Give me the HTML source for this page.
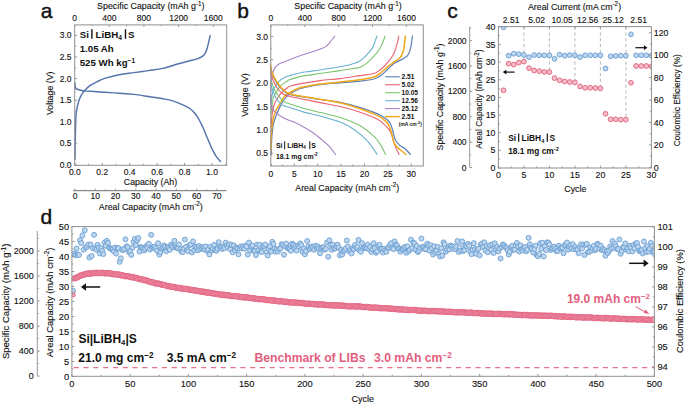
<!DOCTYPE html>
<html><head><meta charset="utf-8"><style>
html,body{margin:0;padding:0;background:#fff;width:685px;height:404px;overflow:hidden;}
svg{display:block;font-family:"Liberation Sans", sans-serif;}
</style></head><body>
<svg width="685" height="404" viewBox="0 0 685 404" font-family='"Liberation Sans", sans-serif'><text x="46.5" y="17.8" font-size="21" text-anchor="middle" fill="#111" stroke="#111" stroke-width="0.4">a</text>
<path d="M75,159.3 C75.02,157.28 75.02,152.12 75.1,147.2 C75.18,142.28 75.38,134.73 75.5,129.8 C75.62,124.87 75.57,121.08 75.8,117.6 C76.03,114.12 76.37,111.8 76.9,108.9 C77.43,106 78.2,102.6 79,100.2 C79.8,97.8 80.77,96.13 81.7,94.5 C82.63,92.87 83.12,91.95 84.6,90.4 C86.08,88.85 88.62,86.62 90.6,85.2 C92.58,83.78 94.17,83.03 96.5,81.9 C98.83,80.77 100.82,79.6 104.6,78.4 C108.38,77.2 114.33,75.67 119.2,74.7 C124.07,73.73 128.93,73.28 133.8,72.6 C138.67,71.92 143.53,71.3 148.4,70.6 C153.27,69.9 158.13,69.5 163,68.4 C167.87,67.3 173.88,65.07 177.6,64 C181.32,62.93 183.23,62.53 185.3,62 C187.37,61.47 187.92,61.37 190,60.8 C192.08,60.23 195.75,59.33 197.8,58.6 C199.85,57.87 201.08,57.28 202.3,56.4 C203.52,55.52 204.35,54.45 205.1,53.3 C205.85,52.15 206.25,51.15 206.8,49.5 C207.35,47.85 207.85,45.72 208.4,43.4 C208.95,41.08 209.82,36.9 210.1,35.6" fill="none" stroke="#5474ab" stroke-width="1.45" stroke-linecap="round" stroke-linejoin="round" />
<path d="M75,83 C75.03,83.58 75,85.57 75.2,86.5 C75.4,87.43 75.75,88.1 76.2,88.6 C76.65,89.1 76.75,89.13 77.9,89.5 C79.05,89.87 80.98,90.5 83.1,90.8 C85.22,91.1 87.02,91.07 90.6,91.3 C94.18,91.53 99.83,91.88 104.6,92.2 C109.37,92.52 114.33,92.83 119.2,93.2 C124.07,93.57 128.93,93.85 133.8,94.4 C138.67,94.95 143.53,95.77 148.4,96.5 C153.27,97.23 159.07,98.12 163,98.8 C166.93,99.48 169.17,99.8 172,100.6 C174.83,101.4 177.27,102.43 180,103.6 C182.73,104.77 186.23,106.33 188.4,107.6 C190.57,108.87 191.6,109.8 193,111.2 C194.4,112.6 195.72,114.45 196.8,116 C197.88,117.55 198.65,118.95 199.5,120.5 C200.35,122.05 201.07,123.55 201.9,125.3 C202.73,127.05 203.67,129.05 204.5,131 C205.33,132.95 206.07,135 206.9,137 C207.73,139 208.65,141.03 209.5,143 C210.35,144.97 210.88,146.57 212,148.8 C213.12,151.03 214.8,154.3 216.2,156.4 C217.6,158.5 219.7,160.57 220.4,161.4" fill="none" stroke="#5474ab" stroke-width="1.45" stroke-linecap="round" stroke-linejoin="round" />
<rect x="74.7" y="24.9" width="152" height="140.4" fill="none" stroke="#8f8f8f" stroke-width="1.0"/>
<line x1="74.7" y1="165" x2="77.2" y2="165" stroke="#8f8f8f" stroke-width="0.9" />
<text x="71.6" y="168" font-size="8.5" text-anchor="end" fill="#111" stroke="#111" stroke-width="0.12">0.0</text>
<line x1="74.7" y1="154.2" x2="76.2" y2="154.2" stroke="#8f8f8f" stroke-width="0.9" />
<line x1="74.7" y1="143.4" x2="77.2" y2="143.4" stroke="#8f8f8f" stroke-width="0.9" />
<text x="71.6" y="146.4" font-size="8.5" text-anchor="end" fill="#111" stroke="#111" stroke-width="0.12">0.5</text>
<line x1="74.7" y1="132.6" x2="76.2" y2="132.6" stroke="#8f8f8f" stroke-width="0.9" />
<line x1="74.7" y1="121.8" x2="77.2" y2="121.8" stroke="#8f8f8f" stroke-width="0.9" />
<text x="71.6" y="124.8" font-size="8.5" text-anchor="end" fill="#111" stroke="#111" stroke-width="0.12">1.0</text>
<line x1="74.7" y1="111" x2="76.2" y2="111" stroke="#8f8f8f" stroke-width="0.9" />
<line x1="74.7" y1="100.2" x2="77.2" y2="100.2" stroke="#8f8f8f" stroke-width="0.9" />
<text x="71.6" y="103.2" font-size="8.5" text-anchor="end" fill="#111" stroke="#111" stroke-width="0.12">1.5</text>
<line x1="74.7" y1="89.4" x2="76.2" y2="89.4" stroke="#8f8f8f" stroke-width="0.9" />
<line x1="74.7" y1="78.6" x2="77.2" y2="78.6" stroke="#8f8f8f" stroke-width="0.9" />
<text x="71.6" y="81.6" font-size="8.5" text-anchor="end" fill="#111" stroke="#111" stroke-width="0.12">2.0</text>
<line x1="74.7" y1="67.8" x2="76.2" y2="67.8" stroke="#8f8f8f" stroke-width="0.9" />
<line x1="74.7" y1="57" x2="77.2" y2="57" stroke="#8f8f8f" stroke-width="0.9" />
<text x="71.6" y="60" font-size="8.5" text-anchor="end" fill="#111" stroke="#111" stroke-width="0.12">2.5</text>
<line x1="74.7" y1="46.2" x2="76.2" y2="46.2" stroke="#8f8f8f" stroke-width="0.9" />
<line x1="74.7" y1="35.4" x2="77.2" y2="35.4" stroke="#8f8f8f" stroke-width="0.9" />
<text x="71.6" y="38.4" font-size="8.5" text-anchor="end" fill="#111" stroke="#111" stroke-width="0.12">3.0</text>
<line x1="74.8" y1="165.3" x2="74.8" y2="162.8" stroke="#8f8f8f" stroke-width="0.9" />
<text x="74.8" y="175" font-size="8.5" text-anchor="middle" fill="#111" stroke="#111" stroke-width="0.12">0.0</text>
<line x1="88.52" y1="165.3" x2="88.52" y2="163.8" stroke="#8f8f8f" stroke-width="0.9" />
<line x1="102.24" y1="165.3" x2="102.24" y2="162.8" stroke="#8f8f8f" stroke-width="0.9" />
<text x="102.24" y="175" font-size="8.5" text-anchor="middle" fill="#111" stroke="#111" stroke-width="0.12">0.2</text>
<line x1="115.96" y1="165.3" x2="115.96" y2="163.8" stroke="#8f8f8f" stroke-width="0.9" />
<line x1="129.68" y1="165.3" x2="129.68" y2="162.8" stroke="#8f8f8f" stroke-width="0.9" />
<text x="129.68" y="175" font-size="8.5" text-anchor="middle" fill="#111" stroke="#111" stroke-width="0.12">0.4</text>
<line x1="143.4" y1="165.3" x2="143.4" y2="163.8" stroke="#8f8f8f" stroke-width="0.9" />
<line x1="157.12" y1="165.3" x2="157.12" y2="162.8" stroke="#8f8f8f" stroke-width="0.9" />
<text x="157.12" y="175" font-size="8.5" text-anchor="middle" fill="#111" stroke="#111" stroke-width="0.12">0.6</text>
<line x1="170.84" y1="165.3" x2="170.84" y2="163.8" stroke="#8f8f8f" stroke-width="0.9" />
<line x1="184.56" y1="165.3" x2="184.56" y2="162.8" stroke="#8f8f8f" stroke-width="0.9" />
<text x="184.56" y="175" font-size="8.5" text-anchor="middle" fill="#111" stroke="#111" stroke-width="0.12">0.8</text>
<line x1="198.28" y1="165.3" x2="198.28" y2="163.8" stroke="#8f8f8f" stroke-width="0.9" />
<line x1="212" y1="165.3" x2="212" y2="162.8" stroke="#8f8f8f" stroke-width="0.9" />
<text x="212" y="175" font-size="8.5" text-anchor="middle" fill="#111" stroke="#111" stroke-width="0.12">1.0</text>
<line x1="225.72" y1="165.3" x2="225.72" y2="163.8" stroke="#8f8f8f" stroke-width="0.9" />
<text x="150.5" y="184.8" font-size="8.8" text-anchor="middle" fill="#111" stroke="#111" stroke-width="0.12">Capacity (Ah)</text>
<line x1="74.6" y1="24.9" x2="74.6" y2="27.1" stroke="#8f8f8f" stroke-width="0.9" />
<text x="74.6" y="20.6" font-size="8.5" text-anchor="middle" fill="#111" stroke="#111" stroke-width="0.12">0</text>
<line x1="91.94" y1="24.9" x2="91.94" y2="26.2" stroke="#8f8f8f" stroke-width="0.9" />
<line x1="109.28" y1="24.9" x2="109.28" y2="27.1" stroke="#8f8f8f" stroke-width="0.9" />
<text x="109.28" y="20.6" font-size="8.5" text-anchor="middle" fill="#111" stroke="#111" stroke-width="0.12">400</text>
<line x1="126.62" y1="24.9" x2="126.62" y2="26.2" stroke="#8f8f8f" stroke-width="0.9" />
<line x1="143.96" y1="24.9" x2="143.96" y2="27.1" stroke="#8f8f8f" stroke-width="0.9" />
<text x="143.96" y="20.6" font-size="8.5" text-anchor="middle" fill="#111" stroke="#111" stroke-width="0.12">800</text>
<line x1="161.3" y1="24.9" x2="161.3" y2="26.2" stroke="#8f8f8f" stroke-width="0.9" />
<line x1="178.64" y1="24.9" x2="178.64" y2="27.1" stroke="#8f8f8f" stroke-width="0.9" />
<text x="178.64" y="20.6" font-size="8.5" text-anchor="middle" fill="#111" stroke="#111" stroke-width="0.12">1200</text>
<line x1="195.98" y1="24.9" x2="195.98" y2="26.2" stroke="#8f8f8f" stroke-width="0.9" />
<line x1="213.32" y1="24.9" x2="213.32" y2="27.1" stroke="#8f8f8f" stroke-width="0.9" />
<text x="213.32" y="20.6" font-size="8.5" text-anchor="middle" fill="#111" stroke="#111" stroke-width="0.12">1600</text>
<text x="150.8" y="9.1" font-size="8.85" text-anchor="middle" fill="#111" stroke="#111" stroke-width="0.12">Specific Capacity (mAh g<tspan dy="-3.6" font-size="6.3">-1</tspan><tspan dy="3.6">)</tspan></text>
<line x1="73.1" y1="190.6" x2="226.4" y2="190.6" stroke="#8a8a8a" stroke-width="1.1" />
<line x1="75" y1="190.6" x2="75" y2="188.6" stroke="#8f8f8f" stroke-width="0.9" />
<text x="75" y="198.6" font-size="8.5" text-anchor="middle" fill="#111" stroke="#111" stroke-width="0.12">0</text>
<line x1="85.14" y1="190.6" x2="85.14" y2="189.4" stroke="#8f8f8f" stroke-width="0.9" />
<line x1="95.27" y1="190.6" x2="95.27" y2="188.6" stroke="#8f8f8f" stroke-width="0.9" />
<text x="95.27" y="198.6" font-size="8.5" text-anchor="middle" fill="#111" stroke="#111" stroke-width="0.12">10</text>
<line x1="105.41" y1="190.6" x2="105.41" y2="189.4" stroke="#8f8f8f" stroke-width="0.9" />
<line x1="115.54" y1="190.6" x2="115.54" y2="188.6" stroke="#8f8f8f" stroke-width="0.9" />
<text x="115.54" y="198.6" font-size="8.5" text-anchor="middle" fill="#111" stroke="#111" stroke-width="0.12">20</text>
<line x1="125.68" y1="190.6" x2="125.68" y2="189.4" stroke="#8f8f8f" stroke-width="0.9" />
<line x1="135.81" y1="190.6" x2="135.81" y2="188.6" stroke="#8f8f8f" stroke-width="0.9" />
<text x="135.81" y="198.6" font-size="8.5" text-anchor="middle" fill="#111" stroke="#111" stroke-width="0.12">30</text>
<line x1="145.94" y1="190.6" x2="145.94" y2="189.4" stroke="#8f8f8f" stroke-width="0.9" />
<line x1="156.08" y1="190.6" x2="156.08" y2="188.6" stroke="#8f8f8f" stroke-width="0.9" />
<text x="156.08" y="198.6" font-size="8.5" text-anchor="middle" fill="#111" stroke="#111" stroke-width="0.12">40</text>
<line x1="166.22" y1="190.6" x2="166.22" y2="189.4" stroke="#8f8f8f" stroke-width="0.9" />
<line x1="176.35" y1="190.6" x2="176.35" y2="188.6" stroke="#8f8f8f" stroke-width="0.9" />
<text x="176.35" y="198.6" font-size="8.5" text-anchor="middle" fill="#111" stroke="#111" stroke-width="0.12">50</text>
<line x1="186.49" y1="190.6" x2="186.49" y2="189.4" stroke="#8f8f8f" stroke-width="0.9" />
<line x1="196.62" y1="190.6" x2="196.62" y2="188.6" stroke="#8f8f8f" stroke-width="0.9" />
<text x="196.62" y="198.6" font-size="8.5" text-anchor="middle" fill="#111" stroke="#111" stroke-width="0.12">60</text>
<line x1="206.75" y1="190.6" x2="206.75" y2="189.4" stroke="#8f8f8f" stroke-width="0.9" />
<line x1="216.89" y1="190.6" x2="216.89" y2="188.6" stroke="#8f8f8f" stroke-width="0.9" />
<text x="216.89" y="198.6" font-size="8.5" text-anchor="middle" fill="#111" stroke="#111" stroke-width="0.12">70</text>
<text x="150.8" y="210" font-size="8.85" text-anchor="middle" fill="#111" stroke="#111" stroke-width="0.12">Areal Capacity (mAh cm<tspan dy="-3.6" font-size="6.3">-2</tspan><tspan dy="3.6">)</tspan></text>
<text x="52.8" y="93.3" font-size="8.8" text-anchor="middle" fill="#111" stroke="#111" stroke-width="0.12" transform="rotate(-90 52.8 93.3)">Voltage (V)</text>
<text x="79.7" y="38.2" font-size="9.7" text-anchor="start" font-weight="bold" fill="#111">Si</text>
<line x1="91.9" y1="29.3" x2="91.9" y2="38.8" stroke="#111" stroke-width="1.4" />
<text x="95.6" y="38.2" font-size="9.7" text-anchor="start" font-weight="bold" fill="#111">LiBH<tspan dy="2.2" font-size="6.6">4</tspan></text>
<line x1="125.5" y1="29.3" x2="125.5" y2="38.8" stroke="#111" stroke-width="1.4" />
<text x="127.9" y="38.2" font-size="9.7" text-anchor="start" font-weight="bold" fill="#111">S</text>
<text x="79.7" y="52.2" font-size="9.7" text-anchor="start" font-weight="bold" fill="#111">1.05 Ah</text>
<text x="79.7" y="65.9" font-size="9.7" text-anchor="start" font-weight="bold" fill="#111">525 Wh kg<tspan dy="-3.4" font-size="6.6">−1</tspan></text>
<text x="243" y="17.7" font-size="21" text-anchor="middle" fill="#111" stroke="#111" stroke-width="0.4">b</text>
<path d="M271,92 C271.05,90.33 271.13,84.67 271.3,82 C271.47,79.33 271.73,77.57 272,76 C272.27,74.43 272.42,73.95 272.9,72.6 C273.38,71.25 273.9,69.33 274.9,67.9 C275.9,66.47 277.08,65.1 278.9,64 C280.72,62.9 283.5,62.22 285.8,61.3 C288.1,60.38 289.48,59.7 292.7,58.5 C295.92,57.3 300.97,55.52 305.1,54.1 C309.23,52.68 314.52,51.02 317.5,50 C320.48,48.98 321.57,48.6 323,48 C324.43,47.4 325.22,47 326.1,46.4 C326.98,45.8 327.62,45.17 328.3,44.4 C328.98,43.63 329.5,42.7 330.2,41.8 C330.9,40.9 331.73,39.93 332.5,39 C333.27,38.07 334.42,36.67 334.8,36.2" fill="none" stroke="#a784c4" stroke-width="1.1" stroke-linecap="round" stroke-linejoin="round" />
<path d="M271,104 C271.22,102.33 271.82,96.5 272.3,94 C272.78,91.5 273.3,90.42 273.9,89 C274.5,87.58 274.73,87.07 275.9,85.5 C277.07,83.93 279.25,81.05 280.9,79.6 C282.55,78.15 284.3,77.5 285.8,76.8 C287.3,76.1 287.57,76.03 289.9,75.4 C292.23,74.77 297.02,73.6 299.8,73 C302.58,72.4 303.23,72.3 306.6,71.8 C309.97,71.3 314.43,70.83 320,70 C325.57,69.17 335,67.68 340,66.8 C345,65.92 347.33,65.37 350,64.7 C352.67,64.03 354.33,63.42 356,62.8 C357.67,62.18 358.75,61.82 360,61 C361.25,60.18 362.35,58.93 363.5,57.9 C364.65,56.87 365.4,56.47 366.9,54.8 C368.4,53.13 371.12,50.22 372.5,47.9 C373.88,45.58 374.47,42.87 375.2,40.9 C375.93,38.93 376.62,36.9 376.9,36.1" fill="none" stroke="#6ab3d0" stroke-width="1.1" stroke-linecap="round" stroke-linejoin="round" />
<path d="M271,114 C271.33,111.5 272.25,102.42 273,99 C273.75,95.58 274.68,95.07 275.5,93.5 C276.32,91.93 277.15,90.82 277.9,89.6 C278.65,88.38 278.68,87.47 280,86.2 C281.32,84.93 284.15,83.1 285.8,82 C287.45,80.9 287.57,80.5 289.9,79.6 C292.23,78.7 294.78,77.62 299.8,76.6 C304.82,75.58 313.3,74.5 320,73.5 C326.7,72.5 334.67,71.38 340,70.6 C345.33,69.82 348.67,69.37 352,68.8 C355.33,68.23 357.52,68.15 360,67.2 C362.48,66.25 364.58,64.93 366.9,63.1 C369.22,61.27 371.82,58.52 373.9,56.2 C375.98,53.88 377.9,51.52 379.4,49.2 C380.9,46.88 381.98,44.48 382.9,42.3 C383.82,40.12 384.57,37.13 384.9,36.1" fill="none" stroke="#7cc46f" stroke-width="1.1" stroke-linecap="round" stroke-linejoin="round" />
<path d="M271,128 C271.22,125.5 271.67,117.17 272.3,113 C272.93,108.83 273.77,105.75 274.8,103 C275.83,100.25 277.13,98.45 278.5,96.5 C279.87,94.55 281.45,92.8 283,91.3 C284.55,89.8 286.65,88.33 287.8,87.5 C288.95,86.67 287.9,86.9 289.9,86.3 C291.9,85.7 294.78,84.85 299.8,83.9 C304.82,82.95 313.3,81.48 320,80.6 C326.7,79.72 333.33,79.43 340,78.6 C346.67,77.77 354.35,76.45 360,75.6 C365.65,74.75 370.43,74.55 373.9,73.5 C377.37,72.45 378.5,71.15 380.8,69.3 C383.1,67.45 385.62,64.82 387.7,62.4 C389.78,59.98 391.8,57.68 393.3,54.8 C394.8,51.92 395.78,48.22 396.7,45.1 C397.62,41.98 398.45,37.6 398.8,36.1" fill="none" stroke="#e8636f" stroke-width="1.1" stroke-linecap="round" stroke-linejoin="round" />
<path d="M271.2,155 C271.27,152.5 271.22,145.17 271.6,140 C271.98,134.83 272.6,128.42 273.5,124 C274.4,119.58 275.92,116.4 277,113.5 C278.08,110.6 278.67,109.1 280,106.6 C281.33,104.1 283.35,100.63 285,98.5 C286.65,96.37 287.43,95.42 289.9,93.8 C292.37,92.18 296.5,90.02 299.8,88.8 C303.1,87.58 306.33,87.2 309.7,86.5 C313.07,85.8 314.95,85.2 320,84.6 C325.05,84 333.33,83.48 340,82.9 C346.67,82.32 354.35,81.75 360,81.1 C365.65,80.45 370.43,79.92 373.9,79 C377.37,78.08 378.5,77.22 380.8,75.6 C383.1,73.98 385.4,71.38 387.7,69.3 C390,67.22 392.28,64.72 394.6,63.1 C396.92,61.48 399.52,60.75 401.6,59.6 C403.68,58.45 405.72,57.7 407.1,56.2 C408.48,54.7 409.18,52.63 409.9,50.6 C410.62,48.57 410.98,46.42 411.4,44 C411.82,41.58 412.23,37.42 412.4,36.1" fill="none" stroke="#5a7db5" stroke-width="1.2" stroke-linecap="round" stroke-linejoin="round" />
<path d="M271,150 C271.05,147.53 270.97,140.3 271.3,135.2 C271.63,130.1 272.22,123.52 273,119.4 C273.78,115.28 274.83,113.12 276,110.5 C277.17,107.88 278.5,106.17 280,103.7 C281.5,101.23 283.35,97.6 285,95.7 C286.65,93.8 287.43,93.62 289.9,92.3 C292.37,90.98 296.5,88.88 299.8,87.8 C303.1,86.72 306.33,86.43 309.7,85.8 C313.07,85.17 314.95,84.63 320,84 C325.05,83.37 333.33,82.72 340,82 C346.67,81.28 354.35,80.53 360,79.7 C365.65,78.87 370.43,78.15 373.9,77 C377.37,75.85 378.5,74.53 380.8,72.8 C383.1,71.07 385.4,68.45 387.7,66.6 C390,64.75 392.52,63.2 394.6,61.7 C396.68,60.2 398.8,59.22 400.2,57.6 C401.6,55.98 402.32,54.08 403,52 C403.68,49.92 403.9,47.75 404.3,45.1 C404.7,42.45 405.22,37.6 405.4,36.1" fill="none" stroke="#f0a81c" stroke-width="1.5" stroke-linecap="round" stroke-linejoin="round" />
<path d="M270.7,95 C270.73,96.25 270.68,100.42 270.9,102.5 C271.12,104.58 271.45,106.05 272,107.5 C272.55,108.95 272.98,109.9 274.2,111.2 C275.42,112.5 277.57,114.1 279.3,115.3 C281.03,116.5 282.18,117.27 284.6,118.4 C287.02,119.53 290.72,120.72 293.8,122.1 C296.88,123.48 300,125 303.1,126.7 C306.2,128.4 309.3,130.13 312.4,132.3 C315.5,134.47 318.92,137.38 321.7,139.7 C324.48,142.02 326.78,143.72 329.1,146.2 C331.42,148.68 334.52,153.2 335.6,154.6" fill="none" stroke="#a784c4" stroke-width="1.1" stroke-linecap="round" stroke-linejoin="round" />
<path d="M271,85.5 C271.48,86.83 272.92,91.2 273.9,93.5 C274.88,95.8 275.8,97.62 276.9,99.3 C278,100.98 279.22,102.48 280.5,103.6 C281.78,104.72 283.03,105.33 284.6,106 C286.17,106.67 286.82,106.62 289.9,107.6 C292.98,108.58 297.8,110.42 303.1,111.9 C308.4,113.38 315.55,114.8 321.7,116.5 C327.85,118.2 334.48,119.85 340,122.1 C345.52,124.35 350.17,126.78 354.8,130 C359.43,133.22 364.08,137.33 367.8,141.4 C371.52,145.47 375.55,152.23 377.1,154.4" fill="none" stroke="#6ab3d0" stroke-width="1.1" stroke-linecap="round" stroke-linejoin="round" />
<path d="M270.8,80.5 C271.32,81.83 272.72,86.08 273.9,88.5 C275.08,90.92 276.63,93.18 277.9,95 C279.17,96.82 280.38,98.23 281.5,99.4 C282.62,100.57 283.2,101.23 284.6,102 C286,102.77 286.82,102.97 289.9,104 C292.98,105.03 297.8,106.73 303.1,108.2 C308.4,109.67 315.55,111.27 321.7,112.8 C327.85,114.33 333.85,115.42 340,117.4 C346.15,119.38 353.03,121.63 358.6,124.7 C364.17,127.77 369.7,132.4 373.4,135.8 C377.1,139.2 378.78,142 380.8,145.1 C382.82,148.2 384.72,152.85 385.5,154.4" fill="none" stroke="#7cc46f" stroke-width="1.1" stroke-linecap="round" stroke-linejoin="round" />
<path d="M270.6,72.5 C270.98,73.72 271.85,77.3 272.9,79.8 C273.95,82.3 275.55,85.42 276.9,87.5 C278.25,89.58 279.65,91.07 281,92.3 C282.35,93.53 283.52,94.2 285,94.9 C286.48,95.6 287.43,95.9 289.9,96.5 C292.37,97.1 294.78,97.48 299.8,98.5 C304.82,99.52 313.3,101.27 320,102.6 C326.7,103.93 333.57,104.98 340,106.5 C346.43,108.02 352.42,109.6 358.6,111.7 C364.78,113.8 372.47,116.62 377.1,119.1 C381.73,121.58 384.17,124.45 386.4,126.6 C388.63,128.75 389.48,130.18 390.5,132 C391.52,133.82 391.78,135.32 392.5,137.5 C393.22,139.68 393.72,142.28 394.8,145.1 C395.88,147.92 398.3,152.85 399,154.4" fill="none" stroke="#e8636f" stroke-width="1.1" stroke-linecap="round" stroke-linejoin="round" />
<path d="M270.8,66.8 C270.87,67.3 270.95,68.63 271.2,69.8 C271.45,70.97 271.78,72.33 272.3,73.8 C272.82,75.27 273.47,76.97 274.3,78.6 C275.13,80.23 276.28,82.1 277.3,83.6 C278.32,85.1 279.08,86.2 280.4,87.6 C281.72,89 283.6,90.82 285.2,92 C286.8,93.18 287.57,93.97 290,94.7 C292.43,95.43 296.52,95.85 299.8,96.4 C303.08,96.95 306.33,97.48 309.7,98 C313.07,98.52 314.95,98.77 320,99.5 C325.05,100.23 333.57,101.13 340,102.4 C346.43,103.67 352.42,105.23 358.6,107.1 C364.78,108.97 372.47,111.6 377.1,113.6 C381.73,115.6 384.2,117.45 386.4,119.1 C388.6,120.75 389.27,121.68 390.3,123.5 C391.33,125.32 391.93,127.75 392.6,130 C393.27,132.25 393.78,135.25 394.3,137 C394.82,138.75 394.85,139.15 395.7,140.5 C396.55,141.85 397.85,143.72 399.4,145.1 C400.95,146.48 403.15,147.25 405,148.8 C406.85,150.35 409.58,153.47 410.5,154.4" fill="none" stroke="#5a7db5" stroke-width="1.2" stroke-linecap="round" stroke-linejoin="round" />
<path d="M270.6,64.5 C270.63,65 270.58,66.27 270.8,67.5 C271.02,68.73 271.38,70.35 271.9,71.9 C272.42,73.45 273.07,75.15 273.9,76.8 C274.73,78.45 275.88,80.22 276.9,81.8 C277.92,83.38 278.72,84.77 280,86.3 C281.28,87.83 282.95,89.72 284.6,91 C286.25,92.28 287.37,93.18 289.9,94 C292.43,94.82 296.5,95.3 299.8,95.9 C303.1,96.5 306.33,97.05 309.7,97.6 C313.07,98.15 314.95,98.33 320,99.2 C325.05,100.07 333.57,101.3 340,102.8 C346.43,104.3 352.42,106.1 358.6,108.2 C364.78,110.3 372.47,113.12 377.1,115.4 C381.73,117.68 384.23,119.73 386.4,121.9 C388.57,124.07 389.13,126.13 390.1,128.4 C391.07,130.67 391.58,133.23 392.2,135.5 C392.82,137.77 393.08,140.15 393.8,142 C394.52,143.85 395.3,145.18 396.5,146.6 C397.7,148.02 399.43,149.2 401,150.5 C402.57,151.8 405.08,153.75 405.9,154.4" fill="none" stroke="#f0a81c" stroke-width="1.5" stroke-linecap="round" stroke-linejoin="round" />
<rect x="270.8" y="24.9" width="152.5" height="141.1" fill="none" stroke="#8f8f8f" stroke-width="1.0"/>
<line x1="270.8" y1="164.93" x2="272.3" y2="164.93" stroke="#8f8f8f" stroke-width="0.9" />
<line x1="270.8" y1="153.25" x2="273.3" y2="153.25" stroke="#8f8f8f" stroke-width="0.9" />
<text x="268.1" y="156.25" font-size="8.5" text-anchor="end" fill="#111" stroke="#111" stroke-width="0.12">0.5</text>
<line x1="270.8" y1="141.57" x2="272.3" y2="141.57" stroke="#8f8f8f" stroke-width="0.9" />
<line x1="270.8" y1="129.9" x2="273.3" y2="129.9" stroke="#8f8f8f" stroke-width="0.9" />
<text x="268.1" y="132.9" font-size="8.5" text-anchor="end" fill="#111" stroke="#111" stroke-width="0.12">1.0</text>
<line x1="270.8" y1="118.23" x2="272.3" y2="118.23" stroke="#8f8f8f" stroke-width="0.9" />
<line x1="270.8" y1="106.55" x2="273.3" y2="106.55" stroke="#8f8f8f" stroke-width="0.9" />
<text x="268.1" y="109.55" font-size="8.5" text-anchor="end" fill="#111" stroke="#111" stroke-width="0.12">1.5</text>
<line x1="270.8" y1="94.88" x2="272.3" y2="94.88" stroke="#8f8f8f" stroke-width="0.9" />
<line x1="270.8" y1="83.2" x2="273.3" y2="83.2" stroke="#8f8f8f" stroke-width="0.9" />
<text x="268.1" y="86.2" font-size="8.5" text-anchor="end" fill="#111" stroke="#111" stroke-width="0.12">2.0</text>
<line x1="270.8" y1="71.53" x2="272.3" y2="71.53" stroke="#8f8f8f" stroke-width="0.9" />
<line x1="270.8" y1="59.85" x2="273.3" y2="59.85" stroke="#8f8f8f" stroke-width="0.9" />
<text x="268.1" y="62.85" font-size="8.5" text-anchor="end" fill="#111" stroke="#111" stroke-width="0.12">2.5</text>
<line x1="270.8" y1="48.17" x2="272.3" y2="48.17" stroke="#8f8f8f" stroke-width="0.9" />
<line x1="270.8" y1="36.5" x2="273.3" y2="36.5" stroke="#8f8f8f" stroke-width="0.9" />
<text x="268.1" y="39.5" font-size="8.5" text-anchor="end" fill="#111" stroke="#111" stroke-width="0.12">3.0</text>
<line x1="270.9" y1="166" x2="270.9" y2="163.5" stroke="#8f8f8f" stroke-width="0.9" />
<text x="270.9" y="177.3" font-size="8.5" text-anchor="middle" fill="#111" stroke="#111" stroke-width="0.12">0</text>
<line x1="282.6" y1="166" x2="282.6" y2="164.5" stroke="#8f8f8f" stroke-width="0.9" />
<line x1="294.3" y1="166" x2="294.3" y2="163.5" stroke="#8f8f8f" stroke-width="0.9" />
<text x="294.3" y="177.3" font-size="8.5" text-anchor="middle" fill="#111" stroke="#111" stroke-width="0.12">5</text>
<line x1="306" y1="166" x2="306" y2="164.5" stroke="#8f8f8f" stroke-width="0.9" />
<line x1="317.7" y1="166" x2="317.7" y2="163.5" stroke="#8f8f8f" stroke-width="0.9" />
<text x="317.7" y="177.3" font-size="8.5" text-anchor="middle" fill="#111" stroke="#111" stroke-width="0.12">10</text>
<line x1="329.4" y1="166" x2="329.4" y2="164.5" stroke="#8f8f8f" stroke-width="0.9" />
<line x1="341.1" y1="166" x2="341.1" y2="163.5" stroke="#8f8f8f" stroke-width="0.9" />
<text x="341.1" y="177.3" font-size="8.5" text-anchor="middle" fill="#111" stroke="#111" stroke-width="0.12">15</text>
<line x1="352.8" y1="166" x2="352.8" y2="164.5" stroke="#8f8f8f" stroke-width="0.9" />
<line x1="364.5" y1="166" x2="364.5" y2="163.5" stroke="#8f8f8f" stroke-width="0.9" />
<text x="364.5" y="177.3" font-size="8.5" text-anchor="middle" fill="#111" stroke="#111" stroke-width="0.12">20</text>
<line x1="376.2" y1="166" x2="376.2" y2="164.5" stroke="#8f8f8f" stroke-width="0.9" />
<line x1="387.9" y1="166" x2="387.9" y2="163.5" stroke="#8f8f8f" stroke-width="0.9" />
<text x="387.9" y="177.3" font-size="8.5" text-anchor="middle" fill="#111" stroke="#111" stroke-width="0.12">25</text>
<line x1="399.6" y1="166" x2="399.6" y2="164.5" stroke="#8f8f8f" stroke-width="0.9" />
<line x1="411.3" y1="166" x2="411.3" y2="163.5" stroke="#8f8f8f" stroke-width="0.9" />
<text x="411.3" y="177.3" font-size="8.5" text-anchor="middle" fill="#111" stroke="#111" stroke-width="0.12">30</text>
<text x="347.2" y="190.8" font-size="8.85" text-anchor="middle" fill="#111" stroke="#111" stroke-width="0.12">Areal Capacity (mAh cm<tspan dy="-3.6" font-size="6.3">-2</tspan><tspan dy="3.6">)</tspan></text>
<line x1="270.9" y1="24.9" x2="270.9" y2="27.1" stroke="#8f8f8f" stroke-width="0.9" />
<text x="270.9" y="20.6" font-size="8.5" text-anchor="middle" fill="#111" stroke="#111" stroke-width="0.12">0</text>
<line x1="287.84" y1="24.9" x2="287.84" y2="26.2" stroke="#8f8f8f" stroke-width="0.9" />
<line x1="304.78" y1="24.9" x2="304.78" y2="27.1" stroke="#8f8f8f" stroke-width="0.9" />
<text x="304.78" y="20.6" font-size="8.5" text-anchor="middle" fill="#111" stroke="#111" stroke-width="0.12">400</text>
<line x1="321.72" y1="24.9" x2="321.72" y2="26.2" stroke="#8f8f8f" stroke-width="0.9" />
<line x1="338.66" y1="24.9" x2="338.66" y2="27.1" stroke="#8f8f8f" stroke-width="0.9" />
<text x="338.66" y="20.6" font-size="8.5" text-anchor="middle" fill="#111" stroke="#111" stroke-width="0.12">800</text>
<line x1="355.6" y1="24.9" x2="355.6" y2="26.2" stroke="#8f8f8f" stroke-width="0.9" />
<line x1="372.54" y1="24.9" x2="372.54" y2="27.1" stroke="#8f8f8f" stroke-width="0.9" />
<text x="372.54" y="20.6" font-size="8.5" text-anchor="middle" fill="#111" stroke="#111" stroke-width="0.12">1200</text>
<line x1="389.48" y1="24.9" x2="389.48" y2="26.2" stroke="#8f8f8f" stroke-width="0.9" />
<line x1="406.42" y1="24.9" x2="406.42" y2="27.1" stroke="#8f8f8f" stroke-width="0.9" />
<text x="406.42" y="20.6" font-size="8.5" text-anchor="middle" fill="#111" stroke="#111" stroke-width="0.12">1600</text>
<text x="348" y="9.1" font-size="8.85" text-anchor="middle" fill="#111" stroke="#111" stroke-width="0.12">Specific Capacity (mAh g<tspan dy="-3.6" font-size="6.3">-1</tspan><tspan dy="3.6">)</tspan></text>
<text x="248" y="95" font-size="8.8" text-anchor="middle" fill="#111" stroke="#111" stroke-width="0.12" transform="rotate(-90 248 95)">Voltage (V)</text>
<line x1="385.1" y1="76.8" x2="399.8" y2="76.8" stroke="#5a7db5" stroke-width="1.1" />
<text x="401.5" y="79.1" font-size="6.6" text-anchor="start" font-weight="bold" fill="#111">2.51</text>
<line x1="385.1" y1="84.75" x2="399.8" y2="84.75" stroke="#e8636f" stroke-width="1.1" />
<text x="401.5" y="87.05" font-size="6.6" text-anchor="start" font-weight="bold" fill="#111">5.02</text>
<line x1="385.1" y1="92.7" x2="399.8" y2="92.7" stroke="#7cc46f" stroke-width="1.1" />
<text x="401.5" y="95" font-size="6.6" text-anchor="start" font-weight="bold" fill="#111">10.05</text>
<line x1="385.1" y1="100.65" x2="399.8" y2="100.65" stroke="#6ab3d0" stroke-width="1.1" />
<text x="401.5" y="102.95" font-size="6.6" text-anchor="start" font-weight="bold" fill="#111">12.56</text>
<line x1="385.1" y1="108.6" x2="399.8" y2="108.6" stroke="#a784c4" stroke-width="1.1" />
<text x="401.5" y="110.9" font-size="6.6" text-anchor="start" font-weight="bold" fill="#111">25.12</text>
<line x1="385.1" y1="116.55" x2="399.8" y2="116.55" stroke="#f0a81c" stroke-width="1.5" />
<text x="401.5" y="118.85" font-size="6.6" text-anchor="start" font-weight="bold" fill="#111">2.51</text>
<text x="398.8" y="126.3" font-size="4.95" text-anchor="start" font-weight="bold" fill="#111">(mA cm<tspan dy="-2.2" font-size="3.8">-2</tspan><tspan dy="2.2">)</tspan></text>
<text x="276" y="147.8" font-size="6.9" text-anchor="start" font-weight="bold" fill="#111">Si</text>
<line x1="284.7" y1="141.3" x2="284.7" y2="149.2" stroke="#111" stroke-width="1.0" />
<text x="287.2" y="147.8" font-size="6.9" text-anchor="start" font-weight="bold" fill="#111">LiBH<tspan dy="1.6" font-size="4.6">4</tspan></text>
<line x1="309.8" y1="141.3" x2="309.8" y2="149.2" stroke="#111" stroke-width="1.0" />
<text x="311.3" y="147.8" font-size="6.9" text-anchor="start" font-weight="bold" fill="#111">S</text>
<text x="276" y="159" font-size="6.9" text-anchor="start" font-weight="bold" fill="#111">18.1 mg cm<tspan dy="-2.6" font-size="4.6">-2</tspan></text>
<text x="452.5" y="17.8" font-size="21" text-anchor="middle" fill="#111" stroke="#111" stroke-width="0.4">c</text>
<line x1="523.9" y1="26.6" x2="523.9" y2="61.6" stroke="#9a9a9a" stroke-width="0.7" stroke-dasharray="3.2,2.6"/>
<line x1="549.4" y1="26.6" x2="549.4" y2="72.1" stroke="#9a9a9a" stroke-width="0.7" stroke-dasharray="3.2,2.6"/>
<line x1="574.9" y1="26.6" x2="574.9" y2="82.4" stroke="#9a9a9a" stroke-width="0.7" stroke-dasharray="3.2,2.6"/>
<line x1="600.4" y1="26.6" x2="600.4" y2="88.4" stroke="#9a9a9a" stroke-width="0.7" stroke-dasharray="3.2,2.6"/>
<line x1="625.9" y1="26.6" x2="625.9" y2="119.7" stroke="#9a9a9a" stroke-width="0.7" stroke-dasharray="3.2,2.6"/>
<clipPath id="clipc"><rect x="498.4" y="26.6" width="153.0" height="141.4"/></clipPath>
<g clip-path="url(#clipc)">
<circle cx="503.5" cy="27.3" r="2.4" fill="#bdd5ee" stroke="#649bd0" stroke-width="0.9"/>
<circle cx="508.6" cy="55.7" r="2.4" fill="#bdd5ee" stroke="#649bd0" stroke-width="0.9"/>
<circle cx="513.7" cy="53.7" r="2.4" fill="#bdd5ee" stroke="#649bd0" stroke-width="0.9"/>
<circle cx="518.8" cy="54.1" r="2.4" fill="#bdd5ee" stroke="#649bd0" stroke-width="0.9"/>
<circle cx="523.9" cy="54.9" r="2.4" fill="#bdd5ee" stroke="#649bd0" stroke-width="0.9"/>
<circle cx="529" cy="57.2" r="2.4" fill="#bdd5ee" stroke="#649bd0" stroke-width="0.9"/>
<circle cx="534.1" cy="55.1" r="2.4" fill="#bdd5ee" stroke="#649bd0" stroke-width="0.9"/>
<circle cx="539.2" cy="55.3" r="2.4" fill="#bdd5ee" stroke="#649bd0" stroke-width="0.9"/>
<circle cx="544.3" cy="55.3" r="2.4" fill="#bdd5ee" stroke="#649bd0" stroke-width="0.9"/>
<circle cx="549.4" cy="55.3" r="2.4" fill="#bdd5ee" stroke="#649bd0" stroke-width="0.9"/>
<circle cx="554.5" cy="58.8" r="2.4" fill="#bdd5ee" stroke="#649bd0" stroke-width="0.9"/>
<circle cx="559.6" cy="54.7" r="2.4" fill="#bdd5ee" stroke="#649bd0" stroke-width="0.9"/>
<circle cx="564.7" cy="55.7" r="2.4" fill="#bdd5ee" stroke="#649bd0" stroke-width="0.9"/>
<circle cx="569.8" cy="55.1" r="2.4" fill="#bdd5ee" stroke="#649bd0" stroke-width="0.9"/>
<circle cx="574.9" cy="55.3" r="2.4" fill="#bdd5ee" stroke="#649bd0" stroke-width="0.9"/>
<circle cx="580" cy="57.1" r="2.4" fill="#bdd5ee" stroke="#649bd0" stroke-width="0.9"/>
<circle cx="585.1" cy="55.3" r="2.4" fill="#bdd5ee" stroke="#649bd0" stroke-width="0.9"/>
<circle cx="590.2" cy="55.3" r="2.4" fill="#bdd5ee" stroke="#649bd0" stroke-width="0.9"/>
<circle cx="595.3" cy="55.3" r="2.4" fill="#bdd5ee" stroke="#649bd0" stroke-width="0.9"/>
<circle cx="600.4" cy="55.3" r="2.4" fill="#bdd5ee" stroke="#649bd0" stroke-width="0.9"/>
<circle cx="605.5" cy="68.5" r="2.4" fill="#bdd5ee" stroke="#649bd0" stroke-width="0.9"/>
<circle cx="610.6" cy="56.3" r="2.4" fill="#bdd5ee" stroke="#649bd0" stroke-width="0.9"/>
<circle cx="615.7" cy="55.9" r="2.4" fill="#bdd5ee" stroke="#649bd0" stroke-width="0.9"/>
<circle cx="620.8" cy="55.7" r="2.4" fill="#bdd5ee" stroke="#649bd0" stroke-width="0.9"/>
<circle cx="625.9" cy="55.7" r="2.4" fill="#bdd5ee" stroke="#649bd0" stroke-width="0.9"/>
<circle cx="631" cy="34.3" r="2.4" fill="#bdd5ee" stroke="#649bd0" stroke-width="0.9"/>
<circle cx="636.1" cy="55.3" r="2.4" fill="#bdd5ee" stroke="#649bd0" stroke-width="0.9"/>
<circle cx="641.2" cy="55.3" r="2.4" fill="#bdd5ee" stroke="#649bd0" stroke-width="0.9"/>
<circle cx="646.3" cy="55.3" r="2.4" fill="#bdd5ee" stroke="#649bd0" stroke-width="0.9"/>
<circle cx="651.4" cy="55.7" r="2.4" fill="#bdd5ee" stroke="#649bd0" stroke-width="0.9"/>
<circle cx="503.5" cy="90.3" r="2.4" fill="#f6bcc8" stroke="#e0607c" stroke-width="0.9"/>
<circle cx="508.6" cy="63.6" r="2.4" fill="#f6bcc8" stroke="#e0607c" stroke-width="0.9"/>
<circle cx="513.7" cy="64.6" r="2.4" fill="#f6bcc8" stroke="#e0607c" stroke-width="0.9"/>
<circle cx="518.8" cy="62.6" r="2.4" fill="#f6bcc8" stroke="#e0607c" stroke-width="0.9"/>
<circle cx="523.9" cy="61.6" r="2.4" fill="#f6bcc8" stroke="#e0607c" stroke-width="0.9"/>
<circle cx="529" cy="68.1" r="2.4" fill="#f6bcc8" stroke="#e0607c" stroke-width="0.9"/>
<circle cx="534.1" cy="70.5" r="2.4" fill="#f6bcc8" stroke="#e0607c" stroke-width="0.9"/>
<circle cx="539.2" cy="71.1" r="2.4" fill="#f6bcc8" stroke="#e0607c" stroke-width="0.9"/>
<circle cx="544.3" cy="71.9" r="2.4" fill="#f6bcc8" stroke="#e0607c" stroke-width="0.9"/>
<circle cx="549.4" cy="72.1" r="2.4" fill="#f6bcc8" stroke="#e0607c" stroke-width="0.9"/>
<circle cx="554.5" cy="78.1" r="2.4" fill="#f6bcc8" stroke="#e0607c" stroke-width="0.9"/>
<circle cx="559.6" cy="80.4" r="2.4" fill="#f6bcc8" stroke="#e0607c" stroke-width="0.9"/>
<circle cx="564.7" cy="81.4" r="2.4" fill="#f6bcc8" stroke="#e0607c" stroke-width="0.9"/>
<circle cx="569.8" cy="82" r="2.4" fill="#f6bcc8" stroke="#e0607c" stroke-width="0.9"/>
<circle cx="574.9" cy="82.4" r="2.4" fill="#f6bcc8" stroke="#e0607c" stroke-width="0.9"/>
<circle cx="580" cy="86.4" r="2.4" fill="#f6bcc8" stroke="#e0607c" stroke-width="0.9"/>
<circle cx="585.1" cy="87.8" r="2.4" fill="#f6bcc8" stroke="#e0607c" stroke-width="0.9"/>
<circle cx="590.2" cy="87.8" r="2.4" fill="#f6bcc8" stroke="#e0607c" stroke-width="0.9"/>
<circle cx="595.3" cy="88" r="2.4" fill="#f6bcc8" stroke="#e0607c" stroke-width="0.9"/>
<circle cx="600.4" cy="88.4" r="2.4" fill="#f6bcc8" stroke="#e0607c" stroke-width="0.9"/>
<circle cx="605.5" cy="113.8" r="2.4" fill="#f6bcc8" stroke="#e0607c" stroke-width="0.9"/>
<circle cx="610.6" cy="119.3" r="2.4" fill="#f6bcc8" stroke="#e0607c" stroke-width="0.9"/>
<circle cx="615.7" cy="119.3" r="2.4" fill="#f6bcc8" stroke="#e0607c" stroke-width="0.9"/>
<circle cx="620.8" cy="119.7" r="2.4" fill="#f6bcc8" stroke="#e0607c" stroke-width="0.9"/>
<circle cx="625.9" cy="119.7" r="2.4" fill="#f6bcc8" stroke="#e0607c" stroke-width="0.9"/>
<circle cx="631" cy="82.8" r="2.4" fill="#f6bcc8" stroke="#e0607c" stroke-width="0.9"/>
<circle cx="636.1" cy="66" r="2.4" fill="#f6bcc8" stroke="#e0607c" stroke-width="0.9"/>
<circle cx="641.2" cy="66" r="2.4" fill="#f6bcc8" stroke="#e0607c" stroke-width="0.9"/>
<circle cx="646.3" cy="66" r="2.4" fill="#f6bcc8" stroke="#e0607c" stroke-width="0.9"/>
<circle cx="651.4" cy="66.4" r="2.4" fill="#f6bcc8" stroke="#e0607c" stroke-width="0.9"/>
</g>
<rect x="498.4" y="26.6" width="153" height="141.4" fill="none" stroke="#8f8f8f" stroke-width="1.0"/>
<line x1="498.4" y1="168" x2="500.9" y2="168" stroke="#8f8f8f" stroke-width="0.9" />
<text x="495.5" y="171.1" font-size="8.8" text-anchor="end" fill="#111" stroke="#111" stroke-width="0.12">0</text>
<line x1="498.4" y1="159.18" x2="499.9" y2="159.18" stroke="#8f8f8f" stroke-width="0.9" />
<line x1="498.4" y1="150.35" x2="500.9" y2="150.35" stroke="#8f8f8f" stroke-width="0.9" />
<text x="495.5" y="153.45" font-size="8.8" text-anchor="end" fill="#111" stroke="#111" stroke-width="0.12">5</text>
<line x1="498.4" y1="141.53" x2="499.9" y2="141.53" stroke="#8f8f8f" stroke-width="0.9" />
<line x1="498.4" y1="132.7" x2="500.9" y2="132.7" stroke="#8f8f8f" stroke-width="0.9" />
<text x="495.5" y="135.8" font-size="8.8" text-anchor="end" fill="#111" stroke="#111" stroke-width="0.12">10</text>
<line x1="498.4" y1="123.88" x2="499.9" y2="123.88" stroke="#8f8f8f" stroke-width="0.9" />
<line x1="498.4" y1="115.05" x2="500.9" y2="115.05" stroke="#8f8f8f" stroke-width="0.9" />
<text x="495.5" y="118.15" font-size="8.8" text-anchor="end" fill="#111" stroke="#111" stroke-width="0.12">15</text>
<line x1="498.4" y1="106.22" x2="499.9" y2="106.22" stroke="#8f8f8f" stroke-width="0.9" />
<line x1="498.4" y1="97.4" x2="500.9" y2="97.4" stroke="#8f8f8f" stroke-width="0.9" />
<text x="495.5" y="100.5" font-size="8.8" text-anchor="end" fill="#111" stroke="#111" stroke-width="0.12">20</text>
<line x1="498.4" y1="88.58" x2="499.9" y2="88.58" stroke="#8f8f8f" stroke-width="0.9" />
<line x1="498.4" y1="79.75" x2="500.9" y2="79.75" stroke="#8f8f8f" stroke-width="0.9" />
<text x="495.5" y="82.85" font-size="8.8" text-anchor="end" fill="#111" stroke="#111" stroke-width="0.12">25</text>
<line x1="498.4" y1="70.93" x2="499.9" y2="70.93" stroke="#8f8f8f" stroke-width="0.9" />
<line x1="498.4" y1="62.1" x2="500.9" y2="62.1" stroke="#8f8f8f" stroke-width="0.9" />
<text x="495.5" y="65.2" font-size="8.8" text-anchor="end" fill="#111" stroke="#111" stroke-width="0.12">30</text>
<line x1="498.4" y1="53.28" x2="499.9" y2="53.28" stroke="#8f8f8f" stroke-width="0.9" />
<line x1="498.4" y1="44.45" x2="500.9" y2="44.45" stroke="#8f8f8f" stroke-width="0.9" />
<text x="495.5" y="47.55" font-size="8.8" text-anchor="end" fill="#111" stroke="#111" stroke-width="0.12">35</text>
<line x1="498.4" y1="35.62" x2="499.9" y2="35.62" stroke="#8f8f8f" stroke-width="0.9" />
<line x1="498.4" y1="26.8" x2="500.9" y2="26.8" stroke="#8f8f8f" stroke-width="0.9" />
<text x="495.5" y="29.9" font-size="8.8" text-anchor="end" fill="#111" stroke="#111" stroke-width="0.12">40</text>
<line x1="651.4" y1="167.4" x2="648.9" y2="167.4" stroke="#8f8f8f" stroke-width="0.9" />
<text x="653.8" y="170.5" font-size="8.8" text-anchor="start" fill="#111" stroke="#111" stroke-width="0.12">0</text>
<line x1="651.4" y1="156.18" x2="649.9" y2="156.18" stroke="#8f8f8f" stroke-width="0.9" />
<line x1="651.4" y1="144.96" x2="648.9" y2="144.96" stroke="#8f8f8f" stroke-width="0.9" />
<text x="653.8" y="148.06" font-size="8.8" text-anchor="start" fill="#111" stroke="#111" stroke-width="0.12">20</text>
<line x1="651.4" y1="133.74" x2="649.9" y2="133.74" stroke="#8f8f8f" stroke-width="0.9" />
<line x1="651.4" y1="122.52" x2="648.9" y2="122.52" stroke="#8f8f8f" stroke-width="0.9" />
<text x="653.8" y="125.62" font-size="8.8" text-anchor="start" fill="#111" stroke="#111" stroke-width="0.12">40</text>
<line x1="651.4" y1="111.3" x2="649.9" y2="111.3" stroke="#8f8f8f" stroke-width="0.9" />
<line x1="651.4" y1="100.08" x2="648.9" y2="100.08" stroke="#8f8f8f" stroke-width="0.9" />
<text x="653.8" y="103.18" font-size="8.8" text-anchor="start" fill="#111" stroke="#111" stroke-width="0.12">60</text>
<line x1="651.4" y1="88.86" x2="649.9" y2="88.86" stroke="#8f8f8f" stroke-width="0.9" />
<line x1="651.4" y1="77.64" x2="648.9" y2="77.64" stroke="#8f8f8f" stroke-width="0.9" />
<text x="653.8" y="80.74" font-size="8.8" text-anchor="start" fill="#111" stroke="#111" stroke-width="0.12">80</text>
<line x1="651.4" y1="66.42" x2="649.9" y2="66.42" stroke="#8f8f8f" stroke-width="0.9" />
<line x1="651.4" y1="55.2" x2="648.9" y2="55.2" stroke="#8f8f8f" stroke-width="0.9" />
<text x="653.8" y="58.3" font-size="8.8" text-anchor="start" fill="#111" stroke="#111" stroke-width="0.12">100</text>
<line x1="651.4" y1="43.98" x2="649.9" y2="43.98" stroke="#8f8f8f" stroke-width="0.9" />
<line x1="651.4" y1="32.76" x2="648.9" y2="32.76" stroke="#8f8f8f" stroke-width="0.9" />
<text x="653.8" y="35.86" font-size="8.8" text-anchor="start" fill="#111" stroke="#111" stroke-width="0.12">120</text>
<line x1="498.4" y1="168" x2="498.4" y2="165.5" stroke="#8f8f8f" stroke-width="0.9" />
<text x="498.4" y="178" font-size="8.8" text-anchor="middle" fill="#111" stroke="#111" stroke-width="0.12">0</text>
<line x1="511.15" y1="168" x2="511.15" y2="166.5" stroke="#8f8f8f" stroke-width="0.9" />
<line x1="523.9" y1="168" x2="523.9" y2="165.5" stroke="#8f8f8f" stroke-width="0.9" />
<text x="523.9" y="178" font-size="8.8" text-anchor="middle" fill="#111" stroke="#111" stroke-width="0.12">5</text>
<line x1="536.65" y1="168" x2="536.65" y2="166.5" stroke="#8f8f8f" stroke-width="0.9" />
<line x1="549.4" y1="168" x2="549.4" y2="165.5" stroke="#8f8f8f" stroke-width="0.9" />
<text x="549.4" y="178" font-size="8.8" text-anchor="middle" fill="#111" stroke="#111" stroke-width="0.12">10</text>
<line x1="562.15" y1="168" x2="562.15" y2="166.5" stroke="#8f8f8f" stroke-width="0.9" />
<line x1="574.9" y1="168" x2="574.9" y2="165.5" stroke="#8f8f8f" stroke-width="0.9" />
<text x="574.9" y="178" font-size="8.8" text-anchor="middle" fill="#111" stroke="#111" stroke-width="0.12">15</text>
<line x1="587.65" y1="168" x2="587.65" y2="166.5" stroke="#8f8f8f" stroke-width="0.9" />
<line x1="600.4" y1="168" x2="600.4" y2="165.5" stroke="#8f8f8f" stroke-width="0.9" />
<text x="600.4" y="178" font-size="8.8" text-anchor="middle" fill="#111" stroke="#111" stroke-width="0.12">20</text>
<line x1="613.15" y1="168" x2="613.15" y2="166.5" stroke="#8f8f8f" stroke-width="0.9" />
<line x1="625.9" y1="168" x2="625.9" y2="165.5" stroke="#8f8f8f" stroke-width="0.9" />
<text x="625.9" y="178" font-size="8.8" text-anchor="middle" fill="#111" stroke="#111" stroke-width="0.12">25</text>
<line x1="638.65" y1="168" x2="638.65" y2="166.5" stroke="#8f8f8f" stroke-width="0.9" />
<line x1="651.4" y1="168" x2="651.4" y2="165.5" stroke="#8f8f8f" stroke-width="0.9" />
<text x="651.4" y="178" font-size="8.8" text-anchor="middle" fill="#111" stroke="#111" stroke-width="0.12">30</text>
<text x="575.3" y="192.3" font-size="8.8" text-anchor="middle" fill="#111" stroke="#111" stroke-width="0.12">Cycle</text>
<line x1="523.9" y1="26.6" x2="523.9" y2="28.8" stroke="#8f8f8f" stroke-width="0.9" />
<line x1="549.4" y1="26.6" x2="549.4" y2="28.8" stroke="#8f8f8f" stroke-width="0.9" />
<line x1="574.9" y1="26.6" x2="574.9" y2="28.8" stroke="#8f8f8f" stroke-width="0.9" />
<line x1="600.4" y1="26.6" x2="600.4" y2="28.8" stroke="#8f8f8f" stroke-width="0.9" />
<line x1="625.9" y1="26.6" x2="625.9" y2="28.8" stroke="#8f8f8f" stroke-width="0.9" />
<text x="511.15" y="22.7" font-size="8.6" text-anchor="middle" fill="#111" stroke="#111" stroke-width="0.12">2.51</text>
<text x="536.65" y="22.7" font-size="8.6" text-anchor="middle" fill="#111" stroke="#111" stroke-width="0.12">5.02</text>
<text x="562.15" y="22.7" font-size="8.6" text-anchor="middle" fill="#111" stroke="#111" stroke-width="0.12">10.05</text>
<text x="587.65" y="22.7" font-size="8.6" text-anchor="middle" fill="#111" stroke="#111" stroke-width="0.12">12.56</text>
<text x="613.15" y="22.7" font-size="8.6" text-anchor="middle" fill="#111" stroke="#111" stroke-width="0.12">25.12</text>
<text x="638.65" y="22.7" font-size="8.6" text-anchor="middle" fill="#111" stroke="#111" stroke-width="0.12">2.51</text>
<text x="574.5" y="9.7" font-size="8.8" text-anchor="middle" fill="#111" stroke="#111" stroke-width="0.12">Areal Current (mA cm<tspan dy="-3.6" font-size="6.3">-2</tspan><tspan dy="3.6">)</tspan></text>
<line x1="469.7" y1="26.6" x2="469.7" y2="167.5" stroke="#8f8f8f" stroke-width="0.9" />
<line x1="469.7" y1="167.5" x2="472.2" y2="167.5" stroke="#8f8f8f" stroke-width="0.9" />
<text x="466.6" y="170.6" font-size="8.5" text-anchor="end" fill="#111" stroke="#111" stroke-width="0.12">0</text>
<line x1="469.7" y1="154.81" x2="471.2" y2="154.81" stroke="#8f8f8f" stroke-width="0.9" />
<line x1="469.7" y1="142.12" x2="472.2" y2="142.12" stroke="#8f8f8f" stroke-width="0.9" />
<text x="466.6" y="145.22" font-size="8.5" text-anchor="end" fill="#111" stroke="#111" stroke-width="0.12">400</text>
<line x1="469.7" y1="129.43" x2="471.2" y2="129.43" stroke="#8f8f8f" stroke-width="0.9" />
<line x1="469.7" y1="116.74" x2="472.2" y2="116.74" stroke="#8f8f8f" stroke-width="0.9" />
<text x="466.6" y="119.84" font-size="8.5" text-anchor="end" fill="#111" stroke="#111" stroke-width="0.12">800</text>
<line x1="469.7" y1="104.05" x2="471.2" y2="104.05" stroke="#8f8f8f" stroke-width="0.9" />
<line x1="469.7" y1="91.36" x2="472.2" y2="91.36" stroke="#8f8f8f" stroke-width="0.9" />
<text x="466.6" y="94.46" font-size="8.5" text-anchor="end" fill="#111" stroke="#111" stroke-width="0.12">1200</text>
<line x1="469.7" y1="78.67" x2="471.2" y2="78.67" stroke="#8f8f8f" stroke-width="0.9" />
<line x1="469.7" y1="65.98" x2="472.2" y2="65.98" stroke="#8f8f8f" stroke-width="0.9" />
<text x="466.6" y="69.08" font-size="8.5" text-anchor="end" fill="#111" stroke="#111" stroke-width="0.12">1600</text>
<line x1="469.7" y1="53.29" x2="471.2" y2="53.29" stroke="#8f8f8f" stroke-width="0.9" />
<line x1="469.7" y1="40.6" x2="472.2" y2="40.6" stroke="#8f8f8f" stroke-width="0.9" />
<text x="466.6" y="43.7" font-size="8.5" text-anchor="end" fill="#111" stroke="#111" stroke-width="0.12">2000</text>
<line x1="469.7" y1="27.91" x2="471.2" y2="27.91" stroke="#8f8f8f" stroke-width="0.9" />
<text x="442.8" y="97" font-size="8.8" text-anchor="middle" fill="#111" stroke="#111" stroke-width="0.12" transform="rotate(-90 442.8 97)">Specific Capacity (mAh g<tspan dy="-3.6" font-size="6.3">-1</tspan><tspan dy="3.6">)</tspan></text>
<text x="482.4" y="99.1" font-size="8.45" text-anchor="middle" fill="#111" stroke="#111" stroke-width="0.12" transform="rotate(-90 482.4 99.1)">Areal Capacity (mAh cm<tspan dy="-3.6" font-size="6.3">-2</tspan><tspan dy="3.6">)</tspan></text>
<text x="679.8" y="100.2" font-size="8.3" text-anchor="middle" fill="#111" stroke="#111" stroke-width="0.12" transform="rotate(-90 679.8 100.2)">Coulombic Efficiency (%)</text>
<line x1="514.6" y1="72.1" x2="505.32" y2="72.1" stroke="#111" stroke-width="1.2" />
<path d="M502.8,72.1 L506.4,69.7 L506.4,74.5 Z" fill="#111"/>
<line x1="635.4" y1="47.7" x2="644.98" y2="47.7" stroke="#111" stroke-width="1.2" />
<path d="M647.5,47.7 L643.9,45.3 L643.9,50.1 Z" fill="#111"/>
<text x="508.2" y="140.8" font-size="8.4" text-anchor="start" font-weight="bold" fill="#111">Si</text>
<line x1="518.7" y1="133.6" x2="518.7" y2="141.8" stroke="#111" stroke-width="1.2" />
<text x="521.6" y="140.8" font-size="8.4" text-anchor="start" font-weight="bold" fill="#111">LiBH<tspan dy="1.9" font-size="5.7">4</tspan></text>
<line x1="547.3" y1="133.6" x2="547.3" y2="141.8" stroke="#111" stroke-width="1.2" />
<text x="549.6" y="140.8" font-size="8.4" text-anchor="start" font-weight="bold" fill="#111">S</text>
<text x="508.2" y="154" font-size="8.4" text-anchor="start" font-weight="bold" fill="#111">18.1 mg cm<tspan dy="-3.0" font-size="5.7">-2</tspan></text>
<text x="46.4" y="223.6" font-size="21" text-anchor="middle" fill="#111" stroke="#111" stroke-width="0.4">d</text>
<line x1="73.7" y1="367.6" x2="654.4" y2="367.6" stroke="#e8708c" stroke-width="1.1" stroke-dasharray="5.1,4.7"/>
<clipPath id="clipd"><rect x="71.9" y="226.6" width="582.5" height="149.70000000000002"/></clipPath>
<g clip-path="url(#clipd)">
<circle cx="73.07" cy="290.9" r="2.5" fill="#bdd5ee" stroke="#649bd0" stroke-width="0.85"/>
<circle cx="74.23" cy="253.7" r="2.5" fill="#bdd5ee" stroke="#649bd0" stroke-width="0.85"/>
<circle cx="75.4" cy="255.15" r="2.5" fill="#bdd5ee" stroke="#649bd0" stroke-width="0.85"/>
<circle cx="76.56" cy="248.58" r="2.5" fill="#bdd5ee" stroke="#649bd0" stroke-width="0.85"/>
<circle cx="77.73" cy="254.57" r="2.5" fill="#bdd5ee" stroke="#649bd0" stroke-width="0.85"/>
<circle cx="78.89" cy="254.97" r="2.5" fill="#bdd5ee" stroke="#649bd0" stroke-width="0.85"/>
<circle cx="80.06" cy="240.26" r="2.5" fill="#bdd5ee" stroke="#649bd0" stroke-width="0.85"/>
<circle cx="81.22" cy="243.13" r="2.5" fill="#bdd5ee" stroke="#649bd0" stroke-width="0.85"/>
<circle cx="82.39" cy="235.5" r="2.5" fill="#bdd5ee" stroke="#649bd0" stroke-width="0.85"/>
<circle cx="83.55" cy="249.74" r="2.5" fill="#bdd5ee" stroke="#649bd0" stroke-width="0.85"/>
<circle cx="84.72" cy="230.3" r="2.5" fill="#bdd5ee" stroke="#649bd0" stroke-width="0.85"/>
<circle cx="85.88" cy="247.48" r="2.5" fill="#bdd5ee" stroke="#649bd0" stroke-width="0.85"/>
<circle cx="87.05" cy="246.82" r="2.5" fill="#bdd5ee" stroke="#649bd0" stroke-width="0.85"/>
<circle cx="88.21" cy="244.64" r="2.5" fill="#bdd5ee" stroke="#649bd0" stroke-width="0.85"/>
<circle cx="89.38" cy="257.55" r="2.5" fill="#bdd5ee" stroke="#649bd0" stroke-width="0.85"/>
<circle cx="90.54" cy="244.59" r="2.5" fill="#bdd5ee" stroke="#649bd0" stroke-width="0.85"/>
<circle cx="91.71" cy="255.91" r="2.5" fill="#bdd5ee" stroke="#649bd0" stroke-width="0.85"/>
<circle cx="92.87" cy="248.23" r="2.5" fill="#bdd5ee" stroke="#649bd0" stroke-width="0.85"/>
<circle cx="94.04" cy="234.83" r="2.5" fill="#bdd5ee" stroke="#649bd0" stroke-width="0.85"/>
<circle cx="95.2" cy="248.49" r="2.5" fill="#bdd5ee" stroke="#649bd0" stroke-width="0.85"/>
<circle cx="96.37" cy="249.74" r="2.5" fill="#bdd5ee" stroke="#649bd0" stroke-width="0.85"/>
<circle cx="97.53" cy="244.79" r="2.5" fill="#bdd5ee" stroke="#649bd0" stroke-width="0.85"/>
<circle cx="98.7" cy="247.7" r="2.5" fill="#bdd5ee" stroke="#649bd0" stroke-width="0.85"/>
<circle cx="99.86" cy="253.48" r="2.5" fill="#bdd5ee" stroke="#649bd0" stroke-width="0.85"/>
<circle cx="101.03" cy="248.22" r="2.5" fill="#bdd5ee" stroke="#649bd0" stroke-width="0.85"/>
<circle cx="102.19" cy="250.87" r="2.5" fill="#bdd5ee" stroke="#649bd0" stroke-width="0.85"/>
<circle cx="103.36" cy="254.04" r="2.5" fill="#bdd5ee" stroke="#649bd0" stroke-width="0.85"/>
<circle cx="104.52" cy="242.48" r="2.5" fill="#bdd5ee" stroke="#649bd0" stroke-width="0.85"/>
<circle cx="105.69" cy="245.76" r="2.5" fill="#bdd5ee" stroke="#649bd0" stroke-width="0.85"/>
<circle cx="106.85" cy="240.85" r="2.5" fill="#bdd5ee" stroke="#649bd0" stroke-width="0.85"/>
<circle cx="108.02" cy="242.92" r="2.5" fill="#bdd5ee" stroke="#649bd0" stroke-width="0.85"/>
<circle cx="109.18" cy="247.73" r="2.5" fill="#bdd5ee" stroke="#649bd0" stroke-width="0.85"/>
<circle cx="110.34" cy="248.45" r="2.5" fill="#bdd5ee" stroke="#649bd0" stroke-width="0.85"/>
<circle cx="111.51" cy="248.98" r="2.5" fill="#bdd5ee" stroke="#649bd0" stroke-width="0.85"/>
<circle cx="112.68" cy="249.63" r="2.5" fill="#bdd5ee" stroke="#649bd0" stroke-width="0.85"/>
<circle cx="113.84" cy="251.3" r="2.5" fill="#bdd5ee" stroke="#649bd0" stroke-width="0.85"/>
<circle cx="115.01" cy="247.58" r="2.5" fill="#bdd5ee" stroke="#649bd0" stroke-width="0.85"/>
<circle cx="116.17" cy="253.62" r="2.5" fill="#bdd5ee" stroke="#649bd0" stroke-width="0.85"/>
<circle cx="117.34" cy="248.08" r="2.5" fill="#bdd5ee" stroke="#649bd0" stroke-width="0.85"/>
<circle cx="118.5" cy="248.25" r="2.5" fill="#bdd5ee" stroke="#649bd0" stroke-width="0.85"/>
<circle cx="119.67" cy="261.85" r="2.5" fill="#bdd5ee" stroke="#649bd0" stroke-width="0.85"/>
<circle cx="120.83" cy="258.3" r="2.5" fill="#bdd5ee" stroke="#649bd0" stroke-width="0.85"/>
<circle cx="122" cy="249.74" r="2.5" fill="#bdd5ee" stroke="#649bd0" stroke-width="0.85"/>
<circle cx="123.16" cy="250.1" r="2.5" fill="#bdd5ee" stroke="#649bd0" stroke-width="0.85"/>
<circle cx="124.33" cy="248.71" r="2.5" fill="#bdd5ee" stroke="#649bd0" stroke-width="0.85"/>
<circle cx="125.49" cy="239.3" r="2.5" fill="#bdd5ee" stroke="#649bd0" stroke-width="0.85"/>
<circle cx="126.66" cy="246.22" r="2.5" fill="#bdd5ee" stroke="#649bd0" stroke-width="0.85"/>
<circle cx="127.82" cy="247.23" r="2.5" fill="#bdd5ee" stroke="#649bd0" stroke-width="0.85"/>
<circle cx="128.99" cy="252.27" r="2.5" fill="#bdd5ee" stroke="#649bd0" stroke-width="0.85"/>
<circle cx="130.15" cy="251.22" r="2.5" fill="#bdd5ee" stroke="#649bd0" stroke-width="0.85"/>
<circle cx="131.31" cy="255.01" r="2.5" fill="#bdd5ee" stroke="#649bd0" stroke-width="0.85"/>
<circle cx="132.48" cy="247.55" r="2.5" fill="#bdd5ee" stroke="#649bd0" stroke-width="0.85"/>
<circle cx="133.65" cy="241.8" r="2.5" fill="#bdd5ee" stroke="#649bd0" stroke-width="0.85"/>
<circle cx="134.81" cy="238.87" r="2.5" fill="#bdd5ee" stroke="#649bd0" stroke-width="0.85"/>
<circle cx="135.98" cy="245.09" r="2.5" fill="#bdd5ee" stroke="#649bd0" stroke-width="0.85"/>
<circle cx="137.14" cy="240.31" r="2.5" fill="#bdd5ee" stroke="#649bd0" stroke-width="0.85"/>
<circle cx="138.31" cy="238" r="2.5" fill="#bdd5ee" stroke="#649bd0" stroke-width="0.85"/>
<circle cx="139.47" cy="251.56" r="2.5" fill="#bdd5ee" stroke="#649bd0" stroke-width="0.85"/>
<circle cx="140.63" cy="247.08" r="2.5" fill="#bdd5ee" stroke="#649bd0" stroke-width="0.85"/>
<circle cx="141.8" cy="247.46" r="2.5" fill="#bdd5ee" stroke="#649bd0" stroke-width="0.85"/>
<circle cx="142.97" cy="248.78" r="2.5" fill="#bdd5ee" stroke="#649bd0" stroke-width="0.85"/>
<circle cx="144.13" cy="250.56" r="2.5" fill="#bdd5ee" stroke="#649bd0" stroke-width="0.85"/>
<circle cx="145.3" cy="248.61" r="2.5" fill="#bdd5ee" stroke="#649bd0" stroke-width="0.85"/>
<circle cx="146.46" cy="246.01" r="2.5" fill="#bdd5ee" stroke="#649bd0" stroke-width="0.85"/>
<circle cx="147.62" cy="247.45" r="2.5" fill="#bdd5ee" stroke="#649bd0" stroke-width="0.85"/>
<circle cx="148.79" cy="243.73" r="2.5" fill="#bdd5ee" stroke="#649bd0" stroke-width="0.85"/>
<circle cx="149.96" cy="249.47" r="2.5" fill="#bdd5ee" stroke="#649bd0" stroke-width="0.85"/>
<circle cx="151.12" cy="234.83" r="2.5" fill="#bdd5ee" stroke="#649bd0" stroke-width="0.85"/>
<circle cx="152.29" cy="248.03" r="2.5" fill="#bdd5ee" stroke="#649bd0" stroke-width="0.85"/>
<circle cx="153.45" cy="246.99" r="2.5" fill="#bdd5ee" stroke="#649bd0" stroke-width="0.85"/>
<circle cx="154.62" cy="246.57" r="2.5" fill="#bdd5ee" stroke="#649bd0" stroke-width="0.85"/>
<circle cx="155.78" cy="248.29" r="2.5" fill="#bdd5ee" stroke="#649bd0" stroke-width="0.85"/>
<circle cx="156.94" cy="250.73" r="2.5" fill="#bdd5ee" stroke="#649bd0" stroke-width="0.85"/>
<circle cx="158.11" cy="243.21" r="2.5" fill="#bdd5ee" stroke="#649bd0" stroke-width="0.85"/>
<circle cx="159.28" cy="254.56" r="2.5" fill="#bdd5ee" stroke="#649bd0" stroke-width="0.85"/>
<circle cx="160.44" cy="252.17" r="2.5" fill="#bdd5ee" stroke="#649bd0" stroke-width="0.85"/>
<circle cx="161.61" cy="248.38" r="2.5" fill="#bdd5ee" stroke="#649bd0" stroke-width="0.85"/>
<circle cx="162.77" cy="247.22" r="2.5" fill="#bdd5ee" stroke="#649bd0" stroke-width="0.85"/>
<circle cx="163.94" cy="245.36" r="2.5" fill="#bdd5ee" stroke="#649bd0" stroke-width="0.85"/>
<circle cx="165.1" cy="246.84" r="2.5" fill="#bdd5ee" stroke="#649bd0" stroke-width="0.85"/>
<circle cx="166.27" cy="251.16" r="2.5" fill="#bdd5ee" stroke="#649bd0" stroke-width="0.85"/>
<circle cx="167.43" cy="247.09" r="2.5" fill="#bdd5ee" stroke="#649bd0" stroke-width="0.85"/>
<circle cx="168.6" cy="248.19" r="2.5" fill="#bdd5ee" stroke="#649bd0" stroke-width="0.85"/>
<circle cx="169.76" cy="249.83" r="2.5" fill="#bdd5ee" stroke="#649bd0" stroke-width="0.85"/>
<circle cx="170.93" cy="244.72" r="2.5" fill="#bdd5ee" stroke="#649bd0" stroke-width="0.85"/>
<circle cx="172.09" cy="246.08" r="2.5" fill="#bdd5ee" stroke="#649bd0" stroke-width="0.85"/>
<circle cx="173.25" cy="247.25" r="2.5" fill="#bdd5ee" stroke="#649bd0" stroke-width="0.85"/>
<circle cx="174.42" cy="240.81" r="2.5" fill="#bdd5ee" stroke="#649bd0" stroke-width="0.85"/>
<circle cx="175.59" cy="246.73" r="2.5" fill="#bdd5ee" stroke="#649bd0" stroke-width="0.85"/>
<circle cx="176.75" cy="247.94" r="2.5" fill="#bdd5ee" stroke="#649bd0" stroke-width="0.85"/>
<circle cx="177.92" cy="248.2" r="2.5" fill="#bdd5ee" stroke="#649bd0" stroke-width="0.85"/>
<circle cx="179.08" cy="244.51" r="2.5" fill="#bdd5ee" stroke="#649bd0" stroke-width="0.85"/>
<circle cx="180.25" cy="249.33" r="2.5" fill="#bdd5ee" stroke="#649bd0" stroke-width="0.85"/>
<circle cx="181.41" cy="251.57" r="2.5" fill="#bdd5ee" stroke="#649bd0" stroke-width="0.85"/>
<circle cx="182.57" cy="252.1" r="2.5" fill="#bdd5ee" stroke="#649bd0" stroke-width="0.85"/>
<circle cx="183.74" cy="248.52" r="2.5" fill="#bdd5ee" stroke="#649bd0" stroke-width="0.85"/>
<circle cx="184.91" cy="239.58" r="2.5" fill="#bdd5ee" stroke="#649bd0" stroke-width="0.85"/>
<circle cx="186.07" cy="246.85" r="2.5" fill="#bdd5ee" stroke="#649bd0" stroke-width="0.85"/>
<circle cx="187.24" cy="250.14" r="2.5" fill="#bdd5ee" stroke="#649bd0" stroke-width="0.85"/>
<circle cx="188.4" cy="251.36" r="2.5" fill="#bdd5ee" stroke="#649bd0" stroke-width="0.85"/>
<circle cx="189.56" cy="245.13" r="2.5" fill="#bdd5ee" stroke="#649bd0" stroke-width="0.85"/>
<circle cx="190.73" cy="244.38" r="2.5" fill="#bdd5ee" stroke="#649bd0" stroke-width="0.85"/>
<circle cx="191.9" cy="252.35" r="2.5" fill="#bdd5ee" stroke="#649bd0" stroke-width="0.85"/>
<circle cx="193.06" cy="241.48" r="2.5" fill="#bdd5ee" stroke="#649bd0" stroke-width="0.85"/>
<circle cx="194.23" cy="250.18" r="2.5" fill="#bdd5ee" stroke="#649bd0" stroke-width="0.85"/>
<circle cx="195.39" cy="246.58" r="2.5" fill="#bdd5ee" stroke="#649bd0" stroke-width="0.85"/>
<circle cx="196.56" cy="247.97" r="2.5" fill="#bdd5ee" stroke="#649bd0" stroke-width="0.85"/>
<circle cx="197.72" cy="250.31" r="2.5" fill="#bdd5ee" stroke="#649bd0" stroke-width="0.85"/>
<circle cx="198.88" cy="245.99" r="2.5" fill="#bdd5ee" stroke="#649bd0" stroke-width="0.85"/>
<circle cx="200.05" cy="249.16" r="2.5" fill="#bdd5ee" stroke="#649bd0" stroke-width="0.85"/>
<circle cx="201.22" cy="247.26" r="2.5" fill="#bdd5ee" stroke="#649bd0" stroke-width="0.85"/>
<circle cx="202.38" cy="248.64" r="2.5" fill="#bdd5ee" stroke="#649bd0" stroke-width="0.85"/>
<circle cx="203.55" cy="247.31" r="2.5" fill="#bdd5ee" stroke="#649bd0" stroke-width="0.85"/>
<circle cx="204.71" cy="249.54" r="2.5" fill="#bdd5ee" stroke="#649bd0" stroke-width="0.85"/>
<circle cx="205.88" cy="246.41" r="2.5" fill="#bdd5ee" stroke="#649bd0" stroke-width="0.85"/>
<circle cx="207.04" cy="250.96" r="2.5" fill="#bdd5ee" stroke="#649bd0" stroke-width="0.85"/>
<circle cx="208.21" cy="249.41" r="2.5" fill="#bdd5ee" stroke="#649bd0" stroke-width="0.85"/>
<circle cx="209.37" cy="254.43" r="2.5" fill="#bdd5ee" stroke="#649bd0" stroke-width="0.85"/>
<circle cx="210.53" cy="246.74" r="2.5" fill="#bdd5ee" stroke="#649bd0" stroke-width="0.85"/>
<circle cx="211.7" cy="250.46" r="2.5" fill="#bdd5ee" stroke="#649bd0" stroke-width="0.85"/>
<circle cx="212.87" cy="248.66" r="2.5" fill="#bdd5ee" stroke="#649bd0" stroke-width="0.85"/>
<circle cx="214.03" cy="244.92" r="2.5" fill="#bdd5ee" stroke="#649bd0" stroke-width="0.85"/>
<circle cx="215.2" cy="250.23" r="2.5" fill="#bdd5ee" stroke="#649bd0" stroke-width="0.85"/>
<circle cx="216.36" cy="250.73" r="2.5" fill="#bdd5ee" stroke="#649bd0" stroke-width="0.85"/>
<circle cx="217.53" cy="248.65" r="2.5" fill="#bdd5ee" stroke="#649bd0" stroke-width="0.85"/>
<circle cx="218.69" cy="242.16" r="2.5" fill="#bdd5ee" stroke="#649bd0" stroke-width="0.85"/>
<circle cx="219.86" cy="246.82" r="2.5" fill="#bdd5ee" stroke="#649bd0" stroke-width="0.85"/>
<circle cx="221.02" cy="246.96" r="2.5" fill="#bdd5ee" stroke="#649bd0" stroke-width="0.85"/>
<circle cx="222.19" cy="248.97" r="2.5" fill="#bdd5ee" stroke="#649bd0" stroke-width="0.85"/>
<circle cx="223.35" cy="247.03" r="2.5" fill="#bdd5ee" stroke="#649bd0" stroke-width="0.85"/>
<circle cx="224.52" cy="248.24" r="2.5" fill="#bdd5ee" stroke="#649bd0" stroke-width="0.85"/>
<circle cx="225.68" cy="242.66" r="2.5" fill="#bdd5ee" stroke="#649bd0" stroke-width="0.85"/>
<circle cx="226.84" cy="245.67" r="2.5" fill="#bdd5ee" stroke="#649bd0" stroke-width="0.85"/>
<circle cx="228.01" cy="247.49" r="2.5" fill="#bdd5ee" stroke="#649bd0" stroke-width="0.85"/>
<circle cx="229.18" cy="244.25" r="2.5" fill="#bdd5ee" stroke="#649bd0" stroke-width="0.85"/>
<circle cx="230.34" cy="249.35" r="2.5" fill="#bdd5ee" stroke="#649bd0" stroke-width="0.85"/>
<circle cx="231.51" cy="244.97" r="2.5" fill="#bdd5ee" stroke="#649bd0" stroke-width="0.85"/>
<circle cx="232.67" cy="252.33" r="2.5" fill="#bdd5ee" stroke="#649bd0" stroke-width="0.85"/>
<circle cx="233.84" cy="245.41" r="2.5" fill="#bdd5ee" stroke="#649bd0" stroke-width="0.85"/>
<circle cx="235" cy="250.15" r="2.5" fill="#bdd5ee" stroke="#649bd0" stroke-width="0.85"/>
<circle cx="236.17" cy="247.74" r="2.5" fill="#bdd5ee" stroke="#649bd0" stroke-width="0.85"/>
<circle cx="237.33" cy="248.3" r="2.5" fill="#bdd5ee" stroke="#649bd0" stroke-width="0.85"/>
<circle cx="238.5" cy="254.33" r="2.5" fill="#bdd5ee" stroke="#649bd0" stroke-width="0.85"/>
<circle cx="239.66" cy="248.15" r="2.5" fill="#bdd5ee" stroke="#649bd0" stroke-width="0.85"/>
<circle cx="240.83" cy="246.5" r="2.5" fill="#bdd5ee" stroke="#649bd0" stroke-width="0.85"/>
<circle cx="241.99" cy="248.21" r="2.5" fill="#bdd5ee" stroke="#649bd0" stroke-width="0.85"/>
<circle cx="243.16" cy="246.49" r="2.5" fill="#bdd5ee" stroke="#649bd0" stroke-width="0.85"/>
<circle cx="244.32" cy="248.84" r="2.5" fill="#bdd5ee" stroke="#649bd0" stroke-width="0.85"/>
<circle cx="245.49" cy="245.55" r="2.5" fill="#bdd5ee" stroke="#649bd0" stroke-width="0.85"/>
<circle cx="246.65" cy="246.5" r="2.5" fill="#bdd5ee" stroke="#649bd0" stroke-width="0.85"/>
<circle cx="247.81" cy="254.6" r="2.5" fill="#bdd5ee" stroke="#649bd0" stroke-width="0.85"/>
<circle cx="248.98" cy="242.64" r="2.5" fill="#bdd5ee" stroke="#649bd0" stroke-width="0.85"/>
<circle cx="250.15" cy="250.44" r="2.5" fill="#bdd5ee" stroke="#649bd0" stroke-width="0.85"/>
<circle cx="251.31" cy="246.75" r="2.5" fill="#bdd5ee" stroke="#649bd0" stroke-width="0.85"/>
<circle cx="252.48" cy="245.62" r="2.5" fill="#bdd5ee" stroke="#649bd0" stroke-width="0.85"/>
<circle cx="253.64" cy="250.7" r="2.5" fill="#bdd5ee" stroke="#649bd0" stroke-width="0.85"/>
<circle cx="254.81" cy="250.98" r="2.5" fill="#bdd5ee" stroke="#649bd0" stroke-width="0.85"/>
<circle cx="255.97" cy="255.02" r="2.5" fill="#bdd5ee" stroke="#649bd0" stroke-width="0.85"/>
<circle cx="257.13" cy="244.71" r="2.5" fill="#bdd5ee" stroke="#649bd0" stroke-width="0.85"/>
<circle cx="258.3" cy="250.45" r="2.5" fill="#bdd5ee" stroke="#649bd0" stroke-width="0.85"/>
<circle cx="259.47" cy="244.78" r="2.5" fill="#bdd5ee" stroke="#649bd0" stroke-width="0.85"/>
<circle cx="260.63" cy="251.1" r="2.5" fill="#bdd5ee" stroke="#649bd0" stroke-width="0.85"/>
<circle cx="261.8" cy="252.08" r="2.5" fill="#bdd5ee" stroke="#649bd0" stroke-width="0.85"/>
<circle cx="262.96" cy="246.42" r="2.5" fill="#bdd5ee" stroke="#649bd0" stroke-width="0.85"/>
<circle cx="264.12" cy="245.95" r="2.5" fill="#bdd5ee" stroke="#649bd0" stroke-width="0.85"/>
<circle cx="265.29" cy="244.53" r="2.5" fill="#bdd5ee" stroke="#649bd0" stroke-width="0.85"/>
<circle cx="266.46" cy="252.06" r="2.5" fill="#bdd5ee" stroke="#649bd0" stroke-width="0.85"/>
<circle cx="267.62" cy="255.49" r="2.5" fill="#bdd5ee" stroke="#649bd0" stroke-width="0.85"/>
<circle cx="268.79" cy="248.67" r="2.5" fill="#bdd5ee" stroke="#649bd0" stroke-width="0.85"/>
<circle cx="269.95" cy="246.27" r="2.5" fill="#bdd5ee" stroke="#649bd0" stroke-width="0.85"/>
<circle cx="271.12" cy="251.54" r="2.5" fill="#bdd5ee" stroke="#649bd0" stroke-width="0.85"/>
<circle cx="272.28" cy="241.87" r="2.5" fill="#bdd5ee" stroke="#649bd0" stroke-width="0.85"/>
<circle cx="273.45" cy="244.02" r="2.5" fill="#bdd5ee" stroke="#649bd0" stroke-width="0.85"/>
<circle cx="274.61" cy="248.82" r="2.5" fill="#bdd5ee" stroke="#649bd0" stroke-width="0.85"/>
<circle cx="275.77" cy="251.69" r="2.5" fill="#bdd5ee" stroke="#649bd0" stroke-width="0.85"/>
<circle cx="276.94" cy="249.56" r="2.5" fill="#bdd5ee" stroke="#649bd0" stroke-width="0.85"/>
<circle cx="278.11" cy="251.45" r="2.5" fill="#bdd5ee" stroke="#649bd0" stroke-width="0.85"/>
<circle cx="279.27" cy="248.89" r="2.5" fill="#bdd5ee" stroke="#649bd0" stroke-width="0.85"/>
<circle cx="280.44" cy="248.5" r="2.5" fill="#bdd5ee" stroke="#649bd0" stroke-width="0.85"/>
<circle cx="281.6" cy="244.22" r="2.5" fill="#bdd5ee" stroke="#649bd0" stroke-width="0.85"/>
<circle cx="282.76" cy="245.11" r="2.5" fill="#bdd5ee" stroke="#649bd0" stroke-width="0.85"/>
<circle cx="283.93" cy="254.74" r="2.5" fill="#bdd5ee" stroke="#649bd0" stroke-width="0.85"/>
<circle cx="285.1" cy="246.34" r="2.5" fill="#bdd5ee" stroke="#649bd0" stroke-width="0.85"/>
<circle cx="286.26" cy="243.64" r="2.5" fill="#bdd5ee" stroke="#649bd0" stroke-width="0.85"/>
<circle cx="287.43" cy="247.91" r="2.5" fill="#bdd5ee" stroke="#649bd0" stroke-width="0.85"/>
<circle cx="288.59" cy="248.76" r="2.5" fill="#bdd5ee" stroke="#649bd0" stroke-width="0.85"/>
<circle cx="289.75" cy="249.2" r="2.5" fill="#bdd5ee" stroke="#649bd0" stroke-width="0.85"/>
<circle cx="290.92" cy="250.81" r="2.5" fill="#bdd5ee" stroke="#649bd0" stroke-width="0.85"/>
<circle cx="292.09" cy="243.68" r="2.5" fill="#bdd5ee" stroke="#649bd0" stroke-width="0.85"/>
<circle cx="293.25" cy="244.67" r="2.5" fill="#bdd5ee" stroke="#649bd0" stroke-width="0.85"/>
<circle cx="294.42" cy="248.05" r="2.5" fill="#bdd5ee" stroke="#649bd0" stroke-width="0.85"/>
<circle cx="295.58" cy="245.78" r="2.5" fill="#bdd5ee" stroke="#649bd0" stroke-width="0.85"/>
<circle cx="296.75" cy="250.54" r="2.5" fill="#bdd5ee" stroke="#649bd0" stroke-width="0.85"/>
<circle cx="297.91" cy="245.57" r="2.5" fill="#bdd5ee" stroke="#649bd0" stroke-width="0.85"/>
<circle cx="299.08" cy="246.68" r="2.5" fill="#bdd5ee" stroke="#649bd0" stroke-width="0.85"/>
<circle cx="300.24" cy="243.43" r="2.5" fill="#bdd5ee" stroke="#649bd0" stroke-width="0.85"/>
<circle cx="301.4" cy="245.26" r="2.5" fill="#bdd5ee" stroke="#649bd0" stroke-width="0.85"/>
<circle cx="302.57" cy="251.8" r="2.5" fill="#bdd5ee" stroke="#649bd0" stroke-width="0.85"/>
<circle cx="303.74" cy="248.4" r="2.5" fill="#bdd5ee" stroke="#649bd0" stroke-width="0.85"/>
<circle cx="304.9" cy="254.23" r="2.5" fill="#bdd5ee" stroke="#649bd0" stroke-width="0.85"/>
<circle cx="306.07" cy="251.1" r="2.5" fill="#bdd5ee" stroke="#649bd0" stroke-width="0.85"/>
<circle cx="307.23" cy="240.97" r="2.5" fill="#bdd5ee" stroke="#649bd0" stroke-width="0.85"/>
<circle cx="308.39" cy="246.65" r="2.5" fill="#bdd5ee" stroke="#649bd0" stroke-width="0.85"/>
<circle cx="309.56" cy="249.22" r="2.5" fill="#bdd5ee" stroke="#649bd0" stroke-width="0.85"/>
<circle cx="310.73" cy="248.13" r="2.5" fill="#bdd5ee" stroke="#649bd0" stroke-width="0.85"/>
<circle cx="311.89" cy="246.51" r="2.5" fill="#bdd5ee" stroke="#649bd0" stroke-width="0.85"/>
<circle cx="313.06" cy="247.6" r="2.5" fill="#bdd5ee" stroke="#649bd0" stroke-width="0.85"/>
<circle cx="314.22" cy="249.75" r="2.5" fill="#bdd5ee" stroke="#649bd0" stroke-width="0.85"/>
<circle cx="315.38" cy="245.78" r="2.5" fill="#bdd5ee" stroke="#649bd0" stroke-width="0.85"/>
<circle cx="316.55" cy="247.79" r="2.5" fill="#bdd5ee" stroke="#649bd0" stroke-width="0.85"/>
<circle cx="317.72" cy="246.39" r="2.5" fill="#bdd5ee" stroke="#649bd0" stroke-width="0.85"/>
<circle cx="318.88" cy="248.37" r="2.5" fill="#bdd5ee" stroke="#649bd0" stroke-width="0.85"/>
<circle cx="320.05" cy="253.22" r="2.5" fill="#bdd5ee" stroke="#649bd0" stroke-width="0.85"/>
<circle cx="321.21" cy="248.13" r="2.5" fill="#bdd5ee" stroke="#649bd0" stroke-width="0.85"/>
<circle cx="322.38" cy="247.3" r="2.5" fill="#bdd5ee" stroke="#649bd0" stroke-width="0.85"/>
<circle cx="323.54" cy="247.46" r="2.5" fill="#bdd5ee" stroke="#649bd0" stroke-width="0.85"/>
<circle cx="324.71" cy="249.78" r="2.5" fill="#bdd5ee" stroke="#649bd0" stroke-width="0.85"/>
<circle cx="325.87" cy="248.84" r="2.5" fill="#bdd5ee" stroke="#649bd0" stroke-width="0.85"/>
<circle cx="327.04" cy="242.48" r="2.5" fill="#bdd5ee" stroke="#649bd0" stroke-width="0.85"/>
<circle cx="328.2" cy="256.78" r="2.5" fill="#bdd5ee" stroke="#649bd0" stroke-width="0.85"/>
<circle cx="329.37" cy="240.3" r="2.5" fill="#bdd5ee" stroke="#649bd0" stroke-width="0.85"/>
<circle cx="330.53" cy="244.87" r="2.5" fill="#bdd5ee" stroke="#649bd0" stroke-width="0.85"/>
<circle cx="331.7" cy="249.81" r="2.5" fill="#bdd5ee" stroke="#649bd0" stroke-width="0.85"/>
<circle cx="332.86" cy="244.66" r="2.5" fill="#bdd5ee" stroke="#649bd0" stroke-width="0.85"/>
<circle cx="334.02" cy="248.49" r="2.5" fill="#bdd5ee" stroke="#649bd0" stroke-width="0.85"/>
<circle cx="335.19" cy="248.37" r="2.5" fill="#bdd5ee" stroke="#649bd0" stroke-width="0.85"/>
<circle cx="336.36" cy="246.47" r="2.5" fill="#bdd5ee" stroke="#649bd0" stroke-width="0.85"/>
<circle cx="337.52" cy="244.64" r="2.5" fill="#bdd5ee" stroke="#649bd0" stroke-width="0.85"/>
<circle cx="338.69" cy="247.35" r="2.5" fill="#bdd5ee" stroke="#649bd0" stroke-width="0.85"/>
<circle cx="339.85" cy="255.33" r="2.5" fill="#bdd5ee" stroke="#649bd0" stroke-width="0.85"/>
<circle cx="341.01" cy="249.94" r="2.5" fill="#bdd5ee" stroke="#649bd0" stroke-width="0.85"/>
<circle cx="342.18" cy="254.52" r="2.5" fill="#bdd5ee" stroke="#649bd0" stroke-width="0.85"/>
<circle cx="343.35" cy="251.31" r="2.5" fill="#bdd5ee" stroke="#649bd0" stroke-width="0.85"/>
<circle cx="344.51" cy="250.4" r="2.5" fill="#bdd5ee" stroke="#649bd0" stroke-width="0.85"/>
<circle cx="345.68" cy="248.43" r="2.5" fill="#bdd5ee" stroke="#649bd0" stroke-width="0.85"/>
<circle cx="346.84" cy="240.56" r="2.5" fill="#bdd5ee" stroke="#649bd0" stroke-width="0.85"/>
<circle cx="348" cy="246.67" r="2.5" fill="#bdd5ee" stroke="#649bd0" stroke-width="0.85"/>
<circle cx="349.17" cy="251.23" r="2.5" fill="#bdd5ee" stroke="#649bd0" stroke-width="0.85"/>
<circle cx="350.34" cy="250.02" r="2.5" fill="#bdd5ee" stroke="#649bd0" stroke-width="0.85"/>
<circle cx="351.5" cy="253.5" r="2.5" fill="#bdd5ee" stroke="#649bd0" stroke-width="0.85"/>
<circle cx="352.66" cy="248.26" r="2.5" fill="#bdd5ee" stroke="#649bd0" stroke-width="0.85"/>
<circle cx="353.83" cy="249.32" r="2.5" fill="#bdd5ee" stroke="#649bd0" stroke-width="0.85"/>
<circle cx="355" cy="244.86" r="2.5" fill="#bdd5ee" stroke="#649bd0" stroke-width="0.85"/>
<circle cx="356.16" cy="247.83" r="2.5" fill="#bdd5ee" stroke="#649bd0" stroke-width="0.85"/>
<circle cx="357.33" cy="247.12" r="2.5" fill="#bdd5ee" stroke="#649bd0" stroke-width="0.85"/>
<circle cx="358.49" cy="239.91" r="2.5" fill="#bdd5ee" stroke="#649bd0" stroke-width="0.85"/>
<circle cx="359.65" cy="250.41" r="2.5" fill="#bdd5ee" stroke="#649bd0" stroke-width="0.85"/>
<circle cx="360.82" cy="251.77" r="2.5" fill="#bdd5ee" stroke="#649bd0" stroke-width="0.85"/>
<circle cx="361.99" cy="243.16" r="2.5" fill="#bdd5ee" stroke="#649bd0" stroke-width="0.85"/>
<circle cx="363.15" cy="248.04" r="2.5" fill="#bdd5ee" stroke="#649bd0" stroke-width="0.85"/>
<circle cx="364.32" cy="247.32" r="2.5" fill="#bdd5ee" stroke="#649bd0" stroke-width="0.85"/>
<circle cx="365.48" cy="248.13" r="2.5" fill="#bdd5ee" stroke="#649bd0" stroke-width="0.85"/>
<circle cx="366.64" cy="248.18" r="2.5" fill="#bdd5ee" stroke="#649bd0" stroke-width="0.85"/>
<circle cx="367.81" cy="244.6" r="2.5" fill="#bdd5ee" stroke="#649bd0" stroke-width="0.85"/>
<circle cx="368.98" cy="249.14" r="2.5" fill="#bdd5ee" stroke="#649bd0" stroke-width="0.85"/>
<circle cx="370.14" cy="246.95" r="2.5" fill="#bdd5ee" stroke="#649bd0" stroke-width="0.85"/>
<circle cx="371.31" cy="251.89" r="2.5" fill="#bdd5ee" stroke="#649bd0" stroke-width="0.85"/>
<circle cx="372.47" cy="249.29" r="2.5" fill="#bdd5ee" stroke="#649bd0" stroke-width="0.85"/>
<circle cx="373.63" cy="243.19" r="2.5" fill="#bdd5ee" stroke="#649bd0" stroke-width="0.85"/>
<circle cx="374.8" cy="248.19" r="2.5" fill="#bdd5ee" stroke="#649bd0" stroke-width="0.85"/>
<circle cx="375.97" cy="252.74" r="2.5" fill="#bdd5ee" stroke="#649bd0" stroke-width="0.85"/>
<circle cx="377.13" cy="251.34" r="2.5" fill="#bdd5ee" stroke="#649bd0" stroke-width="0.85"/>
<circle cx="378.29" cy="245.98" r="2.5" fill="#bdd5ee" stroke="#649bd0" stroke-width="0.85"/>
<circle cx="379.46" cy="244.8" r="2.5" fill="#bdd5ee" stroke="#649bd0" stroke-width="0.85"/>
<circle cx="380.62" cy="248.95" r="2.5" fill="#bdd5ee" stroke="#649bd0" stroke-width="0.85"/>
<circle cx="381.79" cy="248.8" r="2.5" fill="#bdd5ee" stroke="#649bd0" stroke-width="0.85"/>
<circle cx="382.96" cy="252.57" r="2.5" fill="#bdd5ee" stroke="#649bd0" stroke-width="0.85"/>
<circle cx="384.12" cy="248.81" r="2.5" fill="#bdd5ee" stroke="#649bd0" stroke-width="0.85"/>
<circle cx="385.28" cy="250.49" r="2.5" fill="#bdd5ee" stroke="#649bd0" stroke-width="0.85"/>
<circle cx="386.45" cy="251.65" r="2.5" fill="#bdd5ee" stroke="#649bd0" stroke-width="0.85"/>
<circle cx="387.62" cy="248.2" r="2.5" fill="#bdd5ee" stroke="#649bd0" stroke-width="0.85"/>
<circle cx="388.78" cy="247.49" r="2.5" fill="#bdd5ee" stroke="#649bd0" stroke-width="0.85"/>
<circle cx="389.95" cy="244.88" r="2.5" fill="#bdd5ee" stroke="#649bd0" stroke-width="0.85"/>
<circle cx="391.11" cy="243.29" r="2.5" fill="#bdd5ee" stroke="#649bd0" stroke-width="0.85"/>
<circle cx="392.27" cy="248.05" r="2.5" fill="#bdd5ee" stroke="#649bd0" stroke-width="0.85"/>
<circle cx="393.44" cy="249.13" r="2.5" fill="#bdd5ee" stroke="#649bd0" stroke-width="0.85"/>
<circle cx="394.61" cy="241.42" r="2.5" fill="#bdd5ee" stroke="#649bd0" stroke-width="0.85"/>
<circle cx="395.77" cy="244.75" r="2.5" fill="#bdd5ee" stroke="#649bd0" stroke-width="0.85"/>
<circle cx="396.94" cy="245.53" r="2.5" fill="#bdd5ee" stroke="#649bd0" stroke-width="0.85"/>
<circle cx="398.1" cy="248.47" r="2.5" fill="#bdd5ee" stroke="#649bd0" stroke-width="0.85"/>
<circle cx="399.26" cy="248.69" r="2.5" fill="#bdd5ee" stroke="#649bd0" stroke-width="0.85"/>
<circle cx="400.43" cy="251.81" r="2.5" fill="#bdd5ee" stroke="#649bd0" stroke-width="0.85"/>
<circle cx="401.6" cy="249.38" r="2.5" fill="#bdd5ee" stroke="#649bd0" stroke-width="0.85"/>
<circle cx="402.76" cy="249.06" r="2.5" fill="#bdd5ee" stroke="#649bd0" stroke-width="0.85"/>
<circle cx="403.93" cy="247.72" r="2.5" fill="#bdd5ee" stroke="#649bd0" stroke-width="0.85"/>
<circle cx="405.09" cy="246.98" r="2.5" fill="#bdd5ee" stroke="#649bd0" stroke-width="0.85"/>
<circle cx="406.25" cy="252.77" r="2.5" fill="#bdd5ee" stroke="#649bd0" stroke-width="0.85"/>
<circle cx="407.42" cy="246.27" r="2.5" fill="#bdd5ee" stroke="#649bd0" stroke-width="0.85"/>
<circle cx="408.59" cy="251.13" r="2.5" fill="#bdd5ee" stroke="#649bd0" stroke-width="0.85"/>
<circle cx="409.75" cy="249.79" r="2.5" fill="#bdd5ee" stroke="#649bd0" stroke-width="0.85"/>
<circle cx="410.91" cy="239.64" r="2.5" fill="#bdd5ee" stroke="#649bd0" stroke-width="0.85"/>
<circle cx="412.08" cy="248.17" r="2.5" fill="#bdd5ee" stroke="#649bd0" stroke-width="0.85"/>
<circle cx="413.25" cy="242.62" r="2.5" fill="#bdd5ee" stroke="#649bd0" stroke-width="0.85"/>
<circle cx="414.41" cy="243.33" r="2.5" fill="#bdd5ee" stroke="#649bd0" stroke-width="0.85"/>
<circle cx="415.58" cy="249.76" r="2.5" fill="#bdd5ee" stroke="#649bd0" stroke-width="0.85"/>
<circle cx="416.74" cy="245.95" r="2.5" fill="#bdd5ee" stroke="#649bd0" stroke-width="0.85"/>
<circle cx="417.9" cy="252.08" r="2.5" fill="#bdd5ee" stroke="#649bd0" stroke-width="0.85"/>
<circle cx="419.07" cy="250.66" r="2.5" fill="#bdd5ee" stroke="#649bd0" stroke-width="0.85"/>
<circle cx="420.24" cy="247.98" r="2.5" fill="#bdd5ee" stroke="#649bd0" stroke-width="0.85"/>
<circle cx="421.4" cy="238.54" r="2.5" fill="#bdd5ee" stroke="#649bd0" stroke-width="0.85"/>
<circle cx="422.57" cy="246.87" r="2.5" fill="#bdd5ee" stroke="#649bd0" stroke-width="0.85"/>
<circle cx="423.73" cy="247.74" r="2.5" fill="#bdd5ee" stroke="#649bd0" stroke-width="0.85"/>
<circle cx="424.89" cy="249.17" r="2.5" fill="#bdd5ee" stroke="#649bd0" stroke-width="0.85"/>
<circle cx="426.06" cy="249.15" r="2.5" fill="#bdd5ee" stroke="#649bd0" stroke-width="0.85"/>
<circle cx="427.23" cy="243.67" r="2.5" fill="#bdd5ee" stroke="#649bd0" stroke-width="0.85"/>
<circle cx="428.39" cy="245.4" r="2.5" fill="#bdd5ee" stroke="#649bd0" stroke-width="0.85"/>
<circle cx="429.56" cy="250.75" r="2.5" fill="#bdd5ee" stroke="#649bd0" stroke-width="0.85"/>
<circle cx="430.72" cy="245.26" r="2.5" fill="#bdd5ee" stroke="#649bd0" stroke-width="0.85"/>
<circle cx="431.88" cy="248.25" r="2.5" fill="#bdd5ee" stroke="#649bd0" stroke-width="0.85"/>
<circle cx="433.05" cy="254.53" r="2.5" fill="#bdd5ee" stroke="#649bd0" stroke-width="0.85"/>
<circle cx="434.22" cy="246.31" r="2.5" fill="#bdd5ee" stroke="#649bd0" stroke-width="0.85"/>
<circle cx="435.38" cy="252.47" r="2.5" fill="#bdd5ee" stroke="#649bd0" stroke-width="0.85"/>
<circle cx="436.55" cy="250.38" r="2.5" fill="#bdd5ee" stroke="#649bd0" stroke-width="0.85"/>
<circle cx="437.71" cy="246.84" r="2.5" fill="#bdd5ee" stroke="#649bd0" stroke-width="0.85"/>
<circle cx="438.88" cy="253.86" r="2.5" fill="#bdd5ee" stroke="#649bd0" stroke-width="0.85"/>
<circle cx="440.04" cy="256.46" r="2.5" fill="#bdd5ee" stroke="#649bd0" stroke-width="0.85"/>
<circle cx="441.21" cy="248.23" r="2.5" fill="#bdd5ee" stroke="#649bd0" stroke-width="0.85"/>
<circle cx="442.37" cy="255.7" r="2.5" fill="#bdd5ee" stroke="#649bd0" stroke-width="0.85"/>
<circle cx="443.53" cy="242.35" r="2.5" fill="#bdd5ee" stroke="#649bd0" stroke-width="0.85"/>
<circle cx="444.7" cy="244.07" r="2.5" fill="#bdd5ee" stroke="#649bd0" stroke-width="0.85"/>
<circle cx="445.87" cy="251.64" r="2.5" fill="#bdd5ee" stroke="#649bd0" stroke-width="0.85"/>
<circle cx="447.03" cy="249.58" r="2.5" fill="#bdd5ee" stroke="#649bd0" stroke-width="0.85"/>
<circle cx="448.2" cy="247.82" r="2.5" fill="#bdd5ee" stroke="#649bd0" stroke-width="0.85"/>
<circle cx="449.36" cy="249.38" r="2.5" fill="#bdd5ee" stroke="#649bd0" stroke-width="0.85"/>
<circle cx="450.52" cy="245.52" r="2.5" fill="#bdd5ee" stroke="#649bd0" stroke-width="0.85"/>
<circle cx="451.69" cy="246.62" r="2.5" fill="#bdd5ee" stroke="#649bd0" stroke-width="0.85"/>
<circle cx="452.86" cy="248.43" r="2.5" fill="#bdd5ee" stroke="#649bd0" stroke-width="0.85"/>
<circle cx="454.02" cy="246.19" r="2.5" fill="#bdd5ee" stroke="#649bd0" stroke-width="0.85"/>
<circle cx="455.19" cy="249.18" r="2.5" fill="#bdd5ee" stroke="#649bd0" stroke-width="0.85"/>
<circle cx="456.35" cy="246.78" r="2.5" fill="#bdd5ee" stroke="#649bd0" stroke-width="0.85"/>
<circle cx="457.51" cy="241.01" r="2.5" fill="#bdd5ee" stroke="#649bd0" stroke-width="0.85"/>
<circle cx="458.68" cy="251.99" r="2.5" fill="#bdd5ee" stroke="#649bd0" stroke-width="0.85"/>
<circle cx="459.85" cy="247.09" r="2.5" fill="#bdd5ee" stroke="#649bd0" stroke-width="0.85"/>
<circle cx="461.01" cy="250.78" r="2.5" fill="#bdd5ee" stroke="#649bd0" stroke-width="0.85"/>
<circle cx="462.18" cy="241.42" r="2.5" fill="#bdd5ee" stroke="#649bd0" stroke-width="0.85"/>
<circle cx="463.34" cy="250.92" r="2.5" fill="#bdd5ee" stroke="#649bd0" stroke-width="0.85"/>
<circle cx="464.5" cy="250.19" r="2.5" fill="#bdd5ee" stroke="#649bd0" stroke-width="0.85"/>
<circle cx="465.67" cy="245.62" r="2.5" fill="#bdd5ee" stroke="#649bd0" stroke-width="0.85"/>
<circle cx="466.84" cy="246.56" r="2.5" fill="#bdd5ee" stroke="#649bd0" stroke-width="0.85"/>
<circle cx="468" cy="243.92" r="2.5" fill="#bdd5ee" stroke="#649bd0" stroke-width="0.85"/>
<circle cx="469.16" cy="245.78" r="2.5" fill="#bdd5ee" stroke="#649bd0" stroke-width="0.85"/>
<circle cx="470.33" cy="251.79" r="2.5" fill="#bdd5ee" stroke="#649bd0" stroke-width="0.85"/>
<circle cx="471.5" cy="254.19" r="2.5" fill="#bdd5ee" stroke="#649bd0" stroke-width="0.85"/>
<circle cx="472.66" cy="249.92" r="2.5" fill="#bdd5ee" stroke="#649bd0" stroke-width="0.85"/>
<circle cx="473.83" cy="243.21" r="2.5" fill="#bdd5ee" stroke="#649bd0" stroke-width="0.85"/>
<circle cx="474.99" cy="249.07" r="2.5" fill="#bdd5ee" stroke="#649bd0" stroke-width="0.85"/>
<circle cx="476.15" cy="253.78" r="2.5" fill="#bdd5ee" stroke="#649bd0" stroke-width="0.85"/>
<circle cx="477.32" cy="249.78" r="2.5" fill="#bdd5ee" stroke="#649bd0" stroke-width="0.85"/>
<circle cx="478.49" cy="248.63" r="2.5" fill="#bdd5ee" stroke="#649bd0" stroke-width="0.85"/>
<circle cx="479.65" cy="255.3" r="2.5" fill="#bdd5ee" stroke="#649bd0" stroke-width="0.85"/>
<circle cx="480.82" cy="244.56" r="2.5" fill="#bdd5ee" stroke="#649bd0" stroke-width="0.85"/>
<circle cx="481.98" cy="243.62" r="2.5" fill="#bdd5ee" stroke="#649bd0" stroke-width="0.85"/>
<circle cx="483.14" cy="246.97" r="2.5" fill="#bdd5ee" stroke="#649bd0" stroke-width="0.85"/>
<circle cx="484.31" cy="242.35" r="2.5" fill="#bdd5ee" stroke="#649bd0" stroke-width="0.85"/>
<circle cx="485.48" cy="250.47" r="2.5" fill="#bdd5ee" stroke="#649bd0" stroke-width="0.85"/>
<circle cx="486.64" cy="246.14" r="2.5" fill="#bdd5ee" stroke="#649bd0" stroke-width="0.85"/>
<circle cx="487.81" cy="252.26" r="2.5" fill="#bdd5ee" stroke="#649bd0" stroke-width="0.85"/>
<circle cx="488.97" cy="247.87" r="2.5" fill="#bdd5ee" stroke="#649bd0" stroke-width="0.85"/>
<circle cx="490.13" cy="245.03" r="2.5" fill="#bdd5ee" stroke="#649bd0" stroke-width="0.85"/>
<circle cx="491.3" cy="249.82" r="2.5" fill="#bdd5ee" stroke="#649bd0" stroke-width="0.85"/>
<circle cx="492.47" cy="244.31" r="2.5" fill="#bdd5ee" stroke="#649bd0" stroke-width="0.85"/>
<circle cx="493.63" cy="252.94" r="2.5" fill="#bdd5ee" stroke="#649bd0" stroke-width="0.85"/>
<circle cx="494.8" cy="243.35" r="2.5" fill="#bdd5ee" stroke="#649bd0" stroke-width="0.85"/>
<circle cx="495.96" cy="249.32" r="2.5" fill="#bdd5ee" stroke="#649bd0" stroke-width="0.85"/>
<circle cx="497.12" cy="246.89" r="2.5" fill="#bdd5ee" stroke="#649bd0" stroke-width="0.85"/>
<circle cx="498.29" cy="251.41" r="2.5" fill="#bdd5ee" stroke="#649bd0" stroke-width="0.85"/>
<circle cx="499.46" cy="248.62" r="2.5" fill="#bdd5ee" stroke="#649bd0" stroke-width="0.85"/>
<circle cx="500.62" cy="258.47" r="2.5" fill="#bdd5ee" stroke="#649bd0" stroke-width="0.85"/>
<circle cx="501.78" cy="247.03" r="2.5" fill="#bdd5ee" stroke="#649bd0" stroke-width="0.85"/>
<circle cx="502.95" cy="244.61" r="2.5" fill="#bdd5ee" stroke="#649bd0" stroke-width="0.85"/>
<circle cx="504.12" cy="245.32" r="2.5" fill="#bdd5ee" stroke="#649bd0" stroke-width="0.85"/>
<circle cx="505.28" cy="246.98" r="2.5" fill="#bdd5ee" stroke="#649bd0" stroke-width="0.85"/>
<circle cx="506.45" cy="247.69" r="2.5" fill="#bdd5ee" stroke="#649bd0" stroke-width="0.85"/>
<circle cx="507.61" cy="250.15" r="2.5" fill="#bdd5ee" stroke="#649bd0" stroke-width="0.85"/>
<circle cx="508.77" cy="254.48" r="2.5" fill="#bdd5ee" stroke="#649bd0" stroke-width="0.85"/>
<circle cx="509.94" cy="251.8" r="2.5" fill="#bdd5ee" stroke="#649bd0" stroke-width="0.85"/>
<circle cx="511.11" cy="247.09" r="2.5" fill="#bdd5ee" stroke="#649bd0" stroke-width="0.85"/>
<circle cx="512.27" cy="245.86" r="2.5" fill="#bdd5ee" stroke="#649bd0" stroke-width="0.85"/>
<circle cx="513.44" cy="250.05" r="2.5" fill="#bdd5ee" stroke="#649bd0" stroke-width="0.85"/>
<circle cx="514.6" cy="249.4" r="2.5" fill="#bdd5ee" stroke="#649bd0" stroke-width="0.85"/>
<circle cx="515.76" cy="245.36" r="2.5" fill="#bdd5ee" stroke="#649bd0" stroke-width="0.85"/>
<circle cx="516.93" cy="242.98" r="2.5" fill="#bdd5ee" stroke="#649bd0" stroke-width="0.85"/>
<circle cx="518.1" cy="246.45" r="2.5" fill="#bdd5ee" stroke="#649bd0" stroke-width="0.85"/>
<circle cx="519.26" cy="251.59" r="2.5" fill="#bdd5ee" stroke="#649bd0" stroke-width="0.85"/>
<circle cx="520.43" cy="245.37" r="2.5" fill="#bdd5ee" stroke="#649bd0" stroke-width="0.85"/>
<circle cx="521.59" cy="249.64" r="2.5" fill="#bdd5ee" stroke="#649bd0" stroke-width="0.85"/>
<circle cx="522.75" cy="250.43" r="2.5" fill="#bdd5ee" stroke="#649bd0" stroke-width="0.85"/>
<circle cx="523.92" cy="247.78" r="2.5" fill="#bdd5ee" stroke="#649bd0" stroke-width="0.85"/>
<circle cx="525.09" cy="246.98" r="2.5" fill="#bdd5ee" stroke="#649bd0" stroke-width="0.85"/>
<circle cx="526.25" cy="251.22" r="2.5" fill="#bdd5ee" stroke="#649bd0" stroke-width="0.85"/>
<circle cx="527.41" cy="249.63" r="2.5" fill="#bdd5ee" stroke="#649bd0" stroke-width="0.85"/>
<circle cx="528.58" cy="237.81" r="2.5" fill="#bdd5ee" stroke="#649bd0" stroke-width="0.85"/>
<circle cx="529.75" cy="244.2" r="2.5" fill="#bdd5ee" stroke="#649bd0" stroke-width="0.85"/>
<circle cx="530.91" cy="247.78" r="2.5" fill="#bdd5ee" stroke="#649bd0" stroke-width="0.85"/>
<circle cx="532.08" cy="249.1" r="2.5" fill="#bdd5ee" stroke="#649bd0" stroke-width="0.85"/>
<circle cx="533.24" cy="252.56" r="2.5" fill="#bdd5ee" stroke="#649bd0" stroke-width="0.85"/>
<circle cx="534.4" cy="249.19" r="2.5" fill="#bdd5ee" stroke="#649bd0" stroke-width="0.85"/>
<circle cx="535.57" cy="245.67" r="2.5" fill="#bdd5ee" stroke="#649bd0" stroke-width="0.85"/>
<circle cx="536.74" cy="255.04" r="2.5" fill="#bdd5ee" stroke="#649bd0" stroke-width="0.85"/>
<circle cx="537.9" cy="256.18" r="2.5" fill="#bdd5ee" stroke="#649bd0" stroke-width="0.85"/>
<circle cx="539.07" cy="253.92" r="2.5" fill="#bdd5ee" stroke="#649bd0" stroke-width="0.85"/>
<circle cx="540.23" cy="243.31" r="2.5" fill="#bdd5ee" stroke="#649bd0" stroke-width="0.85"/>
<circle cx="541.39" cy="248.71" r="2.5" fill="#bdd5ee" stroke="#649bd0" stroke-width="0.85"/>
<circle cx="542.56" cy="242.68" r="2.5" fill="#bdd5ee" stroke="#649bd0" stroke-width="0.85"/>
<circle cx="543.73" cy="256.36" r="2.5" fill="#bdd5ee" stroke="#649bd0" stroke-width="0.85"/>
<circle cx="544.89" cy="246.38" r="2.5" fill="#bdd5ee" stroke="#649bd0" stroke-width="0.85"/>
<circle cx="546.06" cy="250.02" r="2.5" fill="#bdd5ee" stroke="#649bd0" stroke-width="0.85"/>
<circle cx="547.22" cy="242.37" r="2.5" fill="#bdd5ee" stroke="#649bd0" stroke-width="0.85"/>
<circle cx="548.38" cy="242.69" r="2.5" fill="#bdd5ee" stroke="#649bd0" stroke-width="0.85"/>
<circle cx="549.55" cy="244.6" r="2.5" fill="#bdd5ee" stroke="#649bd0" stroke-width="0.85"/>
<circle cx="550.72" cy="250.01" r="2.5" fill="#bdd5ee" stroke="#649bd0" stroke-width="0.85"/>
<circle cx="551.88" cy="248.36" r="2.5" fill="#bdd5ee" stroke="#649bd0" stroke-width="0.85"/>
<circle cx="553.05" cy="248.54" r="2.5" fill="#bdd5ee" stroke="#649bd0" stroke-width="0.85"/>
<circle cx="554.21" cy="246.79" r="2.5" fill="#bdd5ee" stroke="#649bd0" stroke-width="0.85"/>
<circle cx="555.38" cy="248.74" r="2.5" fill="#bdd5ee" stroke="#649bd0" stroke-width="0.85"/>
<circle cx="556.54" cy="251.18" r="2.5" fill="#bdd5ee" stroke="#649bd0" stroke-width="0.85"/>
<circle cx="557.71" cy="251.02" r="2.5" fill="#bdd5ee" stroke="#649bd0" stroke-width="0.85"/>
<circle cx="558.87" cy="245.71" r="2.5" fill="#bdd5ee" stroke="#649bd0" stroke-width="0.85"/>
<circle cx="560.03" cy="248.34" r="2.5" fill="#bdd5ee" stroke="#649bd0" stroke-width="0.85"/>
<circle cx="561.2" cy="248.48" r="2.5" fill="#bdd5ee" stroke="#649bd0" stroke-width="0.85"/>
<circle cx="562.37" cy="247.7" r="2.5" fill="#bdd5ee" stroke="#649bd0" stroke-width="0.85"/>
<circle cx="563.53" cy="253.28" r="2.5" fill="#bdd5ee" stroke="#649bd0" stroke-width="0.85"/>
<circle cx="564.7" cy="245.28" r="2.5" fill="#bdd5ee" stroke="#649bd0" stroke-width="0.85"/>
<circle cx="565.86" cy="244.13" r="2.5" fill="#bdd5ee" stroke="#649bd0" stroke-width="0.85"/>
<circle cx="567.02" cy="242.57" r="2.5" fill="#bdd5ee" stroke="#649bd0" stroke-width="0.85"/>
<circle cx="568.19" cy="249.66" r="2.5" fill="#bdd5ee" stroke="#649bd0" stroke-width="0.85"/>
<circle cx="569.36" cy="246.8" r="2.5" fill="#bdd5ee" stroke="#649bd0" stroke-width="0.85"/>
<circle cx="570.52" cy="244.98" r="2.5" fill="#bdd5ee" stroke="#649bd0" stroke-width="0.85"/>
<circle cx="571.69" cy="248.61" r="2.5" fill="#bdd5ee" stroke="#649bd0" stroke-width="0.85"/>
<circle cx="572.85" cy="244.25" r="2.5" fill="#bdd5ee" stroke="#649bd0" stroke-width="0.85"/>
<circle cx="574.01" cy="249.21" r="2.5" fill="#bdd5ee" stroke="#649bd0" stroke-width="0.85"/>
<circle cx="575.18" cy="246.98" r="2.5" fill="#bdd5ee" stroke="#649bd0" stroke-width="0.85"/>
<circle cx="576.35" cy="249.5" r="2.5" fill="#bdd5ee" stroke="#649bd0" stroke-width="0.85"/>
<circle cx="577.51" cy="249.6" r="2.5" fill="#bdd5ee" stroke="#649bd0" stroke-width="0.85"/>
<circle cx="578.68" cy="253.21" r="2.5" fill="#bdd5ee" stroke="#649bd0" stroke-width="0.85"/>
<circle cx="579.84" cy="246.82" r="2.5" fill="#bdd5ee" stroke="#649bd0" stroke-width="0.85"/>
<circle cx="581" cy="244.42" r="2.5" fill="#bdd5ee" stroke="#649bd0" stroke-width="0.85"/>
<circle cx="582.17" cy="248.33" r="2.5" fill="#bdd5ee" stroke="#649bd0" stroke-width="0.85"/>
<circle cx="583.34" cy="244.58" r="2.5" fill="#bdd5ee" stroke="#649bd0" stroke-width="0.85"/>
<circle cx="584.5" cy="255.01" r="2.5" fill="#bdd5ee" stroke="#649bd0" stroke-width="0.85"/>
<circle cx="585.66" cy="244.92" r="2.5" fill="#bdd5ee" stroke="#649bd0" stroke-width="0.85"/>
<circle cx="586.83" cy="243.86" r="2.5" fill="#bdd5ee" stroke="#649bd0" stroke-width="0.85"/>
<circle cx="588" cy="251.96" r="2.5" fill="#bdd5ee" stroke="#649bd0" stroke-width="0.85"/>
<circle cx="589.16" cy="251.87" r="2.5" fill="#bdd5ee" stroke="#649bd0" stroke-width="0.85"/>
<circle cx="590.33" cy="247.43" r="2.5" fill="#bdd5ee" stroke="#649bd0" stroke-width="0.85"/>
<circle cx="591.49" cy="250.52" r="2.5" fill="#bdd5ee" stroke="#649bd0" stroke-width="0.85"/>
<circle cx="592.65" cy="248.19" r="2.5" fill="#bdd5ee" stroke="#649bd0" stroke-width="0.85"/>
<circle cx="593.82" cy="245.85" r="2.5" fill="#bdd5ee" stroke="#649bd0" stroke-width="0.85"/>
<circle cx="594.99" cy="250.2" r="2.5" fill="#bdd5ee" stroke="#649bd0" stroke-width="0.85"/>
<circle cx="596.15" cy="248.85" r="2.5" fill="#bdd5ee" stroke="#649bd0" stroke-width="0.85"/>
<circle cx="597.31" cy="243.74" r="2.5" fill="#bdd5ee" stroke="#649bd0" stroke-width="0.85"/>
<circle cx="598.48" cy="244.81" r="2.5" fill="#bdd5ee" stroke="#649bd0" stroke-width="0.85"/>
<circle cx="599.64" cy="248.79" r="2.5" fill="#bdd5ee" stroke="#649bd0" stroke-width="0.85"/>
<circle cx="600.81" cy="245.67" r="2.5" fill="#bdd5ee" stroke="#649bd0" stroke-width="0.85"/>
<circle cx="601.98" cy="250.06" r="2.5" fill="#bdd5ee" stroke="#649bd0" stroke-width="0.85"/>
<circle cx="603.14" cy="249.06" r="2.5" fill="#bdd5ee" stroke="#649bd0" stroke-width="0.85"/>
<circle cx="604.3" cy="250.18" r="2.5" fill="#bdd5ee" stroke="#649bd0" stroke-width="0.85"/>
<circle cx="605.47" cy="255.72" r="2.5" fill="#bdd5ee" stroke="#649bd0" stroke-width="0.85"/>
<circle cx="606.63" cy="251.21" r="2.5" fill="#bdd5ee" stroke="#649bd0" stroke-width="0.85"/>
<circle cx="607.8" cy="253" r="2.5" fill="#bdd5ee" stroke="#649bd0" stroke-width="0.85"/>
<circle cx="608.97" cy="250.7" r="2.5" fill="#bdd5ee" stroke="#649bd0" stroke-width="0.85"/>
<circle cx="610.13" cy="246.52" r="2.5" fill="#bdd5ee" stroke="#649bd0" stroke-width="0.85"/>
<circle cx="611.29" cy="248.76" r="2.5" fill="#bdd5ee" stroke="#649bd0" stroke-width="0.85"/>
<circle cx="612.46" cy="241.03" r="2.5" fill="#bdd5ee" stroke="#649bd0" stroke-width="0.85"/>
<circle cx="613.62" cy="247.73" r="2.5" fill="#bdd5ee" stroke="#649bd0" stroke-width="0.85"/>
<circle cx="614.79" cy="243.64" r="2.5" fill="#bdd5ee" stroke="#649bd0" stroke-width="0.85"/>
<circle cx="615.96" cy="246.26" r="2.5" fill="#bdd5ee" stroke="#649bd0" stroke-width="0.85"/>
<circle cx="617.12" cy="249.09" r="2.5" fill="#bdd5ee" stroke="#649bd0" stroke-width="0.85"/>
<circle cx="618.28" cy="249.01" r="2.5" fill="#bdd5ee" stroke="#649bd0" stroke-width="0.85"/>
<circle cx="619.45" cy="239.43" r="2.5" fill="#bdd5ee" stroke="#649bd0" stroke-width="0.85"/>
<circle cx="620.62" cy="253.78" r="2.5" fill="#bdd5ee" stroke="#649bd0" stroke-width="0.85"/>
<circle cx="621.78" cy="250.9" r="2.5" fill="#bdd5ee" stroke="#649bd0" stroke-width="0.85"/>
<circle cx="622.95" cy="247.27" r="2.5" fill="#bdd5ee" stroke="#649bd0" stroke-width="0.85"/>
<circle cx="624.11" cy="247.64" r="2.5" fill="#bdd5ee" stroke="#649bd0" stroke-width="0.85"/>
<circle cx="625.27" cy="243.41" r="2.5" fill="#bdd5ee" stroke="#649bd0" stroke-width="0.85"/>
<circle cx="626.44" cy="249.89" r="2.5" fill="#bdd5ee" stroke="#649bd0" stroke-width="0.85"/>
<circle cx="627.61" cy="248.3" r="2.5" fill="#bdd5ee" stroke="#649bd0" stroke-width="0.85"/>
<circle cx="628.77" cy="251.37" r="2.5" fill="#bdd5ee" stroke="#649bd0" stroke-width="0.85"/>
<circle cx="629.93" cy="245.78" r="2.5" fill="#bdd5ee" stroke="#649bd0" stroke-width="0.85"/>
<circle cx="631.1" cy="247.81" r="2.5" fill="#bdd5ee" stroke="#649bd0" stroke-width="0.85"/>
<circle cx="632.26" cy="251.38" r="2.5" fill="#bdd5ee" stroke="#649bd0" stroke-width="0.85"/>
<circle cx="633.43" cy="245.15" r="2.5" fill="#bdd5ee" stroke="#649bd0" stroke-width="0.85"/>
<circle cx="634.6" cy="248.42" r="2.5" fill="#bdd5ee" stroke="#649bd0" stroke-width="0.85"/>
<circle cx="635.76" cy="243.65" r="2.5" fill="#bdd5ee" stroke="#649bd0" stroke-width="0.85"/>
<circle cx="636.92" cy="243.11" r="2.5" fill="#bdd5ee" stroke="#649bd0" stroke-width="0.85"/>
<circle cx="638.09" cy="246.85" r="2.5" fill="#bdd5ee" stroke="#649bd0" stroke-width="0.85"/>
<circle cx="639.25" cy="251.14" r="2.5" fill="#bdd5ee" stroke="#649bd0" stroke-width="0.85"/>
<circle cx="640.42" cy="250.3" r="2.5" fill="#bdd5ee" stroke="#649bd0" stroke-width="0.85"/>
<circle cx="641.59" cy="250.17" r="2.5" fill="#bdd5ee" stroke="#649bd0" stroke-width="0.85"/>
<circle cx="642.75" cy="253.36" r="2.5" fill="#bdd5ee" stroke="#649bd0" stroke-width="0.85"/>
<circle cx="643.91" cy="241.55" r="2.5" fill="#bdd5ee" stroke="#649bd0" stroke-width="0.85"/>
<circle cx="645.08" cy="248.26" r="2.5" fill="#bdd5ee" stroke="#649bd0" stroke-width="0.85"/>
<circle cx="646.25" cy="252.06" r="2.5" fill="#bdd5ee" stroke="#649bd0" stroke-width="0.85"/>
<circle cx="647.41" cy="246.27" r="2.5" fill="#bdd5ee" stroke="#649bd0" stroke-width="0.85"/>
<circle cx="648.58" cy="251.62" r="2.5" fill="#bdd5ee" stroke="#649bd0" stroke-width="0.85"/>
<circle cx="649.74" cy="248.61" r="2.5" fill="#bdd5ee" stroke="#649bd0" stroke-width="0.85"/>
<circle cx="650.9" cy="242.89" r="2.5" fill="#bdd5ee" stroke="#649bd0" stroke-width="0.85"/>
<circle cx="652.07" cy="246.2" r="2.5" fill="#bdd5ee" stroke="#649bd0" stroke-width="0.85"/>
<circle cx="653.24" cy="252.69" r="2.5" fill="#bdd5ee" stroke="#649bd0" stroke-width="0.85"/>
<circle cx="654.4" cy="251.31" r="2.5" fill="#bdd5ee" stroke="#649bd0" stroke-width="0.85"/>
<circle cx="73.07" cy="294.8" r="2.3" fill="#f2a3b6" stroke="#e3627f" stroke-width="0.8"/>
<circle cx="74.23" cy="278.49" r="2.7" fill="#f2a3b6" stroke="#e3627f" stroke-width="0.85"/>
<circle cx="75.4" cy="278.01" r="2.7" fill="#f2a3b6" stroke="#e3627f" stroke-width="0.85"/>
<circle cx="76.56" cy="277.68" r="2.7" fill="#f2a3b6" stroke="#e3627f" stroke-width="0.85"/>
<circle cx="77.73" cy="277.12" r="2.7" fill="#f2a3b6" stroke="#e3627f" stroke-width="0.85"/>
<circle cx="78.89" cy="276.45" r="2.7" fill="#f2a3b6" stroke="#e3627f" stroke-width="0.85"/>
<circle cx="80.06" cy="275.62" r="2.7" fill="#f2a3b6" stroke="#e3627f" stroke-width="0.85"/>
<circle cx="81.22" cy="275.51" r="2.7" fill="#f2a3b6" stroke="#e3627f" stroke-width="0.85"/>
<circle cx="82.39" cy="275.08" r="2.7" fill="#f2a3b6" stroke="#e3627f" stroke-width="0.85"/>
<circle cx="83.55" cy="274.58" r="2.7" fill="#f2a3b6" stroke="#e3627f" stroke-width="0.85"/>
<circle cx="84.72" cy="274.32" r="2.7" fill="#f2a3b6" stroke="#e3627f" stroke-width="0.85"/>
<circle cx="85.88" cy="274.08" r="2.7" fill="#f2a3b6" stroke="#e3627f" stroke-width="0.85"/>
<circle cx="87.05" cy="273.66" r="2.7" fill="#f2a3b6" stroke="#e3627f" stroke-width="0.85"/>
<circle cx="88.21" cy="273.27" r="2.7" fill="#f2a3b6" stroke="#e3627f" stroke-width="0.85"/>
<circle cx="89.38" cy="273.74" r="2.7" fill="#f2a3b6" stroke="#e3627f" stroke-width="0.85"/>
<circle cx="90.54" cy="273.64" r="2.7" fill="#f2a3b6" stroke="#e3627f" stroke-width="0.85"/>
<circle cx="91.71" cy="273.3" r="2.7" fill="#f2a3b6" stroke="#e3627f" stroke-width="0.85"/>
<circle cx="92.87" cy="273.32" r="2.7" fill="#f2a3b6" stroke="#e3627f" stroke-width="0.85"/>
<circle cx="94.04" cy="272.87" r="2.7" fill="#f2a3b6" stroke="#e3627f" stroke-width="0.85"/>
<circle cx="95.2" cy="273.12" r="2.7" fill="#f2a3b6" stroke="#e3627f" stroke-width="0.85"/>
<circle cx="96.37" cy="272.73" r="2.7" fill="#f2a3b6" stroke="#e3627f" stroke-width="0.85"/>
<circle cx="97.53" cy="273.11" r="2.7" fill="#f2a3b6" stroke="#e3627f" stroke-width="0.85"/>
<circle cx="98.7" cy="273" r="2.7" fill="#f2a3b6" stroke="#e3627f" stroke-width="0.85"/>
<circle cx="99.86" cy="273.25" r="2.7" fill="#f2a3b6" stroke="#e3627f" stroke-width="0.85"/>
<circle cx="101.03" cy="272.7" r="2.7" fill="#f2a3b6" stroke="#e3627f" stroke-width="0.85"/>
<circle cx="102.19" cy="273.2" r="2.7" fill="#f2a3b6" stroke="#e3627f" stroke-width="0.85"/>
<circle cx="103.36" cy="272.77" r="2.7" fill="#f2a3b6" stroke="#e3627f" stroke-width="0.85"/>
<circle cx="104.52" cy="273.16" r="2.7" fill="#f2a3b6" stroke="#e3627f" stroke-width="0.85"/>
<circle cx="105.69" cy="273.56" r="2.7" fill="#f2a3b6" stroke="#e3627f" stroke-width="0.85"/>
<circle cx="106.85" cy="273" r="2.7" fill="#f2a3b6" stroke="#e3627f" stroke-width="0.85"/>
<circle cx="108.02" cy="273.28" r="2.7" fill="#f2a3b6" stroke="#e3627f" stroke-width="0.85"/>
<circle cx="109.18" cy="273.42" r="2.7" fill="#f2a3b6" stroke="#e3627f" stroke-width="0.85"/>
<circle cx="110.34" cy="273.55" r="2.7" fill="#f2a3b6" stroke="#e3627f" stroke-width="0.85"/>
<circle cx="111.51" cy="273.47" r="2.7" fill="#f2a3b6" stroke="#e3627f" stroke-width="0.85"/>
<circle cx="112.68" cy="274.21" r="2.7" fill="#f2a3b6" stroke="#e3627f" stroke-width="0.85"/>
<circle cx="113.84" cy="274.32" r="2.7" fill="#f2a3b6" stroke="#e3627f" stroke-width="0.85"/>
<circle cx="115.01" cy="274.2" r="2.7" fill="#f2a3b6" stroke="#e3627f" stroke-width="0.85"/>
<circle cx="116.17" cy="274.34" r="2.7" fill="#f2a3b6" stroke="#e3627f" stroke-width="0.85"/>
<circle cx="117.34" cy="274.67" r="2.7" fill="#f2a3b6" stroke="#e3627f" stroke-width="0.85"/>
<circle cx="118.5" cy="274.47" r="2.7" fill="#f2a3b6" stroke="#e3627f" stroke-width="0.85"/>
<circle cx="119.67" cy="274.63" r="2.7" fill="#f2a3b6" stroke="#e3627f" stroke-width="0.85"/>
<circle cx="120.83" cy="275.41" r="2.7" fill="#f2a3b6" stroke="#e3627f" stroke-width="0.85"/>
<circle cx="122" cy="275.16" r="2.7" fill="#f2a3b6" stroke="#e3627f" stroke-width="0.85"/>
<circle cx="123.16" cy="275.51" r="2.7" fill="#f2a3b6" stroke="#e3627f" stroke-width="0.85"/>
<circle cx="124.33" cy="276.02" r="2.7" fill="#f2a3b6" stroke="#e3627f" stroke-width="0.85"/>
<circle cx="125.49" cy="276.26" r="2.7" fill="#f2a3b6" stroke="#e3627f" stroke-width="0.85"/>
<circle cx="126.66" cy="276.12" r="2.7" fill="#f2a3b6" stroke="#e3627f" stroke-width="0.85"/>
<circle cx="127.82" cy="276.14" r="2.7" fill="#f2a3b6" stroke="#e3627f" stroke-width="0.85"/>
<circle cx="128.99" cy="276.41" r="2.7" fill="#f2a3b6" stroke="#e3627f" stroke-width="0.85"/>
<circle cx="130.15" cy="277.06" r="2.7" fill="#f2a3b6" stroke="#e3627f" stroke-width="0.85"/>
<circle cx="131.31" cy="277.25" r="2.7" fill="#f2a3b6" stroke="#e3627f" stroke-width="0.85"/>
<circle cx="132.48" cy="276.97" r="2.7" fill="#f2a3b6" stroke="#e3627f" stroke-width="0.85"/>
<circle cx="133.65" cy="277.63" r="2.7" fill="#f2a3b6" stroke="#e3627f" stroke-width="0.85"/>
<circle cx="134.81" cy="277.58" r="2.7" fill="#f2a3b6" stroke="#e3627f" stroke-width="0.85"/>
<circle cx="135.98" cy="277.96" r="2.7" fill="#f2a3b6" stroke="#e3627f" stroke-width="0.85"/>
<circle cx="137.14" cy="278.04" r="2.7" fill="#f2a3b6" stroke="#e3627f" stroke-width="0.85"/>
<circle cx="138.31" cy="278.83" r="2.7" fill="#f2a3b6" stroke="#e3627f" stroke-width="0.85"/>
<circle cx="139.47" cy="279.2" r="2.7" fill="#f2a3b6" stroke="#e3627f" stroke-width="0.85"/>
<circle cx="140.63" cy="278.94" r="2.7" fill="#f2a3b6" stroke="#e3627f" stroke-width="0.85"/>
<circle cx="141.8" cy="279.54" r="2.7" fill="#f2a3b6" stroke="#e3627f" stroke-width="0.85"/>
<circle cx="142.97" cy="279.52" r="2.7" fill="#f2a3b6" stroke="#e3627f" stroke-width="0.85"/>
<circle cx="144.13" cy="280.3" r="2.7" fill="#f2a3b6" stroke="#e3627f" stroke-width="0.85"/>
<circle cx="145.3" cy="280.04" r="2.7" fill="#f2a3b6" stroke="#e3627f" stroke-width="0.85"/>
<circle cx="146.46" cy="280.4" r="2.7" fill="#f2a3b6" stroke="#e3627f" stroke-width="0.85"/>
<circle cx="147.62" cy="281.16" r="2.7" fill="#f2a3b6" stroke="#e3627f" stroke-width="0.85"/>
<circle cx="148.79" cy="281.19" r="2.7" fill="#f2a3b6" stroke="#e3627f" stroke-width="0.85"/>
<circle cx="149.96" cy="281.92" r="2.7" fill="#f2a3b6" stroke="#e3627f" stroke-width="0.85"/>
<circle cx="151.12" cy="282.22" r="2.7" fill="#f2a3b6" stroke="#e3627f" stroke-width="0.85"/>
<circle cx="152.29" cy="282.43" r="2.7" fill="#f2a3b6" stroke="#e3627f" stroke-width="0.85"/>
<circle cx="153.45" cy="282.35" r="2.7" fill="#f2a3b6" stroke="#e3627f" stroke-width="0.85"/>
<circle cx="154.62" cy="283.07" r="2.7" fill="#f2a3b6" stroke="#e3627f" stroke-width="0.85"/>
<circle cx="155.78" cy="283.55" r="2.7" fill="#f2a3b6" stroke="#e3627f" stroke-width="0.85"/>
<circle cx="156.94" cy="283.47" r="2.7" fill="#f2a3b6" stroke="#e3627f" stroke-width="0.85"/>
<circle cx="158.11" cy="283.48" r="2.7" fill="#f2a3b6" stroke="#e3627f" stroke-width="0.85"/>
<circle cx="159.28" cy="283.85" r="2.7" fill="#f2a3b6" stroke="#e3627f" stroke-width="0.85"/>
<circle cx="160.44" cy="284.18" r="2.7" fill="#f2a3b6" stroke="#e3627f" stroke-width="0.85"/>
<circle cx="161.61" cy="284.73" r="2.7" fill="#f2a3b6" stroke="#e3627f" stroke-width="0.85"/>
<circle cx="162.77" cy="284.64" r="2.7" fill="#f2a3b6" stroke="#e3627f" stroke-width="0.85"/>
<circle cx="163.94" cy="284.9" r="2.7" fill="#f2a3b6" stroke="#e3627f" stroke-width="0.85"/>
<circle cx="165.1" cy="285.21" r="2.7" fill="#f2a3b6" stroke="#e3627f" stroke-width="0.85"/>
<circle cx="166.27" cy="285.77" r="2.7" fill="#f2a3b6" stroke="#e3627f" stroke-width="0.85"/>
<circle cx="167.43" cy="286.08" r="2.7" fill="#f2a3b6" stroke="#e3627f" stroke-width="0.85"/>
<circle cx="168.6" cy="286.01" r="2.7" fill="#f2a3b6" stroke="#e3627f" stroke-width="0.85"/>
<circle cx="169.76" cy="286.43" r="2.7" fill="#f2a3b6" stroke="#e3627f" stroke-width="0.85"/>
<circle cx="170.93" cy="286.81" r="2.7" fill="#f2a3b6" stroke="#e3627f" stroke-width="0.85"/>
<circle cx="172.09" cy="286.83" r="2.7" fill="#f2a3b6" stroke="#e3627f" stroke-width="0.85"/>
<circle cx="173.25" cy="286.8" r="2.7" fill="#f2a3b6" stroke="#e3627f" stroke-width="0.85"/>
<circle cx="174.42" cy="287.07" r="2.7" fill="#f2a3b6" stroke="#e3627f" stroke-width="0.85"/>
<circle cx="175.59" cy="287.73" r="2.7" fill="#f2a3b6" stroke="#e3627f" stroke-width="0.85"/>
<circle cx="176.75" cy="287.77" r="2.7" fill="#f2a3b6" stroke="#e3627f" stroke-width="0.85"/>
<circle cx="177.92" cy="287.71" r="2.7" fill="#f2a3b6" stroke="#e3627f" stroke-width="0.85"/>
<circle cx="179.08" cy="288.14" r="2.7" fill="#f2a3b6" stroke="#e3627f" stroke-width="0.85"/>
<circle cx="180.25" cy="287.94" r="2.7" fill="#f2a3b6" stroke="#e3627f" stroke-width="0.85"/>
<circle cx="181.41" cy="288.75" r="2.7" fill="#f2a3b6" stroke="#e3627f" stroke-width="0.85"/>
<circle cx="182.57" cy="288.55" r="2.7" fill="#f2a3b6" stroke="#e3627f" stroke-width="0.85"/>
<circle cx="183.74" cy="288.79" r="2.7" fill="#f2a3b6" stroke="#e3627f" stroke-width="0.85"/>
<circle cx="184.91" cy="288.97" r="2.7" fill="#f2a3b6" stroke="#e3627f" stroke-width="0.85"/>
<circle cx="186.07" cy="288.81" r="2.7" fill="#f2a3b6" stroke="#e3627f" stroke-width="0.85"/>
<circle cx="187.24" cy="289.38" r="2.7" fill="#f2a3b6" stroke="#e3627f" stroke-width="0.85"/>
<circle cx="188.4" cy="289.34" r="2.7" fill="#f2a3b6" stroke="#e3627f" stroke-width="0.85"/>
<circle cx="189.56" cy="289.5" r="2.7" fill="#f2a3b6" stroke="#e3627f" stroke-width="0.85"/>
<circle cx="190.73" cy="290.07" r="2.7" fill="#f2a3b6" stroke="#e3627f" stroke-width="0.85"/>
<circle cx="191.9" cy="289.75" r="2.7" fill="#f2a3b6" stroke="#e3627f" stroke-width="0.85"/>
<circle cx="193.06" cy="290.07" r="2.7" fill="#f2a3b6" stroke="#e3627f" stroke-width="0.85"/>
<circle cx="194.23" cy="290.58" r="2.7" fill="#f2a3b6" stroke="#e3627f" stroke-width="0.85"/>
<circle cx="195.39" cy="290.4" r="2.7" fill="#f2a3b6" stroke="#e3627f" stroke-width="0.85"/>
<circle cx="196.56" cy="290.6" r="2.7" fill="#f2a3b6" stroke="#e3627f" stroke-width="0.85"/>
<circle cx="197.72" cy="290.97" r="2.7" fill="#f2a3b6" stroke="#e3627f" stroke-width="0.85"/>
<circle cx="198.88" cy="290.9" r="2.7" fill="#f2a3b6" stroke="#e3627f" stroke-width="0.85"/>
<circle cx="200.05" cy="291.58" r="2.7" fill="#f2a3b6" stroke="#e3627f" stroke-width="0.85"/>
<circle cx="201.22" cy="291.82" r="2.7" fill="#f2a3b6" stroke="#e3627f" stroke-width="0.85"/>
<circle cx="202.38" cy="291.34" r="2.7" fill="#f2a3b6" stroke="#e3627f" stroke-width="0.85"/>
<circle cx="203.55" cy="291.82" r="2.7" fill="#f2a3b6" stroke="#e3627f" stroke-width="0.85"/>
<circle cx="204.71" cy="292.2" r="2.7" fill="#f2a3b6" stroke="#e3627f" stroke-width="0.85"/>
<circle cx="205.88" cy="292.12" r="2.7" fill="#f2a3b6" stroke="#e3627f" stroke-width="0.85"/>
<circle cx="207.04" cy="292.69" r="2.7" fill="#f2a3b6" stroke="#e3627f" stroke-width="0.85"/>
<circle cx="208.21" cy="292.57" r="2.7" fill="#f2a3b6" stroke="#e3627f" stroke-width="0.85"/>
<circle cx="209.37" cy="292.52" r="2.7" fill="#f2a3b6" stroke="#e3627f" stroke-width="0.85"/>
<circle cx="210.53" cy="292.97" r="2.7" fill="#f2a3b6" stroke="#e3627f" stroke-width="0.85"/>
<circle cx="211.7" cy="293.21" r="2.7" fill="#f2a3b6" stroke="#e3627f" stroke-width="0.85"/>
<circle cx="212.87" cy="293.19" r="2.7" fill="#f2a3b6" stroke="#e3627f" stroke-width="0.85"/>
<circle cx="214.03" cy="293.58" r="2.7" fill="#f2a3b6" stroke="#e3627f" stroke-width="0.85"/>
<circle cx="215.2" cy="293.85" r="2.7" fill="#f2a3b6" stroke="#e3627f" stroke-width="0.85"/>
<circle cx="216.36" cy="293.84" r="2.7" fill="#f2a3b6" stroke="#e3627f" stroke-width="0.85"/>
<circle cx="217.53" cy="294.02" r="2.7" fill="#f2a3b6" stroke="#e3627f" stroke-width="0.85"/>
<circle cx="218.69" cy="294.44" r="2.7" fill="#f2a3b6" stroke="#e3627f" stroke-width="0.85"/>
<circle cx="219.86" cy="294.5" r="2.7" fill="#f2a3b6" stroke="#e3627f" stroke-width="0.85"/>
<circle cx="221.02" cy="294.57" r="2.7" fill="#f2a3b6" stroke="#e3627f" stroke-width="0.85"/>
<circle cx="222.19" cy="295.02" r="2.7" fill="#f2a3b6" stroke="#e3627f" stroke-width="0.85"/>
<circle cx="223.35" cy="294.62" r="2.7" fill="#f2a3b6" stroke="#e3627f" stroke-width="0.85"/>
<circle cx="224.52" cy="295.18" r="2.7" fill="#f2a3b6" stroke="#e3627f" stroke-width="0.85"/>
<circle cx="225.68" cy="294.89" r="2.7" fill="#f2a3b6" stroke="#e3627f" stroke-width="0.85"/>
<circle cx="226.84" cy="295.33" r="2.7" fill="#f2a3b6" stroke="#e3627f" stroke-width="0.85"/>
<circle cx="228.01" cy="295.21" r="2.7" fill="#f2a3b6" stroke="#e3627f" stroke-width="0.85"/>
<circle cx="229.18" cy="295.49" r="2.7" fill="#f2a3b6" stroke="#e3627f" stroke-width="0.85"/>
<circle cx="230.34" cy="295.86" r="2.7" fill="#f2a3b6" stroke="#e3627f" stroke-width="0.85"/>
<circle cx="231.51" cy="296.01" r="2.7" fill="#f2a3b6" stroke="#e3627f" stroke-width="0.85"/>
<circle cx="232.67" cy="296.15" r="2.7" fill="#f2a3b6" stroke="#e3627f" stroke-width="0.85"/>
<circle cx="233.84" cy="295.9" r="2.7" fill="#f2a3b6" stroke="#e3627f" stroke-width="0.85"/>
<circle cx="235" cy="296.22" r="2.7" fill="#f2a3b6" stroke="#e3627f" stroke-width="0.85"/>
<circle cx="236.17" cy="296.17" r="2.7" fill="#f2a3b6" stroke="#e3627f" stroke-width="0.85"/>
<circle cx="237.33" cy="296.56" r="2.7" fill="#f2a3b6" stroke="#e3627f" stroke-width="0.85"/>
<circle cx="238.5" cy="296.64" r="2.7" fill="#f2a3b6" stroke="#e3627f" stroke-width="0.85"/>
<circle cx="239.66" cy="296.45" r="2.7" fill="#f2a3b6" stroke="#e3627f" stroke-width="0.85"/>
<circle cx="240.83" cy="296.99" r="2.7" fill="#f2a3b6" stroke="#e3627f" stroke-width="0.85"/>
<circle cx="241.99" cy="297.21" r="2.7" fill="#f2a3b6" stroke="#e3627f" stroke-width="0.85"/>
<circle cx="243.16" cy="297.25" r="2.7" fill="#f2a3b6" stroke="#e3627f" stroke-width="0.85"/>
<circle cx="244.32" cy="297.59" r="2.7" fill="#f2a3b6" stroke="#e3627f" stroke-width="0.85"/>
<circle cx="245.49" cy="297.25" r="2.7" fill="#f2a3b6" stroke="#e3627f" stroke-width="0.85"/>
<circle cx="246.65" cy="297.37" r="2.7" fill="#f2a3b6" stroke="#e3627f" stroke-width="0.85"/>
<circle cx="247.81" cy="297.41" r="2.7" fill="#f2a3b6" stroke="#e3627f" stroke-width="0.85"/>
<circle cx="248.98" cy="297.88" r="2.7" fill="#f2a3b6" stroke="#e3627f" stroke-width="0.85"/>
<circle cx="250.15" cy="297.98" r="2.7" fill="#f2a3b6" stroke="#e3627f" stroke-width="0.85"/>
<circle cx="251.31" cy="298.12" r="2.7" fill="#f2a3b6" stroke="#e3627f" stroke-width="0.85"/>
<circle cx="252.48" cy="298.14" r="2.7" fill="#f2a3b6" stroke="#e3627f" stroke-width="0.85"/>
<circle cx="253.64" cy="298.65" r="2.7" fill="#f2a3b6" stroke="#e3627f" stroke-width="0.85"/>
<circle cx="254.81" cy="298.28" r="2.7" fill="#f2a3b6" stroke="#e3627f" stroke-width="0.85"/>
<circle cx="255.97" cy="299" r="2.7" fill="#f2a3b6" stroke="#e3627f" stroke-width="0.85"/>
<circle cx="257.13" cy="298.9" r="2.7" fill="#f2a3b6" stroke="#e3627f" stroke-width="0.85"/>
<circle cx="258.3" cy="299.02" r="2.7" fill="#f2a3b6" stroke="#e3627f" stroke-width="0.85"/>
<circle cx="259.47" cy="299.34" r="2.7" fill="#f2a3b6" stroke="#e3627f" stroke-width="0.85"/>
<circle cx="260.63" cy="299.09" r="2.7" fill="#f2a3b6" stroke="#e3627f" stroke-width="0.85"/>
<circle cx="261.8" cy="299.16" r="2.7" fill="#f2a3b6" stroke="#e3627f" stroke-width="0.85"/>
<circle cx="262.96" cy="299.41" r="2.7" fill="#f2a3b6" stroke="#e3627f" stroke-width="0.85"/>
<circle cx="264.12" cy="299.36" r="2.7" fill="#f2a3b6" stroke="#e3627f" stroke-width="0.85"/>
<circle cx="265.29" cy="299.69" r="2.7" fill="#f2a3b6" stroke="#e3627f" stroke-width="0.85"/>
<circle cx="266.46" cy="300.02" r="2.7" fill="#f2a3b6" stroke="#e3627f" stroke-width="0.85"/>
<circle cx="267.62" cy="300.07" r="2.7" fill="#f2a3b6" stroke="#e3627f" stroke-width="0.85"/>
<circle cx="268.79" cy="300.01" r="2.7" fill="#f2a3b6" stroke="#e3627f" stroke-width="0.85"/>
<circle cx="269.95" cy="300.35" r="2.7" fill="#f2a3b6" stroke="#e3627f" stroke-width="0.85"/>
<circle cx="271.12" cy="300.12" r="2.7" fill="#f2a3b6" stroke="#e3627f" stroke-width="0.85"/>
<circle cx="272.28" cy="300.75" r="2.7" fill="#f2a3b6" stroke="#e3627f" stroke-width="0.85"/>
<circle cx="273.45" cy="300.41" r="2.7" fill="#f2a3b6" stroke="#e3627f" stroke-width="0.85"/>
<circle cx="274.61" cy="300.58" r="2.7" fill="#f2a3b6" stroke="#e3627f" stroke-width="0.85"/>
<circle cx="275.77" cy="300.63" r="2.7" fill="#f2a3b6" stroke="#e3627f" stroke-width="0.85"/>
<circle cx="276.94" cy="301.12" r="2.7" fill="#f2a3b6" stroke="#e3627f" stroke-width="0.85"/>
<circle cx="278.11" cy="301.34" r="2.7" fill="#f2a3b6" stroke="#e3627f" stroke-width="0.85"/>
<circle cx="279.27" cy="301.42" r="2.7" fill="#f2a3b6" stroke="#e3627f" stroke-width="0.85"/>
<circle cx="280.44" cy="301.03" r="2.7" fill="#f2a3b6" stroke="#e3627f" stroke-width="0.85"/>
<circle cx="281.6" cy="301.39" r="2.7" fill="#f2a3b6" stroke="#e3627f" stroke-width="0.85"/>
<circle cx="282.76" cy="301.48" r="2.7" fill="#f2a3b6" stroke="#e3627f" stroke-width="0.85"/>
<circle cx="283.93" cy="301.49" r="2.7" fill="#f2a3b6" stroke="#e3627f" stroke-width="0.85"/>
<circle cx="285.1" cy="302.14" r="2.7" fill="#f2a3b6" stroke="#e3627f" stroke-width="0.85"/>
<circle cx="286.26" cy="301.61" r="2.7" fill="#f2a3b6" stroke="#e3627f" stroke-width="0.85"/>
<circle cx="287.43" cy="302.03" r="2.7" fill="#f2a3b6" stroke="#e3627f" stroke-width="0.85"/>
<circle cx="288.59" cy="302.31" r="2.7" fill="#f2a3b6" stroke="#e3627f" stroke-width="0.85"/>
<circle cx="289.75" cy="302.57" r="2.7" fill="#f2a3b6" stroke="#e3627f" stroke-width="0.85"/>
<circle cx="290.92" cy="302.07" r="2.7" fill="#f2a3b6" stroke="#e3627f" stroke-width="0.85"/>
<circle cx="292.09" cy="302.39" r="2.7" fill="#f2a3b6" stroke="#e3627f" stroke-width="0.85"/>
<circle cx="293.25" cy="302.69" r="2.7" fill="#f2a3b6" stroke="#e3627f" stroke-width="0.85"/>
<circle cx="294.42" cy="302.29" r="2.7" fill="#f2a3b6" stroke="#e3627f" stroke-width="0.85"/>
<circle cx="295.58" cy="302.52" r="2.7" fill="#f2a3b6" stroke="#e3627f" stroke-width="0.85"/>
<circle cx="296.75" cy="303.07" r="2.7" fill="#f2a3b6" stroke="#e3627f" stroke-width="0.85"/>
<circle cx="297.91" cy="302.65" r="2.7" fill="#f2a3b6" stroke="#e3627f" stroke-width="0.85"/>
<circle cx="299.08" cy="302.92" r="2.7" fill="#f2a3b6" stroke="#e3627f" stroke-width="0.85"/>
<circle cx="300.24" cy="302.95" r="2.7" fill="#f2a3b6" stroke="#e3627f" stroke-width="0.85"/>
<circle cx="301.4" cy="303.13" r="2.7" fill="#f2a3b6" stroke="#e3627f" stroke-width="0.85"/>
<circle cx="302.57" cy="302.98" r="2.7" fill="#f2a3b6" stroke="#e3627f" stroke-width="0.85"/>
<circle cx="303.74" cy="303.05" r="2.7" fill="#f2a3b6" stroke="#e3627f" stroke-width="0.85"/>
<circle cx="304.9" cy="303.82" r="2.7" fill="#f2a3b6" stroke="#e3627f" stroke-width="0.85"/>
<circle cx="306.07" cy="303.75" r="2.7" fill="#f2a3b6" stroke="#e3627f" stroke-width="0.85"/>
<circle cx="307.23" cy="303.83" r="2.7" fill="#f2a3b6" stroke="#e3627f" stroke-width="0.85"/>
<circle cx="308.39" cy="303.57" r="2.7" fill="#f2a3b6" stroke="#e3627f" stroke-width="0.85"/>
<circle cx="309.56" cy="303.67" r="2.7" fill="#f2a3b6" stroke="#e3627f" stroke-width="0.85"/>
<circle cx="310.73" cy="303.95" r="2.7" fill="#f2a3b6" stroke="#e3627f" stroke-width="0.85"/>
<circle cx="311.89" cy="303.81" r="2.7" fill="#f2a3b6" stroke="#e3627f" stroke-width="0.85"/>
<circle cx="313.06" cy="304.04" r="2.7" fill="#f2a3b6" stroke="#e3627f" stroke-width="0.85"/>
<circle cx="314.22" cy="304.44" r="2.7" fill="#f2a3b6" stroke="#e3627f" stroke-width="0.85"/>
<circle cx="315.38" cy="304.12" r="2.7" fill="#f2a3b6" stroke="#e3627f" stroke-width="0.85"/>
<circle cx="316.55" cy="304.17" r="2.7" fill="#f2a3b6" stroke="#e3627f" stroke-width="0.85"/>
<circle cx="317.72" cy="304.7" r="2.7" fill="#f2a3b6" stroke="#e3627f" stroke-width="0.85"/>
<circle cx="318.88" cy="304.52" r="2.7" fill="#f2a3b6" stroke="#e3627f" stroke-width="0.85"/>
<circle cx="320.05" cy="304.19" r="2.7" fill="#f2a3b6" stroke="#e3627f" stroke-width="0.85"/>
<circle cx="321.21" cy="304.52" r="2.7" fill="#f2a3b6" stroke="#e3627f" stroke-width="0.85"/>
<circle cx="322.38" cy="304.77" r="2.7" fill="#f2a3b6" stroke="#e3627f" stroke-width="0.85"/>
<circle cx="323.54" cy="304.43" r="2.7" fill="#f2a3b6" stroke="#e3627f" stroke-width="0.85"/>
<circle cx="324.71" cy="304.7" r="2.7" fill="#f2a3b6" stroke="#e3627f" stroke-width="0.85"/>
<circle cx="325.87" cy="305.02" r="2.7" fill="#f2a3b6" stroke="#e3627f" stroke-width="0.85"/>
<circle cx="327.04" cy="305.21" r="2.7" fill="#f2a3b6" stroke="#e3627f" stroke-width="0.85"/>
<circle cx="328.2" cy="305.1" r="2.7" fill="#f2a3b6" stroke="#e3627f" stroke-width="0.85"/>
<circle cx="329.37" cy="305.38" r="2.7" fill="#f2a3b6" stroke="#e3627f" stroke-width="0.85"/>
<circle cx="330.53" cy="305.16" r="2.7" fill="#f2a3b6" stroke="#e3627f" stroke-width="0.85"/>
<circle cx="331.7" cy="305.17" r="2.7" fill="#f2a3b6" stroke="#e3627f" stroke-width="0.85"/>
<circle cx="332.86" cy="305.55" r="2.7" fill="#f2a3b6" stroke="#e3627f" stroke-width="0.85"/>
<circle cx="334.02" cy="305.29" r="2.7" fill="#f2a3b6" stroke="#e3627f" stroke-width="0.85"/>
<circle cx="335.19" cy="305.64" r="2.7" fill="#f2a3b6" stroke="#e3627f" stroke-width="0.85"/>
<circle cx="336.36" cy="305.31" r="2.7" fill="#f2a3b6" stroke="#e3627f" stroke-width="0.85"/>
<circle cx="337.52" cy="305.46" r="2.7" fill="#f2a3b6" stroke="#e3627f" stroke-width="0.85"/>
<circle cx="338.69" cy="305.41" r="2.7" fill="#f2a3b6" stroke="#e3627f" stroke-width="0.85"/>
<circle cx="339.85" cy="305.73" r="2.7" fill="#f2a3b6" stroke="#e3627f" stroke-width="0.85"/>
<circle cx="341.01" cy="305.52" r="2.7" fill="#f2a3b6" stroke="#e3627f" stroke-width="0.85"/>
<circle cx="342.18" cy="305.62" r="2.7" fill="#f2a3b6" stroke="#e3627f" stroke-width="0.85"/>
<circle cx="343.35" cy="305.69" r="2.7" fill="#f2a3b6" stroke="#e3627f" stroke-width="0.85"/>
<circle cx="344.51" cy="305.93" r="2.7" fill="#f2a3b6" stroke="#e3627f" stroke-width="0.85"/>
<circle cx="345.68" cy="305.88" r="2.7" fill="#f2a3b6" stroke="#e3627f" stroke-width="0.85"/>
<circle cx="346.84" cy="306.04" r="2.7" fill="#f2a3b6" stroke="#e3627f" stroke-width="0.85"/>
<circle cx="348" cy="306.49" r="2.7" fill="#f2a3b6" stroke="#e3627f" stroke-width="0.85"/>
<circle cx="349.17" cy="306.33" r="2.7" fill="#f2a3b6" stroke="#e3627f" stroke-width="0.85"/>
<circle cx="350.34" cy="306.52" r="2.7" fill="#f2a3b6" stroke="#e3627f" stroke-width="0.85"/>
<circle cx="351.5" cy="306.13" r="2.7" fill="#f2a3b6" stroke="#e3627f" stroke-width="0.85"/>
<circle cx="352.66" cy="306.32" r="2.7" fill="#f2a3b6" stroke="#e3627f" stroke-width="0.85"/>
<circle cx="353.83" cy="306.15" r="2.7" fill="#f2a3b6" stroke="#e3627f" stroke-width="0.85"/>
<circle cx="355" cy="306.63" r="2.7" fill="#f2a3b6" stroke="#e3627f" stroke-width="0.85"/>
<circle cx="356.16" cy="306.45" r="2.7" fill="#f2a3b6" stroke="#e3627f" stroke-width="0.85"/>
<circle cx="357.33" cy="306.43" r="2.7" fill="#f2a3b6" stroke="#e3627f" stroke-width="0.85"/>
<circle cx="358.49" cy="306.3" r="2.7" fill="#f2a3b6" stroke="#e3627f" stroke-width="0.85"/>
<circle cx="359.65" cy="306.46" r="2.7" fill="#f2a3b6" stroke="#e3627f" stroke-width="0.85"/>
<circle cx="360.82" cy="306.59" r="2.7" fill="#f2a3b6" stroke="#e3627f" stroke-width="0.85"/>
<circle cx="361.99" cy="306.76" r="2.7" fill="#f2a3b6" stroke="#e3627f" stroke-width="0.85"/>
<circle cx="363.15" cy="307.21" r="2.7" fill="#f2a3b6" stroke="#e3627f" stroke-width="0.85"/>
<circle cx="364.32" cy="307.15" r="2.7" fill="#f2a3b6" stroke="#e3627f" stroke-width="0.85"/>
<circle cx="365.48" cy="306.91" r="2.7" fill="#f2a3b6" stroke="#e3627f" stroke-width="0.85"/>
<circle cx="366.64" cy="307.06" r="2.7" fill="#f2a3b6" stroke="#e3627f" stroke-width="0.85"/>
<circle cx="367.81" cy="306.99" r="2.7" fill="#f2a3b6" stroke="#e3627f" stroke-width="0.85"/>
<circle cx="368.98" cy="307.62" r="2.7" fill="#f2a3b6" stroke="#e3627f" stroke-width="0.85"/>
<circle cx="370.14" cy="307.3" r="2.7" fill="#f2a3b6" stroke="#e3627f" stroke-width="0.85"/>
<circle cx="371.31" cy="307.66" r="2.7" fill="#f2a3b6" stroke="#e3627f" stroke-width="0.85"/>
<circle cx="372.47" cy="307.71" r="2.7" fill="#f2a3b6" stroke="#e3627f" stroke-width="0.85"/>
<circle cx="373.63" cy="307.92" r="2.7" fill="#f2a3b6" stroke="#e3627f" stroke-width="0.85"/>
<circle cx="374.8" cy="307.38" r="2.7" fill="#f2a3b6" stroke="#e3627f" stroke-width="0.85"/>
<circle cx="375.97" cy="307.67" r="2.7" fill="#f2a3b6" stroke="#e3627f" stroke-width="0.85"/>
<circle cx="377.13" cy="307.79" r="2.7" fill="#f2a3b6" stroke="#e3627f" stroke-width="0.85"/>
<circle cx="378.29" cy="307.66" r="2.7" fill="#f2a3b6" stroke="#e3627f" stroke-width="0.85"/>
<circle cx="379.46" cy="308.3" r="2.7" fill="#f2a3b6" stroke="#e3627f" stroke-width="0.85"/>
<circle cx="380.62" cy="307.99" r="2.7" fill="#f2a3b6" stroke="#e3627f" stroke-width="0.85"/>
<circle cx="381.79" cy="308.38" r="2.7" fill="#f2a3b6" stroke="#e3627f" stroke-width="0.85"/>
<circle cx="382.96" cy="308.29" r="2.7" fill="#f2a3b6" stroke="#e3627f" stroke-width="0.85"/>
<circle cx="384.12" cy="308.04" r="2.7" fill="#f2a3b6" stroke="#e3627f" stroke-width="0.85"/>
<circle cx="385.28" cy="308.36" r="2.7" fill="#f2a3b6" stroke="#e3627f" stroke-width="0.85"/>
<circle cx="386.45" cy="308.33" r="2.7" fill="#f2a3b6" stroke="#e3627f" stroke-width="0.85"/>
<circle cx="387.62" cy="308.27" r="2.7" fill="#f2a3b6" stroke="#e3627f" stroke-width="0.85"/>
<circle cx="388.78" cy="308.43" r="2.7" fill="#f2a3b6" stroke="#e3627f" stroke-width="0.85"/>
<circle cx="389.95" cy="308.82" r="2.7" fill="#f2a3b6" stroke="#e3627f" stroke-width="0.85"/>
<circle cx="391.11" cy="308.5" r="2.7" fill="#f2a3b6" stroke="#e3627f" stroke-width="0.85"/>
<circle cx="392.27" cy="308.78" r="2.7" fill="#f2a3b6" stroke="#e3627f" stroke-width="0.85"/>
<circle cx="393.44" cy="308.94" r="2.7" fill="#f2a3b6" stroke="#e3627f" stroke-width="0.85"/>
<circle cx="394.61" cy="309.1" r="2.7" fill="#f2a3b6" stroke="#e3627f" stroke-width="0.85"/>
<circle cx="395.77" cy="308.9" r="2.7" fill="#f2a3b6" stroke="#e3627f" stroke-width="0.85"/>
<circle cx="396.94" cy="309.37" r="2.7" fill="#f2a3b6" stroke="#e3627f" stroke-width="0.85"/>
<circle cx="398.1" cy="309.14" r="2.7" fill="#f2a3b6" stroke="#e3627f" stroke-width="0.85"/>
<circle cx="399.26" cy="309.55" r="2.7" fill="#f2a3b6" stroke="#e3627f" stroke-width="0.85"/>
<circle cx="400.43" cy="309.59" r="2.7" fill="#f2a3b6" stroke="#e3627f" stroke-width="0.85"/>
<circle cx="401.6" cy="309.3" r="2.7" fill="#f2a3b6" stroke="#e3627f" stroke-width="0.85"/>
<circle cx="402.76" cy="309.42" r="2.7" fill="#f2a3b6" stroke="#e3627f" stroke-width="0.85"/>
<circle cx="403.93" cy="309.55" r="2.7" fill="#f2a3b6" stroke="#e3627f" stroke-width="0.85"/>
<circle cx="405.09" cy="309.91" r="2.7" fill="#f2a3b6" stroke="#e3627f" stroke-width="0.85"/>
<circle cx="406.25" cy="309.76" r="2.7" fill="#f2a3b6" stroke="#e3627f" stroke-width="0.85"/>
<circle cx="407.42" cy="309.8" r="2.7" fill="#f2a3b6" stroke="#e3627f" stroke-width="0.85"/>
<circle cx="408.59" cy="310.2" r="2.7" fill="#f2a3b6" stroke="#e3627f" stroke-width="0.85"/>
<circle cx="409.75" cy="309.81" r="2.7" fill="#f2a3b6" stroke="#e3627f" stroke-width="0.85"/>
<circle cx="410.91" cy="309.91" r="2.7" fill="#f2a3b6" stroke="#e3627f" stroke-width="0.85"/>
<circle cx="412.08" cy="310.01" r="2.7" fill="#f2a3b6" stroke="#e3627f" stroke-width="0.85"/>
<circle cx="413.25" cy="309.98" r="2.7" fill="#f2a3b6" stroke="#e3627f" stroke-width="0.85"/>
<circle cx="414.41" cy="309.91" r="2.7" fill="#f2a3b6" stroke="#e3627f" stroke-width="0.85"/>
<circle cx="415.58" cy="309.96" r="2.7" fill="#f2a3b6" stroke="#e3627f" stroke-width="0.85"/>
<circle cx="416.74" cy="310.44" r="2.7" fill="#f2a3b6" stroke="#e3627f" stroke-width="0.85"/>
<circle cx="417.9" cy="310.45" r="2.7" fill="#f2a3b6" stroke="#e3627f" stroke-width="0.85"/>
<circle cx="419.07" cy="310.68" r="2.7" fill="#f2a3b6" stroke="#e3627f" stroke-width="0.85"/>
<circle cx="420.24" cy="310.86" r="2.7" fill="#f2a3b6" stroke="#e3627f" stroke-width="0.85"/>
<circle cx="421.4" cy="310.44" r="2.7" fill="#f2a3b6" stroke="#e3627f" stroke-width="0.85"/>
<circle cx="422.57" cy="310.76" r="2.7" fill="#f2a3b6" stroke="#e3627f" stroke-width="0.85"/>
<circle cx="423.73" cy="310.99" r="2.7" fill="#f2a3b6" stroke="#e3627f" stroke-width="0.85"/>
<circle cx="424.89" cy="310.56" r="2.7" fill="#f2a3b6" stroke="#e3627f" stroke-width="0.85"/>
<circle cx="426.06" cy="310.95" r="2.7" fill="#f2a3b6" stroke="#e3627f" stroke-width="0.85"/>
<circle cx="427.23" cy="310.99" r="2.7" fill="#f2a3b6" stroke="#e3627f" stroke-width="0.85"/>
<circle cx="428.39" cy="311.25" r="2.7" fill="#f2a3b6" stroke="#e3627f" stroke-width="0.85"/>
<circle cx="429.56" cy="311.25" r="2.7" fill="#f2a3b6" stroke="#e3627f" stroke-width="0.85"/>
<circle cx="430.72" cy="310.87" r="2.7" fill="#f2a3b6" stroke="#e3627f" stroke-width="0.85"/>
<circle cx="431.88" cy="311.2" r="2.7" fill="#f2a3b6" stroke="#e3627f" stroke-width="0.85"/>
<circle cx="433.05" cy="310.88" r="2.7" fill="#f2a3b6" stroke="#e3627f" stroke-width="0.85"/>
<circle cx="434.22" cy="311.18" r="2.7" fill="#f2a3b6" stroke="#e3627f" stroke-width="0.85"/>
<circle cx="435.38" cy="311.21" r="2.7" fill="#f2a3b6" stroke="#e3627f" stroke-width="0.85"/>
<circle cx="436.55" cy="311.04" r="2.7" fill="#f2a3b6" stroke="#e3627f" stroke-width="0.85"/>
<circle cx="437.71" cy="311.32" r="2.7" fill="#f2a3b6" stroke="#e3627f" stroke-width="0.85"/>
<circle cx="438.88" cy="311.34" r="2.7" fill="#f2a3b6" stroke="#e3627f" stroke-width="0.85"/>
<circle cx="440.04" cy="311.52" r="2.7" fill="#f2a3b6" stroke="#e3627f" stroke-width="0.85"/>
<circle cx="441.21" cy="311.42" r="2.7" fill="#f2a3b6" stroke="#e3627f" stroke-width="0.85"/>
<circle cx="442.37" cy="311.4" r="2.7" fill="#f2a3b6" stroke="#e3627f" stroke-width="0.85"/>
<circle cx="443.53" cy="311.63" r="2.7" fill="#f2a3b6" stroke="#e3627f" stroke-width="0.85"/>
<circle cx="444.7" cy="311.74" r="2.7" fill="#f2a3b6" stroke="#e3627f" stroke-width="0.85"/>
<circle cx="445.87" cy="311.58" r="2.7" fill="#f2a3b6" stroke="#e3627f" stroke-width="0.85"/>
<circle cx="447.03" cy="311.99" r="2.7" fill="#f2a3b6" stroke="#e3627f" stroke-width="0.85"/>
<circle cx="448.2" cy="311.74" r="2.7" fill="#f2a3b6" stroke="#e3627f" stroke-width="0.85"/>
<circle cx="449.36" cy="311.69" r="2.7" fill="#f2a3b6" stroke="#e3627f" stroke-width="0.85"/>
<circle cx="450.52" cy="311.91" r="2.7" fill="#f2a3b6" stroke="#e3627f" stroke-width="0.85"/>
<circle cx="451.69" cy="312.01" r="2.7" fill="#f2a3b6" stroke="#e3627f" stroke-width="0.85"/>
<circle cx="452.86" cy="311.87" r="2.7" fill="#f2a3b6" stroke="#e3627f" stroke-width="0.85"/>
<circle cx="454.02" cy="312.22" r="2.7" fill="#f2a3b6" stroke="#e3627f" stroke-width="0.85"/>
<circle cx="455.19" cy="312.35" r="2.7" fill="#f2a3b6" stroke="#e3627f" stroke-width="0.85"/>
<circle cx="456.35" cy="312.3" r="2.7" fill="#f2a3b6" stroke="#e3627f" stroke-width="0.85"/>
<circle cx="457.51" cy="312.45" r="2.7" fill="#f2a3b6" stroke="#e3627f" stroke-width="0.85"/>
<circle cx="458.68" cy="312.02" r="2.7" fill="#f2a3b6" stroke="#e3627f" stroke-width="0.85"/>
<circle cx="459.85" cy="312.33" r="2.7" fill="#f2a3b6" stroke="#e3627f" stroke-width="0.85"/>
<circle cx="461.01" cy="312.36" r="2.7" fill="#f2a3b6" stroke="#e3627f" stroke-width="0.85"/>
<circle cx="462.18" cy="312.19" r="2.7" fill="#f2a3b6" stroke="#e3627f" stroke-width="0.85"/>
<circle cx="463.34" cy="312.48" r="2.7" fill="#f2a3b6" stroke="#e3627f" stroke-width="0.85"/>
<circle cx="464.5" cy="312.28" r="2.7" fill="#f2a3b6" stroke="#e3627f" stroke-width="0.85"/>
<circle cx="465.67" cy="312.64" r="2.7" fill="#f2a3b6" stroke="#e3627f" stroke-width="0.85"/>
<circle cx="466.84" cy="312.75" r="2.7" fill="#f2a3b6" stroke="#e3627f" stroke-width="0.85"/>
<circle cx="468" cy="312.72" r="2.7" fill="#f2a3b6" stroke="#e3627f" stroke-width="0.85"/>
<circle cx="469.16" cy="312.66" r="2.7" fill="#f2a3b6" stroke="#e3627f" stroke-width="0.85"/>
<circle cx="470.33" cy="312.66" r="2.7" fill="#f2a3b6" stroke="#e3627f" stroke-width="0.85"/>
<circle cx="471.5" cy="312.55" r="2.7" fill="#f2a3b6" stroke="#e3627f" stroke-width="0.85"/>
<circle cx="472.66" cy="312.82" r="2.7" fill="#f2a3b6" stroke="#e3627f" stroke-width="0.85"/>
<circle cx="473.83" cy="313.25" r="2.7" fill="#f2a3b6" stroke="#e3627f" stroke-width="0.85"/>
<circle cx="474.99" cy="313.07" r="2.7" fill="#f2a3b6" stroke="#e3627f" stroke-width="0.85"/>
<circle cx="476.15" cy="312.91" r="2.7" fill="#f2a3b6" stroke="#e3627f" stroke-width="0.85"/>
<circle cx="477.32" cy="313.24" r="2.7" fill="#f2a3b6" stroke="#e3627f" stroke-width="0.85"/>
<circle cx="478.49" cy="312.95" r="2.7" fill="#f2a3b6" stroke="#e3627f" stroke-width="0.85"/>
<circle cx="479.65" cy="313.2" r="2.7" fill="#f2a3b6" stroke="#e3627f" stroke-width="0.85"/>
<circle cx="480.82" cy="313.35" r="2.7" fill="#f2a3b6" stroke="#e3627f" stroke-width="0.85"/>
<circle cx="481.98" cy="313.63" r="2.7" fill="#f2a3b6" stroke="#e3627f" stroke-width="0.85"/>
<circle cx="483.14" cy="313.26" r="2.7" fill="#f2a3b6" stroke="#e3627f" stroke-width="0.85"/>
<circle cx="484.31" cy="313.46" r="2.7" fill="#f2a3b6" stroke="#e3627f" stroke-width="0.85"/>
<circle cx="485.48" cy="313.77" r="2.7" fill="#f2a3b6" stroke="#e3627f" stroke-width="0.85"/>
<circle cx="486.64" cy="313.69" r="2.7" fill="#f2a3b6" stroke="#e3627f" stroke-width="0.85"/>
<circle cx="487.81" cy="313.64" r="2.7" fill="#f2a3b6" stroke="#e3627f" stroke-width="0.85"/>
<circle cx="488.97" cy="313.68" r="2.7" fill="#f2a3b6" stroke="#e3627f" stroke-width="0.85"/>
<circle cx="490.13" cy="313.59" r="2.7" fill="#f2a3b6" stroke="#e3627f" stroke-width="0.85"/>
<circle cx="491.3" cy="313.64" r="2.7" fill="#f2a3b6" stroke="#e3627f" stroke-width="0.85"/>
<circle cx="492.47" cy="313.58" r="2.7" fill="#f2a3b6" stroke="#e3627f" stroke-width="0.85"/>
<circle cx="493.63" cy="314.02" r="2.7" fill="#f2a3b6" stroke="#e3627f" stroke-width="0.85"/>
<circle cx="494.8" cy="314.1" r="2.7" fill="#f2a3b6" stroke="#e3627f" stroke-width="0.85"/>
<circle cx="495.96" cy="313.79" r="2.7" fill="#f2a3b6" stroke="#e3627f" stroke-width="0.85"/>
<circle cx="497.12" cy="314.21" r="2.7" fill="#f2a3b6" stroke="#e3627f" stroke-width="0.85"/>
<circle cx="498.29" cy="313.64" r="2.7" fill="#f2a3b6" stroke="#e3627f" stroke-width="0.85"/>
<circle cx="499.46" cy="313.76" r="2.7" fill="#f2a3b6" stroke="#e3627f" stroke-width="0.85"/>
<circle cx="500.62" cy="314.06" r="2.7" fill="#f2a3b6" stroke="#e3627f" stroke-width="0.85"/>
<circle cx="501.78" cy="313.97" r="2.7" fill="#f2a3b6" stroke="#e3627f" stroke-width="0.85"/>
<circle cx="502.95" cy="314.05" r="2.7" fill="#f2a3b6" stroke="#e3627f" stroke-width="0.85"/>
<circle cx="504.12" cy="314.53" r="2.7" fill="#f2a3b6" stroke="#e3627f" stroke-width="0.85"/>
<circle cx="505.28" cy="313.99" r="2.7" fill="#f2a3b6" stroke="#e3627f" stroke-width="0.85"/>
<circle cx="506.45" cy="314.07" r="2.7" fill="#f2a3b6" stroke="#e3627f" stroke-width="0.85"/>
<circle cx="507.61" cy="314.14" r="2.7" fill="#f2a3b6" stroke="#e3627f" stroke-width="0.85"/>
<circle cx="508.77" cy="314.5" r="2.7" fill="#f2a3b6" stroke="#e3627f" stroke-width="0.85"/>
<circle cx="509.94" cy="314.23" r="2.7" fill="#f2a3b6" stroke="#e3627f" stroke-width="0.85"/>
<circle cx="511.11" cy="314.12" r="2.7" fill="#f2a3b6" stroke="#e3627f" stroke-width="0.85"/>
<circle cx="512.27" cy="314.54" r="2.7" fill="#f2a3b6" stroke="#e3627f" stroke-width="0.85"/>
<circle cx="513.44" cy="314.48" r="2.7" fill="#f2a3b6" stroke="#e3627f" stroke-width="0.85"/>
<circle cx="514.6" cy="314.42" r="2.7" fill="#f2a3b6" stroke="#e3627f" stroke-width="0.85"/>
<circle cx="515.76" cy="314.64" r="2.7" fill="#f2a3b6" stroke="#e3627f" stroke-width="0.85"/>
<circle cx="516.93" cy="314.8" r="2.7" fill="#f2a3b6" stroke="#e3627f" stroke-width="0.85"/>
<circle cx="518.1" cy="314.77" r="2.7" fill="#f2a3b6" stroke="#e3627f" stroke-width="0.85"/>
<circle cx="519.26" cy="314.87" r="2.7" fill="#f2a3b6" stroke="#e3627f" stroke-width="0.85"/>
<circle cx="520.43" cy="314.87" r="2.7" fill="#f2a3b6" stroke="#e3627f" stroke-width="0.85"/>
<circle cx="521.59" cy="315.1" r="2.7" fill="#f2a3b6" stroke="#e3627f" stroke-width="0.85"/>
<circle cx="522.75" cy="315.25" r="2.7" fill="#f2a3b6" stroke="#e3627f" stroke-width="0.85"/>
<circle cx="523.92" cy="314.85" r="2.7" fill="#f2a3b6" stroke="#e3627f" stroke-width="0.85"/>
<circle cx="525.09" cy="314.9" r="2.7" fill="#f2a3b6" stroke="#e3627f" stroke-width="0.85"/>
<circle cx="526.25" cy="315.32" r="2.7" fill="#f2a3b6" stroke="#e3627f" stroke-width="0.85"/>
<circle cx="527.41" cy="314.97" r="2.7" fill="#f2a3b6" stroke="#e3627f" stroke-width="0.85"/>
<circle cx="528.58" cy="315.29" r="2.7" fill="#f2a3b6" stroke="#e3627f" stroke-width="0.85"/>
<circle cx="529.75" cy="315.33" r="2.7" fill="#f2a3b6" stroke="#e3627f" stroke-width="0.85"/>
<circle cx="530.91" cy="315.36" r="2.7" fill="#f2a3b6" stroke="#e3627f" stroke-width="0.85"/>
<circle cx="532.08" cy="315.6" r="2.7" fill="#f2a3b6" stroke="#e3627f" stroke-width="0.85"/>
<circle cx="533.24" cy="315.55" r="2.7" fill="#f2a3b6" stroke="#e3627f" stroke-width="0.85"/>
<circle cx="534.4" cy="315.13" r="2.7" fill="#f2a3b6" stroke="#e3627f" stroke-width="0.85"/>
<circle cx="535.57" cy="315.5" r="2.7" fill="#f2a3b6" stroke="#e3627f" stroke-width="0.85"/>
<circle cx="536.74" cy="315.46" r="2.7" fill="#f2a3b6" stroke="#e3627f" stroke-width="0.85"/>
<circle cx="537.9" cy="315.56" r="2.7" fill="#f2a3b6" stroke="#e3627f" stroke-width="0.85"/>
<circle cx="539.07" cy="315.47" r="2.7" fill="#f2a3b6" stroke="#e3627f" stroke-width="0.85"/>
<circle cx="540.23" cy="315.46" r="2.7" fill="#f2a3b6" stroke="#e3627f" stroke-width="0.85"/>
<circle cx="541.39" cy="315.83" r="2.7" fill="#f2a3b6" stroke="#e3627f" stroke-width="0.85"/>
<circle cx="542.56" cy="315.73" r="2.7" fill="#f2a3b6" stroke="#e3627f" stroke-width="0.85"/>
<circle cx="543.73" cy="315.57" r="2.7" fill="#f2a3b6" stroke="#e3627f" stroke-width="0.85"/>
<circle cx="544.89" cy="315.62" r="2.7" fill="#f2a3b6" stroke="#e3627f" stroke-width="0.85"/>
<circle cx="546.06" cy="315.72" r="2.7" fill="#f2a3b6" stroke="#e3627f" stroke-width="0.85"/>
<circle cx="547.22" cy="315.67" r="2.7" fill="#f2a3b6" stroke="#e3627f" stroke-width="0.85"/>
<circle cx="548.38" cy="315.95" r="2.7" fill="#f2a3b6" stroke="#e3627f" stroke-width="0.85"/>
<circle cx="549.55" cy="315.73" r="2.7" fill="#f2a3b6" stroke="#e3627f" stroke-width="0.85"/>
<circle cx="550.72" cy="315.73" r="2.7" fill="#f2a3b6" stroke="#e3627f" stroke-width="0.85"/>
<circle cx="551.88" cy="315.78" r="2.7" fill="#f2a3b6" stroke="#e3627f" stroke-width="0.85"/>
<circle cx="553.05" cy="315.85" r="2.7" fill="#f2a3b6" stroke="#e3627f" stroke-width="0.85"/>
<circle cx="554.21" cy="316.32" r="2.7" fill="#f2a3b6" stroke="#e3627f" stroke-width="0.85"/>
<circle cx="555.38" cy="315.96" r="2.7" fill="#f2a3b6" stroke="#e3627f" stroke-width="0.85"/>
<circle cx="556.54" cy="316.24" r="2.7" fill="#f2a3b6" stroke="#e3627f" stroke-width="0.85"/>
<circle cx="557.71" cy="316.52" r="2.7" fill="#f2a3b6" stroke="#e3627f" stroke-width="0.85"/>
<circle cx="558.87" cy="316.36" r="2.7" fill="#f2a3b6" stroke="#e3627f" stroke-width="0.85"/>
<circle cx="560.03" cy="316.18" r="2.7" fill="#f2a3b6" stroke="#e3627f" stroke-width="0.85"/>
<circle cx="561.2" cy="316.72" r="2.7" fill="#f2a3b6" stroke="#e3627f" stroke-width="0.85"/>
<circle cx="562.37" cy="316.78" r="2.7" fill="#f2a3b6" stroke="#e3627f" stroke-width="0.85"/>
<circle cx="563.53" cy="316.25" r="2.7" fill="#f2a3b6" stroke="#e3627f" stroke-width="0.85"/>
<circle cx="564.7" cy="316.44" r="2.7" fill="#f2a3b6" stroke="#e3627f" stroke-width="0.85"/>
<circle cx="565.86" cy="316.67" r="2.7" fill="#f2a3b6" stroke="#e3627f" stroke-width="0.85"/>
<circle cx="567.02" cy="316.92" r="2.7" fill="#f2a3b6" stroke="#e3627f" stroke-width="0.85"/>
<circle cx="568.19" cy="316.68" r="2.7" fill="#f2a3b6" stroke="#e3627f" stroke-width="0.85"/>
<circle cx="569.36" cy="316.95" r="2.7" fill="#f2a3b6" stroke="#e3627f" stroke-width="0.85"/>
<circle cx="570.52" cy="316.68" r="2.7" fill="#f2a3b6" stroke="#e3627f" stroke-width="0.85"/>
<circle cx="571.69" cy="317.05" r="2.7" fill="#f2a3b6" stroke="#e3627f" stroke-width="0.85"/>
<circle cx="572.85" cy="316.83" r="2.7" fill="#f2a3b6" stroke="#e3627f" stroke-width="0.85"/>
<circle cx="574.01" cy="316.88" r="2.7" fill="#f2a3b6" stroke="#e3627f" stroke-width="0.85"/>
<circle cx="575.18" cy="317.22" r="2.7" fill="#f2a3b6" stroke="#e3627f" stroke-width="0.85"/>
<circle cx="576.35" cy="317.33" r="2.7" fill="#f2a3b6" stroke="#e3627f" stroke-width="0.85"/>
<circle cx="577.51" cy="317.37" r="2.7" fill="#f2a3b6" stroke="#e3627f" stroke-width="0.85"/>
<circle cx="578.68" cy="317.23" r="2.7" fill="#f2a3b6" stroke="#e3627f" stroke-width="0.85"/>
<circle cx="579.84" cy="317.18" r="2.7" fill="#f2a3b6" stroke="#e3627f" stroke-width="0.85"/>
<circle cx="581" cy="317.42" r="2.7" fill="#f2a3b6" stroke="#e3627f" stroke-width="0.85"/>
<circle cx="582.17" cy="317.41" r="2.7" fill="#f2a3b6" stroke="#e3627f" stroke-width="0.85"/>
<circle cx="583.34" cy="317.6" r="2.7" fill="#f2a3b6" stroke="#e3627f" stroke-width="0.85"/>
<circle cx="584.5" cy="317.62" r="2.7" fill="#f2a3b6" stroke="#e3627f" stroke-width="0.85"/>
<circle cx="585.66" cy="317.2" r="2.7" fill="#f2a3b6" stroke="#e3627f" stroke-width="0.85"/>
<circle cx="586.83" cy="317.42" r="2.7" fill="#f2a3b6" stroke="#e3627f" stroke-width="0.85"/>
<circle cx="588" cy="317.67" r="2.7" fill="#f2a3b6" stroke="#e3627f" stroke-width="0.85"/>
<circle cx="589.16" cy="317.41" r="2.7" fill="#f2a3b6" stroke="#e3627f" stroke-width="0.85"/>
<circle cx="590.33" cy="317.42" r="2.7" fill="#f2a3b6" stroke="#e3627f" stroke-width="0.85"/>
<circle cx="591.49" cy="317.34" r="2.7" fill="#f2a3b6" stroke="#e3627f" stroke-width="0.85"/>
<circle cx="592.65" cy="317.79" r="2.7" fill="#f2a3b6" stroke="#e3627f" stroke-width="0.85"/>
<circle cx="593.82" cy="318.08" r="2.7" fill="#f2a3b6" stroke="#e3627f" stroke-width="0.85"/>
<circle cx="594.99" cy="318.15" r="2.7" fill="#f2a3b6" stroke="#e3627f" stroke-width="0.85"/>
<circle cx="596.15" cy="317.61" r="2.7" fill="#f2a3b6" stroke="#e3627f" stroke-width="0.85"/>
<circle cx="597.31" cy="318.04" r="2.7" fill="#f2a3b6" stroke="#e3627f" stroke-width="0.85"/>
<circle cx="598.48" cy="317.9" r="2.7" fill="#f2a3b6" stroke="#e3627f" stroke-width="0.85"/>
<circle cx="599.64" cy="318.09" r="2.7" fill="#f2a3b6" stroke="#e3627f" stroke-width="0.85"/>
<circle cx="600.81" cy="317.97" r="2.7" fill="#f2a3b6" stroke="#e3627f" stroke-width="0.85"/>
<circle cx="601.98" cy="318.4" r="2.7" fill="#f2a3b6" stroke="#e3627f" stroke-width="0.85"/>
<circle cx="603.14" cy="318.48" r="2.7" fill="#f2a3b6" stroke="#e3627f" stroke-width="0.85"/>
<circle cx="604.3" cy="317.87" r="2.7" fill="#f2a3b6" stroke="#e3627f" stroke-width="0.85"/>
<circle cx="605.47" cy="318.38" r="2.7" fill="#f2a3b6" stroke="#e3627f" stroke-width="0.85"/>
<circle cx="606.63" cy="318.01" r="2.7" fill="#f2a3b6" stroke="#e3627f" stroke-width="0.85"/>
<circle cx="607.8" cy="318" r="2.7" fill="#f2a3b6" stroke="#e3627f" stroke-width="0.85"/>
<circle cx="608.97" cy="318.21" r="2.7" fill="#f2a3b6" stroke="#e3627f" stroke-width="0.85"/>
<circle cx="610.13" cy="318.57" r="2.7" fill="#f2a3b6" stroke="#e3627f" stroke-width="0.85"/>
<circle cx="611.29" cy="318.8" r="2.7" fill="#f2a3b6" stroke="#e3627f" stroke-width="0.85"/>
<circle cx="612.46" cy="318.23" r="2.7" fill="#f2a3b6" stroke="#e3627f" stroke-width="0.85"/>
<circle cx="613.62" cy="318.42" r="2.7" fill="#f2a3b6" stroke="#e3627f" stroke-width="0.85"/>
<circle cx="614.79" cy="318.26" r="2.7" fill="#f2a3b6" stroke="#e3627f" stroke-width="0.85"/>
<circle cx="615.96" cy="318.66" r="2.7" fill="#f2a3b6" stroke="#e3627f" stroke-width="0.85"/>
<circle cx="617.12" cy="318.67" r="2.7" fill="#f2a3b6" stroke="#e3627f" stroke-width="0.85"/>
<circle cx="618.28" cy="318.64" r="2.7" fill="#f2a3b6" stroke="#e3627f" stroke-width="0.85"/>
<circle cx="619.45" cy="318.64" r="2.7" fill="#f2a3b6" stroke="#e3627f" stroke-width="0.85"/>
<circle cx="620.62" cy="319.03" r="2.7" fill="#f2a3b6" stroke="#e3627f" stroke-width="0.85"/>
<circle cx="621.78" cy="319.1" r="2.7" fill="#f2a3b6" stroke="#e3627f" stroke-width="0.85"/>
<circle cx="622.95" cy="318.75" r="2.7" fill="#f2a3b6" stroke="#e3627f" stroke-width="0.85"/>
<circle cx="624.11" cy="318.87" r="2.7" fill="#f2a3b6" stroke="#e3627f" stroke-width="0.85"/>
<circle cx="625.27" cy="319.07" r="2.7" fill="#f2a3b6" stroke="#e3627f" stroke-width="0.85"/>
<circle cx="626.44" cy="319.21" r="2.7" fill="#f2a3b6" stroke="#e3627f" stroke-width="0.85"/>
<circle cx="627.61" cy="319.41" r="2.7" fill="#f2a3b6" stroke="#e3627f" stroke-width="0.85"/>
<circle cx="628.77" cy="319.03" r="2.7" fill="#f2a3b6" stroke="#e3627f" stroke-width="0.85"/>
<circle cx="629.93" cy="319.29" r="2.7" fill="#f2a3b6" stroke="#e3627f" stroke-width="0.85"/>
<circle cx="631.1" cy="319.22" r="2.7" fill="#f2a3b6" stroke="#e3627f" stroke-width="0.85"/>
<circle cx="632.26" cy="319.44" r="2.7" fill="#f2a3b6" stroke="#e3627f" stroke-width="0.85"/>
<circle cx="633.43" cy="319.03" r="2.7" fill="#f2a3b6" stroke="#e3627f" stroke-width="0.85"/>
<circle cx="634.6" cy="319.09" r="2.7" fill="#f2a3b6" stroke="#e3627f" stroke-width="0.85"/>
<circle cx="635.76" cy="319.08" r="2.7" fill="#f2a3b6" stroke="#e3627f" stroke-width="0.85"/>
<circle cx="636.92" cy="319.7" r="2.7" fill="#f2a3b6" stroke="#e3627f" stroke-width="0.85"/>
<circle cx="638.09" cy="319.27" r="2.7" fill="#f2a3b6" stroke="#e3627f" stroke-width="0.85"/>
<circle cx="639.25" cy="319.47" r="2.7" fill="#f2a3b6" stroke="#e3627f" stroke-width="0.85"/>
<circle cx="640.42" cy="319.26" r="2.7" fill="#f2a3b6" stroke="#e3627f" stroke-width="0.85"/>
<circle cx="641.59" cy="319.44" r="2.7" fill="#f2a3b6" stroke="#e3627f" stroke-width="0.85"/>
<circle cx="642.75" cy="319.27" r="2.7" fill="#f2a3b6" stroke="#e3627f" stroke-width="0.85"/>
<circle cx="643.91" cy="319.69" r="2.7" fill="#f2a3b6" stroke="#e3627f" stroke-width="0.85"/>
<circle cx="645.08" cy="319.44" r="2.7" fill="#f2a3b6" stroke="#e3627f" stroke-width="0.85"/>
<circle cx="646.25" cy="319.81" r="2.7" fill="#f2a3b6" stroke="#e3627f" stroke-width="0.85"/>
<circle cx="647.41" cy="319.61" r="2.7" fill="#f2a3b6" stroke="#e3627f" stroke-width="0.85"/>
<circle cx="648.58" cy="319.62" r="2.7" fill="#f2a3b6" stroke="#e3627f" stroke-width="0.85"/>
<circle cx="649.74" cy="319.84" r="2.7" fill="#f2a3b6" stroke="#e3627f" stroke-width="0.85"/>
<circle cx="650.9" cy="319.8" r="2.7" fill="#f2a3b6" stroke="#e3627f" stroke-width="0.85"/>
<circle cx="652.07" cy="319.76" r="2.7" fill="#f2a3b6" stroke="#e3627f" stroke-width="0.85"/>
<circle cx="653.24" cy="319.66" r="2.7" fill="#f2a3b6" stroke="#e3627f" stroke-width="0.85"/>
<circle cx="654.4" cy="319.7" r="2.7" fill="#f2a3b6" stroke="#e3627f" stroke-width="0.85"/>
</g>
<rect x="71.9" y="226.6" width="582.5" height="149.7" fill="none" stroke="#8f8f8f" stroke-width="1.0"/>
<line x1="71.9" y1="376.5" x2="74.4" y2="376.5" stroke="#8f8f8f" stroke-width="0.9" />
<text x="69.2" y="379.8" font-size="9.3" text-anchor="end" fill="#111" stroke="#111" stroke-width="0.12">0</text>
<line x1="71.9" y1="369" x2="73.4" y2="369" stroke="#8f8f8f" stroke-width="0.9" />
<line x1="71.9" y1="361.5" x2="74.4" y2="361.5" stroke="#8f8f8f" stroke-width="0.9" />
<text x="69.2" y="364.8" font-size="9.3" text-anchor="end" fill="#111" stroke="#111" stroke-width="0.12">5</text>
<line x1="71.9" y1="354" x2="73.4" y2="354" stroke="#8f8f8f" stroke-width="0.9" />
<line x1="71.9" y1="346.5" x2="74.4" y2="346.5" stroke="#8f8f8f" stroke-width="0.9" />
<text x="69.2" y="349.8" font-size="9.3" text-anchor="end" fill="#111" stroke="#111" stroke-width="0.12">10</text>
<line x1="71.9" y1="339" x2="73.4" y2="339" stroke="#8f8f8f" stroke-width="0.9" />
<line x1="71.9" y1="331.5" x2="74.4" y2="331.5" stroke="#8f8f8f" stroke-width="0.9" />
<text x="69.2" y="334.8" font-size="9.3" text-anchor="end" fill="#111" stroke="#111" stroke-width="0.12">15</text>
<line x1="71.9" y1="324" x2="73.4" y2="324" stroke="#8f8f8f" stroke-width="0.9" />
<line x1="71.9" y1="316.5" x2="74.4" y2="316.5" stroke="#8f8f8f" stroke-width="0.9" />
<text x="69.2" y="319.8" font-size="9.3" text-anchor="end" fill="#111" stroke="#111" stroke-width="0.12">20</text>
<line x1="71.9" y1="309" x2="73.4" y2="309" stroke="#8f8f8f" stroke-width="0.9" />
<line x1="71.9" y1="301.5" x2="74.4" y2="301.5" stroke="#8f8f8f" stroke-width="0.9" />
<text x="69.2" y="304.8" font-size="9.3" text-anchor="end" fill="#111" stroke="#111" stroke-width="0.12">25</text>
<line x1="71.9" y1="294" x2="73.4" y2="294" stroke="#8f8f8f" stroke-width="0.9" />
<line x1="71.9" y1="286.5" x2="74.4" y2="286.5" stroke="#8f8f8f" stroke-width="0.9" />
<text x="69.2" y="289.8" font-size="9.3" text-anchor="end" fill="#111" stroke="#111" stroke-width="0.12">30</text>
<line x1="71.9" y1="279" x2="73.4" y2="279" stroke="#8f8f8f" stroke-width="0.9" />
<line x1="71.9" y1="271.5" x2="74.4" y2="271.5" stroke="#8f8f8f" stroke-width="0.9" />
<text x="69.2" y="274.8" font-size="9.3" text-anchor="end" fill="#111" stroke="#111" stroke-width="0.12">35</text>
<line x1="71.9" y1="264" x2="73.4" y2="264" stroke="#8f8f8f" stroke-width="0.9" />
<line x1="71.9" y1="256.5" x2="74.4" y2="256.5" stroke="#8f8f8f" stroke-width="0.9" />
<text x="69.2" y="259.8" font-size="9.3" text-anchor="end" fill="#111" stroke="#111" stroke-width="0.12">40</text>
<line x1="71.9" y1="249" x2="73.4" y2="249" stroke="#8f8f8f" stroke-width="0.9" />
<line x1="71.9" y1="241.5" x2="74.4" y2="241.5" stroke="#8f8f8f" stroke-width="0.9" />
<text x="69.2" y="244.8" font-size="9.3" text-anchor="end" fill="#111" stroke="#111" stroke-width="0.12">45</text>
<line x1="71.9" y1="234" x2="73.4" y2="234" stroke="#8f8f8f" stroke-width="0.9" />
<line x1="71.9" y1="226.5" x2="74.4" y2="226.5" stroke="#8f8f8f" stroke-width="0.9" />
<text x="69.2" y="229.8" font-size="9.3" text-anchor="end" fill="#111" stroke="#111" stroke-width="0.12">50</text>
<line x1="654.4" y1="366.9" x2="651.9" y2="366.9" stroke="#8f8f8f" stroke-width="0.9" />
<text x="657.4" y="370.2" font-size="9.3" text-anchor="start" fill="#111" stroke="#111" stroke-width="0.12">94</text>
<line x1="654.4" y1="356.89" x2="652.9" y2="356.89" stroke="#8f8f8f" stroke-width="0.9" />
<line x1="654.4" y1="346.89" x2="651.9" y2="346.89" stroke="#8f8f8f" stroke-width="0.9" />
<text x="657.4" y="350.19" font-size="9.3" text-anchor="start" fill="#111" stroke="#111" stroke-width="0.12">95</text>
<line x1="654.4" y1="336.88" x2="652.9" y2="336.88" stroke="#8f8f8f" stroke-width="0.9" />
<line x1="654.4" y1="326.88" x2="651.9" y2="326.88" stroke="#8f8f8f" stroke-width="0.9" />
<text x="657.4" y="330.18" font-size="9.3" text-anchor="start" fill="#111" stroke="#111" stroke-width="0.12">96</text>
<line x1="654.4" y1="316.88" x2="652.9" y2="316.88" stroke="#8f8f8f" stroke-width="0.9" />
<line x1="654.4" y1="306.87" x2="651.9" y2="306.87" stroke="#8f8f8f" stroke-width="0.9" />
<text x="657.4" y="310.17" font-size="9.3" text-anchor="start" fill="#111" stroke="#111" stroke-width="0.12">97</text>
<line x1="654.4" y1="296.86" x2="652.9" y2="296.86" stroke="#8f8f8f" stroke-width="0.9" />
<line x1="654.4" y1="286.86" x2="651.9" y2="286.86" stroke="#8f8f8f" stroke-width="0.9" />
<text x="657.4" y="290.16" font-size="9.3" text-anchor="start" fill="#111" stroke="#111" stroke-width="0.12">98</text>
<line x1="654.4" y1="276.85" x2="652.9" y2="276.85" stroke="#8f8f8f" stroke-width="0.9" />
<line x1="654.4" y1="266.85" x2="651.9" y2="266.85" stroke="#8f8f8f" stroke-width="0.9" />
<text x="657.4" y="270.15" font-size="9.3" text-anchor="start" fill="#111" stroke="#111" stroke-width="0.12">99</text>
<line x1="654.4" y1="256.84" x2="652.9" y2="256.84" stroke="#8f8f8f" stroke-width="0.9" />
<line x1="654.4" y1="246.84" x2="651.9" y2="246.84" stroke="#8f8f8f" stroke-width="0.9" />
<text x="657.4" y="250.14" font-size="9.3" text-anchor="start" fill="#111" stroke="#111" stroke-width="0.12">100</text>
<line x1="654.4" y1="236.83" x2="652.9" y2="236.83" stroke="#8f8f8f" stroke-width="0.9" />
<line x1="654.4" y1="226.83" x2="651.9" y2="226.83" stroke="#8f8f8f" stroke-width="0.9" />
<text x="657.4" y="230.13" font-size="9.3" text-anchor="start" fill="#111" stroke="#111" stroke-width="0.12">101</text>
<line x1="71.9" y1="376.3" x2="71.9" y2="373.8" stroke="#8f8f8f" stroke-width="0.9" />
<text x="71.9" y="387.2" font-size="9.3" text-anchor="middle" fill="#111" stroke="#111" stroke-width="0.12">0</text>
<line x1="101.03" y1="376.3" x2="101.03" y2="374.8" stroke="#8f8f8f" stroke-width="0.9" />
<line x1="130.15" y1="376.3" x2="130.15" y2="373.8" stroke="#8f8f8f" stroke-width="0.9" />
<text x="130.15" y="387.2" font-size="9.3" text-anchor="middle" fill="#111" stroke="#111" stroke-width="0.12">50</text>
<line x1="159.28" y1="376.3" x2="159.28" y2="374.8" stroke="#8f8f8f" stroke-width="0.9" />
<line x1="188.4" y1="376.3" x2="188.4" y2="373.8" stroke="#8f8f8f" stroke-width="0.9" />
<text x="188.4" y="387.2" font-size="9.3" text-anchor="middle" fill="#111" stroke="#111" stroke-width="0.12">100</text>
<line x1="217.53" y1="376.3" x2="217.53" y2="374.8" stroke="#8f8f8f" stroke-width="0.9" />
<line x1="246.65" y1="376.3" x2="246.65" y2="373.8" stroke="#8f8f8f" stroke-width="0.9" />
<text x="246.65" y="387.2" font-size="9.3" text-anchor="middle" fill="#111" stroke="#111" stroke-width="0.12">150</text>
<line x1="275.77" y1="376.3" x2="275.77" y2="374.8" stroke="#8f8f8f" stroke-width="0.9" />
<line x1="304.9" y1="376.3" x2="304.9" y2="373.8" stroke="#8f8f8f" stroke-width="0.9" />
<text x="304.9" y="387.2" font-size="9.3" text-anchor="middle" fill="#111" stroke="#111" stroke-width="0.12">200</text>
<line x1="334.02" y1="376.3" x2="334.02" y2="374.8" stroke="#8f8f8f" stroke-width="0.9" />
<line x1="363.15" y1="376.3" x2="363.15" y2="373.8" stroke="#8f8f8f" stroke-width="0.9" />
<text x="363.15" y="387.2" font-size="9.3" text-anchor="middle" fill="#111" stroke="#111" stroke-width="0.12">250</text>
<line x1="392.27" y1="376.3" x2="392.27" y2="374.8" stroke="#8f8f8f" stroke-width="0.9" />
<line x1="421.4" y1="376.3" x2="421.4" y2="373.8" stroke="#8f8f8f" stroke-width="0.9" />
<text x="421.4" y="387.2" font-size="9.3" text-anchor="middle" fill="#111" stroke="#111" stroke-width="0.12">300</text>
<line x1="450.52" y1="376.3" x2="450.52" y2="374.8" stroke="#8f8f8f" stroke-width="0.9" />
<line x1="479.65" y1="376.3" x2="479.65" y2="373.8" stroke="#8f8f8f" stroke-width="0.9" />
<text x="479.65" y="387.2" font-size="9.3" text-anchor="middle" fill="#111" stroke="#111" stroke-width="0.12">350</text>
<line x1="508.77" y1="376.3" x2="508.77" y2="374.8" stroke="#8f8f8f" stroke-width="0.9" />
<line x1="537.9" y1="376.3" x2="537.9" y2="373.8" stroke="#8f8f8f" stroke-width="0.9" />
<text x="537.9" y="387.2" font-size="9.3" text-anchor="middle" fill="#111" stroke="#111" stroke-width="0.12">400</text>
<line x1="567.02" y1="376.3" x2="567.02" y2="374.8" stroke="#8f8f8f" stroke-width="0.9" />
<line x1="596.15" y1="376.3" x2="596.15" y2="373.8" stroke="#8f8f8f" stroke-width="0.9" />
<text x="596.15" y="387.2" font-size="9.3" text-anchor="middle" fill="#111" stroke="#111" stroke-width="0.12">450</text>
<line x1="625.27" y1="376.3" x2="625.27" y2="374.8" stroke="#8f8f8f" stroke-width="0.9" />
<line x1="654.4" y1="376.3" x2="654.4" y2="373.8" stroke="#8f8f8f" stroke-width="0.9" />
<text x="654.4" y="387.2" font-size="9.3" text-anchor="middle" fill="#111" stroke="#111" stroke-width="0.12">500</text>
<text x="362.7" y="401.8" font-size="9.0" text-anchor="middle" fill="#111" stroke="#111" stroke-width="0.12">Cycle</text>
<line x1="37.3" y1="231" x2="37.3" y2="376.2" stroke="#8f8f8f" stroke-width="0.9" />
<line x1="37.3" y1="376.1" x2="39.8" y2="376.1" stroke="#8f8f8f" stroke-width="0.9" />
<text x="33.8" y="379.3" font-size="9.0" text-anchor="end" fill="#111" stroke="#111" stroke-width="0.12">0</text>
<line x1="37.3" y1="363.58" x2="38.8" y2="363.58" stroke="#8f8f8f" stroke-width="0.9" />
<line x1="37.3" y1="351.06" x2="39.8" y2="351.06" stroke="#8f8f8f" stroke-width="0.9" />
<text x="33.8" y="354.26" font-size="9.0" text-anchor="end" fill="#111" stroke="#111" stroke-width="0.12">400</text>
<line x1="37.3" y1="338.54" x2="38.8" y2="338.54" stroke="#8f8f8f" stroke-width="0.9" />
<line x1="37.3" y1="326.02" x2="39.8" y2="326.02" stroke="#8f8f8f" stroke-width="0.9" />
<text x="33.8" y="329.22" font-size="9.0" text-anchor="end" fill="#111" stroke="#111" stroke-width="0.12">800</text>
<line x1="37.3" y1="313.5" x2="38.8" y2="313.5" stroke="#8f8f8f" stroke-width="0.9" />
<line x1="37.3" y1="300.98" x2="39.8" y2="300.98" stroke="#8f8f8f" stroke-width="0.9" />
<text x="33.8" y="304.18" font-size="9.0" text-anchor="end" fill="#111" stroke="#111" stroke-width="0.12">1200</text>
<line x1="37.3" y1="288.46" x2="38.8" y2="288.46" stroke="#8f8f8f" stroke-width="0.9" />
<line x1="37.3" y1="275.94" x2="39.8" y2="275.94" stroke="#8f8f8f" stroke-width="0.9" />
<text x="33.8" y="279.14" font-size="9.0" text-anchor="end" fill="#111" stroke="#111" stroke-width="0.12">1600</text>
<line x1="37.3" y1="263.42" x2="38.8" y2="263.42" stroke="#8f8f8f" stroke-width="0.9" />
<line x1="37.3" y1="250.9" x2="39.8" y2="250.9" stroke="#8f8f8f" stroke-width="0.9" />
<text x="33.8" y="254.1" font-size="9.0" text-anchor="end" fill="#111" stroke="#111" stroke-width="0.12">2000</text>
<line x1="37.3" y1="238.38" x2="38.8" y2="238.38" stroke="#8f8f8f" stroke-width="0.9" />
<text x="9.2" y="301.4" font-size="9.55" text-anchor="middle" fill="#111" stroke="#111" stroke-width="0.12" transform="rotate(-90 9.2 301.4)">Specific Capacity (mAh g<tspan dy="-3.6" font-size="6.3">-1</tspan><tspan dy="3.6">)</tspan></text>
<text x="53" y="302.4" font-size="9.35" text-anchor="middle" fill="#111" stroke="#111" stroke-width="0.12" transform="rotate(-90 53 302.4)">Areal Capacity (mAh cm<tspan dy="-3.6" font-size="6.3">-2</tspan><tspan dy="3.6">)</tspan></text>
<text x="683" y="301" font-size="9.37" text-anchor="middle" fill="#111" stroke="#111" stroke-width="0.12" transform="rotate(-90 683 301)">Coulombic Efficiency (%)</text>
<line x1="100.2" y1="287" x2="84.5" y2="287" stroke="#111" stroke-width="1.5" />
<path d="M81,287 L86,283.3 L86,290.7 Z" fill="#111"/>
<line x1="629.2" y1="263.3" x2="645.1" y2="263.3" stroke="#111" stroke-width="1.5" />
<path d="M648.6,263.3 L643.6,259.6 L643.6,267 Z" fill="#111"/>
<text x="566.9" y="302.5" font-size="12.0" text-anchor="start" font-weight="bold" fill="#e2607e">19.0 mAh cm<tspan dy="-4.0" font-size="8.0">−2</tspan></text>
<line x1="635.5" y1="306.6" x2="646" y2="312.3" stroke="#e2607e" stroke-width="1.0" />
<path d="M649.3,314 L643.6,312.9 L645.6,309.5 Z" fill="#e2607e"/>
<text x="78.4" y="342.5" font-size="12.0" text-anchor="start" font-weight="bold" fill="#111">Si|LiBH<tspan dy="2.6" font-size="7.8">4</tspan><tspan dy="-2.6">|S</tspan></text>
<text x="78.3" y="361.9" font-size="12.1" text-anchor="start" font-weight="bold" fill="#111">21.0 mg cm<tspan dy="-4.0" font-size="8.2">−2</tspan></text>
<text x="166.7" y="361.9" font-size="12.1" text-anchor="start" font-weight="bold" fill="#111">3.5 mA cm<tspan dy="-4.0" font-size="8.2">−2</tspan></text>
<text x="254.4" y="361.9" font-size="12.2" text-anchor="start" font-weight="bold" fill="#e2607e">Benchmark of LIBs</text>
<text x="374" y="361.9" font-size="12.2" text-anchor="start" font-weight="bold" fill="#e2607e">3.0 mAh cm<tspan dy="-4.0" font-size="8.2">−2</tspan></text></svg>
</body></html>
